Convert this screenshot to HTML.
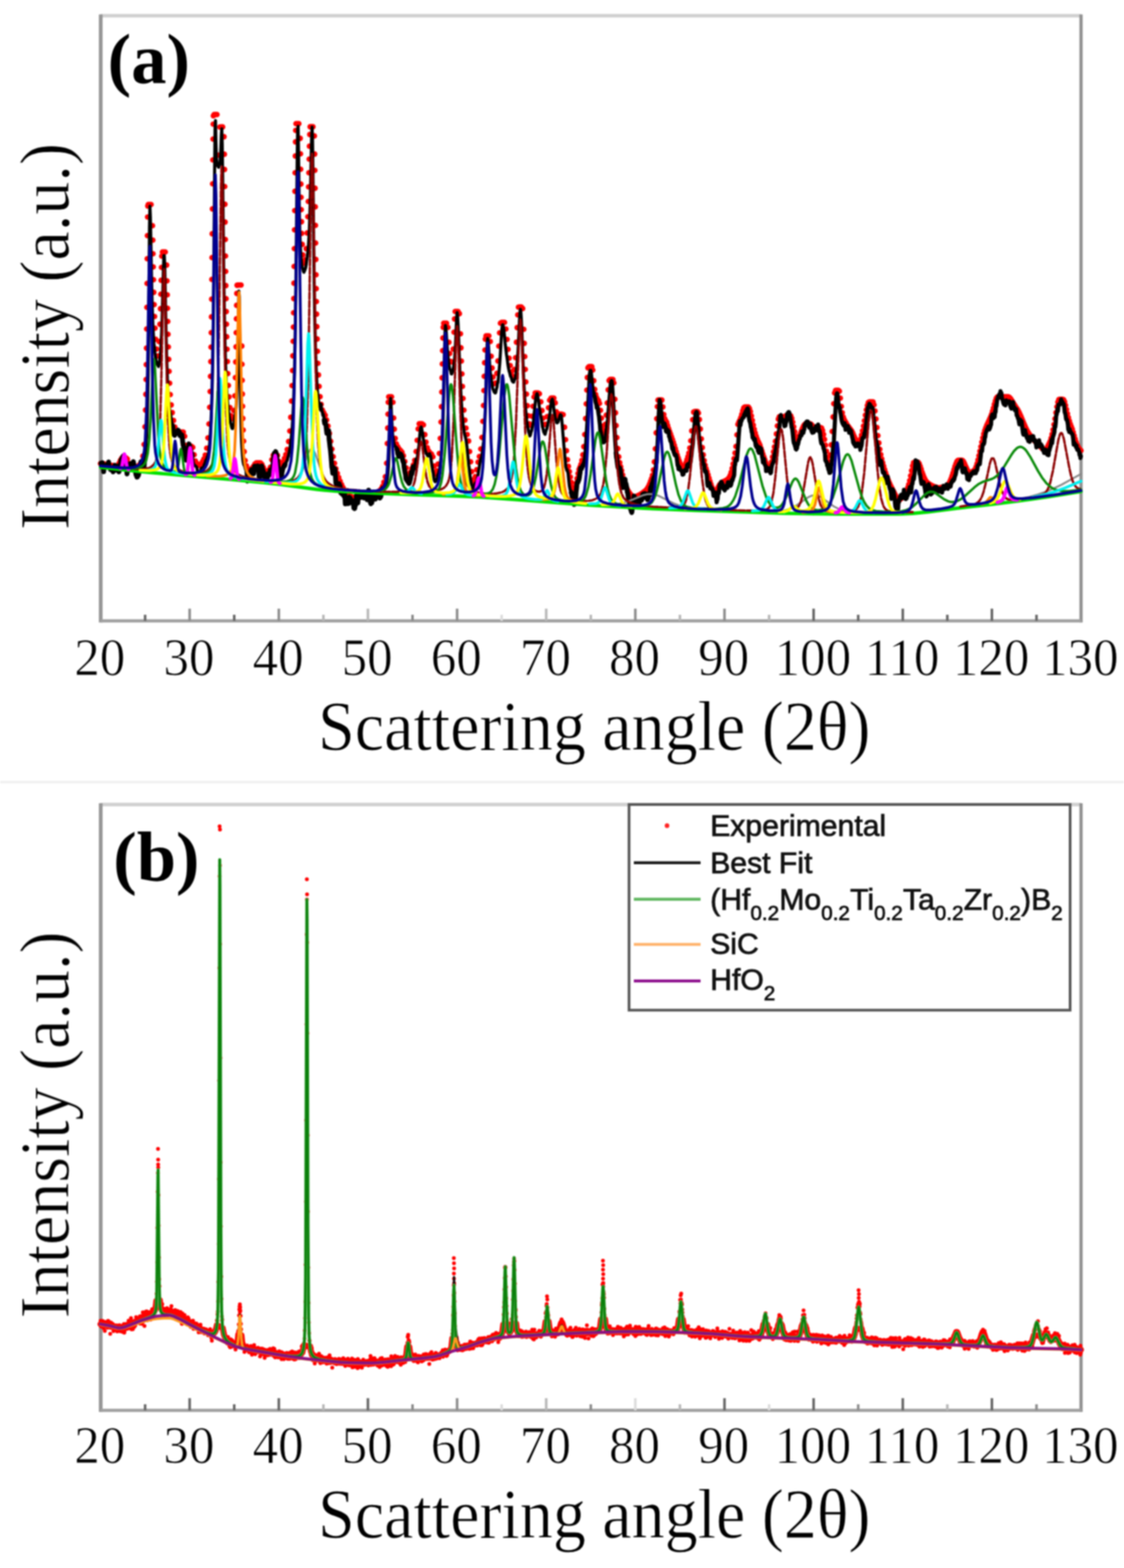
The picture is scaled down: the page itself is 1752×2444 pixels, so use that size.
<!DOCTYPE html><html><head><meta charset="utf-8"><title>XRD patterns</title>
<style>html,body{margin:0;padding:0;background:#fff;}body{width:1752px;height:2444px;overflow:hidden;}svg{display:block;}.s{font-family:"Liberation Serif","DejaVu Serif",serif;fill:#000;}.a{font-family:"Liberation Sans","DejaVu Sans",sans-serif;fill:#111;}path,polyline{fill:none;stroke-linejoin:round;stroke-linecap:round;}</style></head><body>
<svg width="1752" height="2444" viewBox="0 0 1752 2444">
<defs><filter id="bl" x="-5%" y="-5%" width="110%" height="110%" color-interpolation-filters="sRGB"><feGaussianBlur stdDeviation="1.1"/></filter><marker id="rd" markerWidth="12" markerHeight="12" refX="6" refY="6" markerUnits="userSpaceOnUse"><circle cx="6" cy="6" r="4.3" fill="#f00"/></marker><marker id="rs" markerWidth="8" markerHeight="8" refX="4" refY="4" markerUnits="userSpaceOnUse"><circle cx="4" cy="4" r="3.0" fill="#f00"/></marker></defs>
<rect width="1752" height="2444" fill="#fff"/>
<g filter="url(#bl)">
<line x1="0" y1="1219" x2="1752" y2="1219" stroke="#f1f1f1" stroke-width="4"/>
<line x1="156.7" y1="24.5" x2="1685.04" y2="24.5" stroke="#d0d0d0" stroke-width="5.6"/>
<line x1="157.0" y1="22.5" x2="157.0" y2="970.2" stroke="#969696" stroke-width="5.8"/>
<line x1="1685.04" y1="22.5" x2="1685.04" y2="970.2" stroke="#909090" stroke-width="5"/>
<line x1="156.7" y1="967.7" x2="1685.04" y2="967.7" stroke="#a0a0a0" stroke-width="5"/>
<line x1="226.2" y1="967.7" x2="226.2" y2="958.2" stroke="#666" stroke-width="4" stroke-linecap="butt"/>
<line x1="295.6" y1="967.7" x2="295.6" y2="948.7" stroke="#8c8c8c" stroke-width="4" stroke-linecap="butt"/>
<line x1="365.1" y1="967.7" x2="365.1" y2="958.2" stroke="#666" stroke-width="4" stroke-linecap="butt"/>
<line x1="434.6" y1="967.7" x2="434.6" y2="948.7" stroke="#8c8c8c" stroke-width="4" stroke-linecap="butt"/>
<line x1="504.1" y1="967.7" x2="504.1" y2="958.2" stroke="#b8b8b8" stroke-width="4" stroke-linecap="butt"/>
<line x1="573.5" y1="967.7" x2="573.5" y2="948.7" stroke="#b8b8b8" stroke-width="4" stroke-linecap="butt"/>
<line x1="643.0" y1="967.7" x2="643.0" y2="958.2" stroke="#8c8c8c" stroke-width="4" stroke-linecap="butt"/>
<line x1="712.5" y1="967.7" x2="712.5" y2="948.7" stroke="#8c8c8c" stroke-width="4" stroke-linecap="butt"/>
<line x1="781.9" y1="967.7" x2="781.9" y2="958.2" stroke="#dcdcdc" stroke-width="4" stroke-linecap="butt"/>
<line x1="851.4" y1="967.7" x2="851.4" y2="948.7" stroke="#b8b8b8" stroke-width="4" stroke-linecap="butt"/>
<line x1="920.9" y1="967.7" x2="920.9" y2="958.2" stroke="#b8b8b8" stroke-width="4" stroke-linecap="butt"/>
<line x1="990.3" y1="967.7" x2="990.3" y2="948.7" stroke="#8c8c8c" stroke-width="4" stroke-linecap="butt"/>
<line x1="1059.8" y1="967.7" x2="1059.8" y2="958.2" stroke="#b8b8b8" stroke-width="4" stroke-linecap="butt"/>
<line x1="1129.3" y1="967.7" x2="1129.3" y2="948.7" stroke="#8c8c8c" stroke-width="4" stroke-linecap="butt"/>
<line x1="1198.8" y1="967.7" x2="1198.8" y2="958.2" stroke="#b8b8b8" stroke-width="4" stroke-linecap="butt"/>
<line x1="1268.2" y1="967.7" x2="1268.2" y2="948.7" stroke="#666" stroke-width="4" stroke-linecap="butt"/>
<line x1="1337.7" y1="967.7" x2="1337.7" y2="958.2" stroke="#666" stroke-width="4" stroke-linecap="butt"/>
<line x1="1407.2" y1="967.7" x2="1407.2" y2="948.7" stroke="#666" stroke-width="4" stroke-linecap="butt"/>
<line x1="1476.6" y1="967.7" x2="1476.6" y2="958.2" stroke="#666" stroke-width="4" stroke-linecap="butt"/>
<line x1="1546.1" y1="967.7" x2="1546.1" y2="948.7" stroke="#666" stroke-width="4" stroke-linecap="butt"/>
<line x1="1615.6" y1="967.7" x2="1615.6" y2="958.2" stroke="#666" stroke-width="4" stroke-linecap="butt"/>
<text class="s" transform="translate(155.5,1051.7) scale(0.964,1)" font-size="82.5" text-anchor="middle" stroke="#fff" stroke-width="1.0" paint-order="fill stroke">20</text>
<text class="s" transform="translate(294.4,1051.7) scale(0.964,1)" font-size="82.5" text-anchor="middle" stroke="#fff" stroke-width="1.0" paint-order="fill stroke">30</text>
<text class="s" transform="translate(433.4,1051.7) scale(0.964,1)" font-size="82.5" text-anchor="middle" stroke="#fff" stroke-width="1.0" paint-order="fill stroke">40</text>
<text class="s" transform="translate(572.3,1051.7) scale(0.964,1)" font-size="82.5" text-anchor="middle" stroke="#fff" stroke-width="1.0" paint-order="fill stroke">50</text>
<text class="s" transform="translate(711.3,1051.7) scale(0.964,1)" font-size="82.5" text-anchor="middle" stroke="#fff" stroke-width="1.0" paint-order="fill stroke">60</text>
<text class="s" transform="translate(850.2,1051.7) scale(0.964,1)" font-size="82.5" text-anchor="middle" stroke="#fff" stroke-width="1.0" paint-order="fill stroke">70</text>
<text class="s" transform="translate(989.1,1051.7) scale(0.964,1)" font-size="82.5" text-anchor="middle" stroke="#fff" stroke-width="1.0" paint-order="fill stroke">80</text>
<text class="s" transform="translate(1128.1,1051.7) scale(0.964,1)" font-size="82.5" text-anchor="middle" stroke="#fff" stroke-width="1.0" paint-order="fill stroke">90</text>
<text class="s" transform="translate(1267.0,1051.7) scale(0.964,1)" font-size="82.5" text-anchor="middle" stroke="#fff" stroke-width="1.0" paint-order="fill stroke">100</text>
<text class="s" transform="translate(1406.0,1051.7) scale(0.964,1)" font-size="82.5" text-anchor="middle" stroke="#fff" stroke-width="1.0" paint-order="fill stroke">110</text>
<text class="s" transform="translate(1544.9,1051.7) scale(0.964,1)" font-size="82.5" text-anchor="middle" stroke="#fff" stroke-width="1.0" paint-order="fill stroke">120</text>
<text class="s" transform="translate(1683.8,1051.7) scale(0.964,1)" font-size="82.5" text-anchor="middle" stroke="#fff" stroke-width="1.0" paint-order="fill stroke">130</text>
<text class="s" transform="translate(926.3,1168.7) scale(0.94,1)" font-size="109.5" text-anchor="middle" stroke="#fff" stroke-width="1.0" paint-order="fill stroke">Scattering angle (2θ)</text>
<text class="s" transform="translate(107,524.6) rotate(-90) scale(0.94,1)" font-size="109.5" text-anchor="middle" stroke="#fff" stroke-width="1.0" paint-order="fill stroke">Intensity (a.u.)</text>
<text class="s" transform="translate(167.8,128.8)" font-size="110" text-anchor="start" font-weight="bold">(a)</text>
<line x1="156.7" y1="1254" x2="1685.04" y2="1254" stroke="#d0d0d0" stroke-width="5.6"/>
<line x1="157.0" y1="1252" x2="157.0" y2="2200.8" stroke="#969696" stroke-width="5.8"/>
<line x1="1685.04" y1="1252" x2="1685.04" y2="2200.8" stroke="#909090" stroke-width="5"/>
<line x1="156.7" y1="2198.3" x2="1685.04" y2="2198.3" stroke="#a0a0a0" stroke-width="5"/>
<line x1="226.2" y1="2198.3" x2="226.2" y2="2188.8" stroke="#666" stroke-width="4" stroke-linecap="butt"/>
<line x1="295.6" y1="2198.3" x2="295.6" y2="2179.3" stroke="#666" stroke-width="4" stroke-linecap="butt"/>
<line x1="365.1" y1="2198.3" x2="365.1" y2="2188.8" stroke="#666" stroke-width="4" stroke-linecap="butt"/>
<line x1="434.6" y1="2198.3" x2="434.6" y2="2179.3" stroke="#666" stroke-width="4" stroke-linecap="butt"/>
<line x1="504.1" y1="2198.3" x2="504.1" y2="2188.8" stroke="#b8b8b8" stroke-width="4" stroke-linecap="butt"/>
<line x1="573.5" y1="2198.3" x2="573.5" y2="2179.3" stroke="#666" stroke-width="4" stroke-linecap="butt"/>
<line x1="643.0" y1="2198.3" x2="643.0" y2="2188.8" stroke="#8c8c8c" stroke-width="4" stroke-linecap="butt"/>
<line x1="712.5" y1="2198.3" x2="712.5" y2="2179.3" stroke="#8c8c8c" stroke-width="4" stroke-linecap="butt"/>
<line x1="781.9" y1="2198.3" x2="781.9" y2="2188.8" stroke="#dcdcdc" stroke-width="4" stroke-linecap="butt"/>
<line x1="851.4" y1="2198.3" x2="851.4" y2="2179.3" stroke="#b8b8b8" stroke-width="4" stroke-linecap="butt"/>
<line x1="920.9" y1="2198.3" x2="920.9" y2="2188.8" stroke="#8c8c8c" stroke-width="4" stroke-linecap="butt"/>
<line x1="990.3" y1="2198.3" x2="990.3" y2="2179.3" stroke="#dcdcdc" stroke-width="4" stroke-linecap="butt"/>
<line x1="1059.8" y1="2198.3" x2="1059.8" y2="2188.8" stroke="#b8b8b8" stroke-width="4" stroke-linecap="butt"/>
<line x1="1129.3" y1="2198.3" x2="1129.3" y2="2179.3" stroke="#666" stroke-width="4" stroke-linecap="butt"/>
<line x1="1198.8" y1="2198.3" x2="1198.8" y2="2188.8" stroke="#dcdcdc" stroke-width="4" stroke-linecap="butt"/>
<line x1="1268.2" y1="2198.3" x2="1268.2" y2="2179.3" stroke="#666" stroke-width="4" stroke-linecap="butt"/>
<line x1="1337.7" y1="2198.3" x2="1337.7" y2="2188.8" stroke="#8c8c8c" stroke-width="4" stroke-linecap="butt"/>
<line x1="1407.2" y1="2198.3" x2="1407.2" y2="2179.3" stroke="#666" stroke-width="4" stroke-linecap="butt"/>
<line x1="1476.6" y1="2198.3" x2="1476.6" y2="2188.8" stroke="#b8b8b8" stroke-width="4" stroke-linecap="butt"/>
<line x1="1546.1" y1="2198.3" x2="1546.1" y2="2179.3" stroke="#666" stroke-width="4" stroke-linecap="butt"/>
<line x1="1615.6" y1="2198.3" x2="1615.6" y2="2188.8" stroke="#8c8c8c" stroke-width="4" stroke-linecap="butt"/>
<text class="s" transform="translate(155.5,2280.0) scale(0.964,1)" font-size="82.5" text-anchor="middle" stroke="#fff" stroke-width="1.0" paint-order="fill stroke">20</text>
<text class="s" transform="translate(294.4,2280.0) scale(0.964,1)" font-size="82.5" text-anchor="middle" stroke="#fff" stroke-width="1.0" paint-order="fill stroke">30</text>
<text class="s" transform="translate(433.4,2280.0) scale(0.964,1)" font-size="82.5" text-anchor="middle" stroke="#fff" stroke-width="1.0" paint-order="fill stroke">40</text>
<text class="s" transform="translate(572.3,2280.0) scale(0.964,1)" font-size="82.5" text-anchor="middle" stroke="#fff" stroke-width="1.0" paint-order="fill stroke">50</text>
<text class="s" transform="translate(711.3,2280.0) scale(0.964,1)" font-size="82.5" text-anchor="middle" stroke="#fff" stroke-width="1.0" paint-order="fill stroke">60</text>
<text class="s" transform="translate(850.2,2280.0) scale(0.964,1)" font-size="82.5" text-anchor="middle" stroke="#fff" stroke-width="1.0" paint-order="fill stroke">70</text>
<text class="s" transform="translate(989.1,2280.0) scale(0.964,1)" font-size="82.5" text-anchor="middle" stroke="#fff" stroke-width="1.0" paint-order="fill stroke">80</text>
<text class="s" transform="translate(1128.1,2280.0) scale(0.964,1)" font-size="82.5" text-anchor="middle" stroke="#fff" stroke-width="1.0" paint-order="fill stroke">90</text>
<text class="s" transform="translate(1267.0,2280.0) scale(0.964,1)" font-size="82.5" text-anchor="middle" stroke="#fff" stroke-width="1.0" paint-order="fill stroke">100</text>
<text class="s" transform="translate(1406.0,2280.0) scale(0.964,1)" font-size="82.5" text-anchor="middle" stroke="#fff" stroke-width="1.0" paint-order="fill stroke">110</text>
<text class="s" transform="translate(1544.9,2280.0) scale(0.964,1)" font-size="82.5" text-anchor="middle" stroke="#fff" stroke-width="1.0" paint-order="fill stroke">120</text>
<text class="s" transform="translate(1683.8,2280.0) scale(0.964,1)" font-size="82.5" text-anchor="middle" stroke="#fff" stroke-width="1.0" paint-order="fill stroke">130</text>
<text class="s" transform="translate(926.3,2397.0) scale(0.94,1)" font-size="109.5" text-anchor="middle" stroke="#fff" stroke-width="1.0" paint-order="fill stroke">Scattering angle (2θ)</text>
<text class="s" transform="translate(107,1753.5) rotate(-90) scale(0.94,1)" font-size="109.5" text-anchor="middle" stroke="#fff" stroke-width="1.0" paint-order="fill stroke">Intensity (a.u.)</text>
<text class="s" transform="translate(176.5,1372.5)" font-size="110" text-anchor="start" font-weight="bold">(b)</text>
<g id="pa">
<polyline points="156.7,722.5 158.9,722.5 161.1,722.9 163.3,723.5 165.5,724.1 167.7,724.6 169.9,725.1 172.1,725.4 174.3,725.6 176.5,725.9 178.7,726.1 180.9,726.2 183.1,726 185.3,722.5 187.5,717.9 189.7,714.2 191.9,713.5 194.1,713.5 196.3,713.5 198.5,715.5 200.7,722.1 202.9,726.5 205.1,726.8 207.3,727 209.5,727.2 211.7,727.3 213.9,727.1 216.1,725.8 218.3,723.5 220.5,720.3 222.7,710.9 224.6,692.8 226,665.2 226.8,639.1 227.3,614.6 227.7,591.5 228,568.3 228.3,542.6 228.6,512.8 228.9,479 229.2,441.7 229.5,403.3 229.8,367.3 230.1,338.3 230.4,321.1 231.1,318.8 233.3,318.8 235.5,318.8 237.7,351.7 238.2,374.3 238.5,395.5 238.9,416 239.3,436 239.7,455.6 240.3,474.7 240.9,493.3 241.6,511.5 242.7,528.8 244.1,544 245.9,554.9 248.1,532.4 249.3,505.4 250.1,481.1 250.7,458.5 251.2,436.9 251.7,416.7 252.2,399.3 253.2,392.7 255.4,392.7 257.6,392.7 259.8,413.1 260.3,437.7 260.7,459.5 261.1,480.5 261.5,501 261.9,521 262.4,540.7 263,560 263.6,578.8 264.4,597.3 265.4,615 266.9,631.1 268.5,643.1 270.5,655.4 272.5,665.6 274.7,672.3 276.9,673.5 279.1,673.5 281.3,673.5 283.5,673.5 285.7,673.5 287.9,680 289.8,694.2 291.6,698.2 293.8,695.5 296,695.5 298.2,695.5 300.4,697.3 302.6,708.8 304.6,718.5 306.8,722.3 309,725.2 311.2,725.5 313.4,723 315.6,719.6 317.8,715.2 320,709.2 322.2,698.5 324.1,682.5 325.7,660.8 326.8,634.7 327.6,610.2 328.1,586.6 328.6,563.6 328.9,541 329.3,518.5 329.6,493.9 329.9,466.3 330.2,435.5 330.5,401.5 330.8,364.4 331.1,325.6 331.4,286.5 331.7,249.2 332,216.8 332.3,193.5 332.6,180.5 333.8,178.5 336,178.5 338.2,178.5 340.4,241.8 342.6,198 344.8,197.9 347,197.9 349.2,213.1 349.7,240.4 350,264.1 350.3,290.7 350.6,318.4 350.9,346.1 351.2,373.2 351.5,399 351.8,423 352.1,445.1 352.4,465.5 352.7,485.6 353,505.3 353.4,524.9 353.9,544.3 354.5,563.5 355.1,582.2 356,600.7 357,618.6 358.4,635.2 360.1,647.8 362.1,652.7 364.2,639.7 365.9,617 366.9,588.6 367.4,564.1 367.9,540.6 368.2,518.5 368.5,496.9 368.8,475.9 369.1,457.4 369.5,444.6 371.3,444.3 373.5,444.3 375.7,444.3 376.9,539.4 377.2,567.7 377.5,592.7 377.8,614.1 378.1,633.3 378.5,652.1 379,670.2 379.7,687.5 380.6,703.9 382.1,717.7 384.1,726.1 386.3,731.9 388.5,732.7 390.7,731.3 392.9,729.7 395.1,726.7 397.3,723.4 399.5,721.6 401.7,721.5 403.9,721.5 406.1,721.5 408.3,723.8 410.5,728.6 412.7,733.3 414.9,734.6 417.1,733.9 419.3,732.9 421.5,728.3 423.7,716.5 425.9,709.6 428.1,709.5 430.3,709.5 432.5,709.9 434.7,719 436.7,729 438.9,725.4 441.1,720.5 443.3,714.6 445.5,708.6 447.7,700.6 449.9,688.1 451.7,671.7 453.2,650.4 454.4,625.1 455.3,601 455.9,577.5 456.4,554.6 456.9,532 457.3,509.7 457.6,487.5 457.9,465.4 458.2,441.4 458.5,415.3 458.8,387.5 459.1,358.2 459.4,328.2 459.7,298.1 460,269.3 460.3,243.1 460.6,221.1 460.9,203.3 461.4,192.8 463.6,192.7 465.8,192.7 468,215.6 468.4,239.7 468.7,263.7 469,286.9 469.3,307.5 469.6,326.7 470,345.6 470.4,363.7 471.1,380.9 472.1,397.2 473.6,410.5 475.5,405.1 477.3,387.6 478.8,363.1 479.8,337.7 480.5,314 481,291.2 481.5,269.3 481.9,248 482.3,227.9 482.8,209.6 483.4,197.6 485.6,197.6 487.8,197.6 490,211.9 490.5,240.1 490.8,265.5 491.1,293.4 491.4,322.4 491.7,351.2 492,378.7 492.3,404.4 492.6,428.2 492.9,449.9 493.2,470 493.5,489.6 493.9,509.1 494.4,528.4 494.9,547.5 495.5,566.3 496.4,584.4 497.4,602.2 498.9,618.2 500.5,630.2 502.5,639.1 504.7,643.3 506.9,647.3 509.1,654.6 511.3,664 513.5,675.6 515.5,687.8 517.4,700 519.4,711.7 521.4,722 523.6,730.6 525.8,737.9 528,744.4 530.2,750 532.4,755.2 534.6,759.9 536.8,763.8 539,766.8 541.2,769.3 543.4,771.6 545.6,773.4 547.8,774.4 550,775 552.2,775.6 554.4,776 556.6,776.3 558.8,775.8 561,775.2 563.2,774.5 565.4,773.9 567.6,773.4 569.8,773 572,772.6 574.2,772.2 576.4,771.8 578.6,771.4 580.8,770.9 583,770.2 585.2,769.3 587.4,768.1 589.6,766.6 591.8,764.7 594,762.3 596.2,758 598.4,751.6 600.6,743.1 602.6,722 603.7,691.3 604.3,667.1 604.8,645.5 605.2,626.9 605.9,618.5 608.1,618.5 610.3,618.5 612.5,627 613.6,651.5 614.6,668.9 616,683.3 617.8,691.8 620,696.4 622.2,699.7 624.4,702.2 626.6,704.9 628.8,710.4 631,719.2 633.2,729.2 635.4,738.3 637.6,740.8 639.8,736 642,730.2 644.2,724.9 646.4,717.6 648.6,703.8 650.3,686.3 651.8,668.5 653.4,660.5 655.6,660.5 657.8,660.5 660,662.2 662.2,677.4 664,689.1 666,697.8 668.2,703 670.4,706.1 672.6,707.9 674.8,712 677,726.2 678.8,739.3 680.7,733.8 682.9,723.4 684.8,706.7 686.3,683.3 687.4,657.7 688.1,633.9 688.6,611 689.1,588.9 689.5,567.3 689.9,546.5 690.3,526.9 690.8,510.1 691.6,503.7 693.8,503.7 696,503.7 698.2,510.2 699.7,533.5 701,551 702.6,563.4 704.6,564.2 706.4,544.1 707.7,517.8 708.5,497.1 709.5,485.5 711.7,485.5 713.9,485.5 716.1,488.9 717.7,520.2 718.5,542.1 719.2,562.8 720,582.8 720.8,602.2 721.8,621 723.1,639.3 724.6,654.9 726.3,667.3 728.2,677.2 730.4,687.4 732,703.7 733.6,719.8 735.2,735 736.8,748 738.7,751.3 740.9,742.8 743.1,732.1 745.2,720.3 747.2,711.5 749.4,699.7 751.2,681.8 752.6,656.7 753.6,632 754.3,608.8 754.8,586.5 755.4,565.4 755.9,545.5 756.5,528.6 757.6,523.5 759.8,523.5 762,523.5 764.2,532.3 765.6,555.2 767,573.6 768.5,587.8 770.3,598 772.5,597.1 774.5,581.9 776.1,562.6 777.5,539.5 778.7,518.8 780,503.7 782,502.5 784.2,502.5 786.4,502.5 788.6,512.7 790.4,529 791.9,544.5 793.6,558.2 795.4,569.7 797.4,579.3 799.6,586.5 801.8,575.7 803.6,557.5 805,533.4 806.1,510.6 807,490.8 808.1,478.7 810.3,478.5 812.5,478.5 814.7,480.9 816.4,513.2 817.2,535.1 818,555.8 818.8,575.8 819.6,595.2 820.6,614.2 821.9,632.4 823.4,648 825.1,660.5 827,662.8 829.1,648.8 830.8,633.2 832.4,618.8 834.2,612.5 836.4,612.5 838.6,612.5 840.8,613.7 843,626.3 844.8,639.9 846.6,651.8 848.6,661.6 850.8,661.6 853,649.4 854.9,635.5 856.7,623.7 858.9,620.5 861.1,620.5 863.3,620.5 865.5,627.9 867.2,641.9 869,650 871.2,645.5 873.4,645.5 875.6,645.5 877.8,646.2 880,665.9 881.5,685.2 883,702.5 884.5,716.5 886,726.9 887.5,735.1 889,743.5 890.5,751.8 892,759.3 893.5,765.5 895,765.5 896.5,760 898,753.3 899.5,745.9 901,738 902.5,731.7 904,728.3 905.5,723.8 907,717.6 908.5,708.9 910,696.1 911.5,677.3 912.8,652.4 913.8,629.5 914.7,608 915.5,588.4 916.5,573.4 918,571.5 919.5,571.5 921,571.5 922.5,571.5 924,576.8 925.5,593.4 927,606.8 928.5,614.9 930,619.7 931.5,622.7 933,624.6 934.5,628.7 936,639.5 937.5,651.8 939,664.2 940.5,675.1 942,671.2 943.5,661.2 945,647 946.5,628 948,607.6 949.4,593.1 950.9,591.5 952.4,591.5 953.9,591.5 955.4,591.5 956.9,596.7 958.4,622.2 959.4,643.4 960.4,663.2 961.6,682 963,699.1 964.5,712 966,721.1 967.5,727.6 969,733.5 970.5,740.2 972,746.2 973.5,751.5 975,756 976.5,759.9 978,763.1 979.5,765.7 981,768 982.5,770.1 984,772 985.5,773.6 987,774.8 988.5,774.8 990,774.4 991.5,773.9 993,773.3 994.5,772.6 996,771.8 997.5,771 999,770.1 1000.5,769.1 1002,768 1003.5,766.9 1005,765.8 1006.5,764.5 1008,762.8 1009.5,760.5 1011,757.8 1012.5,754.4 1014,750.4 1015.5,746 1017,740.7 1018.5,732.6 1020,719.9 1021.5,699.5 1022.8,674.6 1023.7,652.6 1024.6,633.7 1025.7,623.6 1027.2,623.6 1028.7,623.6 1030.2,623.6 1031.7,623.6 1033.2,634.3 1034.7,646.1 1036.2,652.6 1037.7,655.9 1039.2,658.3 1040.7,663.4 1042.2,668.1 1043.7,672.5 1045.2,676.6 1046.7,680.8 1048.2,685 1049.7,689.6 1051.2,694.4 1052.7,699.3 1054.2,704.3 1055.7,709.2 1057.2,713.9 1058.7,718.3 1060.2,722.4 1061.7,726 1063.2,729 1064.7,731.2 1066.2,728.8 1067.7,725.3 1069.2,721.2 1070.7,716.6 1072.2,711.8 1073.7,706.3 1075.2,698.3 1076.7,687 1078.2,671.6 1079.7,654.1 1081.2,642.4 1082.7,641.5 1084.2,641.5 1085.7,641.5 1087.2,641.5 1088.7,643.8 1090.2,653.9 1091.7,668.6 1093.2,684 1094.7,697.6 1096.2,708.9 1097.7,717.9 1099.2,725 1100.7,730.6 1102.2,735.1 1103.7,740.1 1105.2,745.2 1106.7,750.2 1108.2,754.9 1109.7,759.2 1111.2,763 1112.7,766.1 1114.2,768.4 1115.7,766.2 1117.2,763.6 1118.7,760.8 1120.2,758 1121.7,755.6 1123.2,753.8 1124.7,752.5 1126.2,751.6 1127.7,750.8 1129.2,750.1 1130.7,749.4 1132.2,748.5 1133.7,747.5 1135.2,746.1 1136.7,744.1 1138.2,740.8 1139.7,736 1141.2,730.1 1142.7,723 1144.2,714.9 1145.7,706 1147.2,695.9 1148.7,677.7 1150.2,661.5 1151.7,657.7 1153.2,654.8 1154.7,650.9 1156.2,645.9 1157.7,640.4 1159.2,635.9 1160.7,634.5 1162.2,634.5 1163.7,634.5 1165.2,634.5 1166.7,634.6 1168.2,636.7 1169.7,641.6 1171.2,648.2 1172.7,655.4 1174.2,662.6 1175.7,669.1 1177.2,674.9 1178.7,679.9 1180.2,684.1 1181.7,687.7 1183.2,690.7 1184.7,694.4 1186.2,698.8 1187.7,703.2 1189.2,707.7 1190.7,712.2 1192.2,716.6 1193.7,720.7 1195.2,724.5 1196.7,727.9 1198.2,730.8 1199.7,731.9 1201.2,726.7 1202.7,720 1204.2,712.3 1205.7,704.3 1207.2,696.6 1208.7,687.7 1210.2,676.4 1211.7,663.8 1213.2,653.2 1214.7,649.5 1216.2,649.5 1217.7,649.5 1219.2,649.5 1220.7,649.5 1222.2,651.6 1223.7,650.6 1225.2,647.7 1226.7,647.5 1228.2,647.5 1229.7,647.5 1231.2,647.5 1232.7,648.3 1234.2,652.1 1235.7,658 1237.2,665.3 1238.7,672.9 1240.2,680.1 1241.7,686.7 1243.2,688.3 1244.7,684.2 1246.2,679.9 1247.7,675.6 1249.2,671.5 1250.7,667.8 1252.2,664.6 1253.7,662.2 1255.2,660.8 1256.7,660.5 1258.2,660.5 1259.7,660.5 1261.2,660.5 1262.7,660.5 1264.2,661.3 1265.7,662.9 1267.2,664.8 1268.7,666.8 1270.2,667.3 1271.7,666.8 1273.2,666.5 1274.7,666.5 1276.2,666.5 1277.7,666.5 1279.2,666.5 1280.7,667.4 1282.2,671 1283.7,677.1 1285.2,684.9 1286.7,693.9 1288.2,703.3 1289.7,712.7 1291.2,721.7 1292.7,720.2 1294.2,709 1295.7,693.4 1297.2,672.5 1298.5,649.9 1299.6,629.3 1300.9,612.5 1302.4,608.6 1303.9,608.6 1305.4,608.6 1306.9,608.6 1308.4,609.8 1309.9,620.5 1311.4,633.5 1312.9,643.2 1314.4,649.7 1315.9,653.9 1317.4,656.7 1318.9,659.4 1320.4,662 1321.9,664.2 1323.4,666.1 1324.9,668 1326.4,670 1327.9,672.4 1329.4,675.3 1330.9,678.7 1332.4,682.3 1333.9,685.9 1335.4,689.4 1336.9,692.6 1338.4,693.3 1339.9,689.1 1341.4,684.1 1342.9,678.3 1344.4,671.5 1345.9,664 1347.4,655.7 1348.9,647.1 1350.4,638.8 1351.9,632 1353.4,627.6 1354.9,626.5 1356.4,626.5 1357.9,626.5 1359.4,626.5 1360.9,626.6 1362.4,631 1363.9,640.5 1365.4,653 1366.9,666.3 1368.4,679 1369.9,690.4 1371.4,700.3 1372.9,708.5 1374.4,715.4 1375.9,721.2 1377.4,726.5 1378.9,731.7 1380.4,736.5 1381.9,741.1 1383.4,745.3 1384.9,749.3 1386.4,752.9 1387.9,756.3 1389.4,759.4 1390.9,762.3 1392.4,765.2 1393.9,768.1 1395.4,771 1396.9,773.7 1398.4,776.1 1399.9,778.1 1401.4,779.4 1402.9,778.4 1404.4,777.1 1405.9,775.5 1407.4,773.8 1408.9,771.9 1410.4,769.8 1411.9,767.6 1413.4,764.4 1414.9,760.4 1416.4,755.3 1417.9,749 1419.4,741.6 1420.9,733.6 1422.4,726.1 1423.9,721.4 1425.4,720.5 1426.9,720.5 1428.4,720.5 1429.9,720.5 1431.4,720.7 1432.9,722.9 1434.4,726.7 1435.9,731.4 1437.4,736.2 1438.9,740.4 1440.4,744.1 1441.9,747.2 1443.4,749.7 1444.9,751.8 1446.4,753.1 1447.9,754.1 1449.4,755.1 1450.9,756 1452.4,756.8 1453.9,757.6 1455.4,758.3 1456.9,758.9 1458.4,759.4 1459.9,759.8 1461.4,760.1 1462.9,760.4 1464.4,760.2 1465.9,760 1467.4,759.8 1468.9,759.6 1470.4,759.3 1471.9,758.9 1473.4,758.5 1474.9,758.1 1476.4,757.7 1477.9,756 1479.4,753.2 1480.9,749.9 1482.4,746.2 1483.9,741.9 1485.4,737.3 1486.9,732.3 1488.4,727.4 1489.9,723 1491.4,719.5 1492.9,717.7 1494.4,717.5 1495.9,717.5 1497.4,717.5 1498.9,717.5 1500.4,717.8 1501.9,719.6 1503.4,722.6 1504.9,726 1506.4,729.4 1507.9,732.5 1509.4,735 1510.9,737.2 1512.4,736.9 1513.9,736.2 1515.4,735.3 1516.9,734.4 1518.4,733.3 1519.9,731.2 1521.4,727.6 1522.9,722.7 1524.4,716.9 1525.9,710.3 1527.4,703.4 1528.9,696.2 1530.4,689.2 1531.9,682.5 1533.4,676.4 1534.9,671.2 1536.4,667.1 1537.9,663.4 1539.4,660.1 1540.9,656.8 1542.4,653.6 1543.9,650.2 1545.4,646.3 1546.9,641.4 1548.4,636.1 1549.9,630.4 1551.4,625.1 1552.9,620.9 1554.4,618.7 1555.9,618.5 1557.4,618.5 1558.9,618.5 1560.4,618.5 1561.9,618.8 1563.4,619.4 1564.9,618.5 1566.4,618.5 1567.9,618.5 1569.4,618.5 1570.9,618.5 1572.4,618.8 1573.9,619.9 1575.4,621.6 1576.9,623.8 1578.4,626.2 1579.9,628.7 1581.4,631.2 1582.9,633.6 1584.4,635.8 1585.9,637.8 1587.4,640.5 1588.9,643.5 1590.4,646.8 1591.9,650.3 1593.4,653.9 1594.9,657.5 1596.4,661.1 1597.9,664.6 1599.4,667.9 1600.9,670.9 1602.4,673.6 1603.9,675.9 1605.4,678 1606.9,680.1 1608.4,682.1 1609.9,683.9 1611.4,685.7 1612.9,687.4 1614.4,689 1615.9,690.5 1617.4,691.9 1618.9,693.4 1620.4,694.9 1621.9,696.4 1623.4,697.9 1624.9,699.4 1626.4,700.7 1627.9,701.8 1629.4,701.8 1630.9,699.8 1632.4,697.3 1633.9,694.3 1635.4,691.1 1636.9,687.7 1638.4,682.8 1639.9,676.9 1641.4,669.9 1642.9,661.8 1644.4,652.7 1645.9,643.1 1647.4,634 1648.9,626.7 1650.4,622.9 1651.9,622.5 1653.4,622.5 1654.9,622.5 1656.4,622.5 1657.9,623.1 1659.4,626.3 1660.9,631.7 1662.4,638.2 1663.9,644.8 1665.4,650.9 1666.9,656.4 1668.4,661.1 1669.9,665 1671.4,668.8 1672.9,673.8 1674.4,679.1 1675.9,684.3 1677.4,689.1 1678.9,693.3 1680.4,696.5 1681.9,698.8 1683.4,700.7 1684.9,702.3" stroke="none" marker-start="url(#rd)" marker-mid="url(#rd)" marker-end="url(#rd)"/>
<path d="M157.4 722L158.1 722.6L158.8 721.9L159.5 721.1L160.2 726.6L160.9 729.7L161.6 735.3L162.3 725.8L163 729.6L163.7 727L164.4 726.5L165.1 727.4L165.8 728.3L166.5 725.9L167.2 723.4L167.9 723.5L168.6 722.7L169.3 720L170 727.3L170.7 727.8L171.4 729.3L172.1 731.8L172.8 729.8L173.5 730L174.2 729.2L174.9 732.4L175.6 733.4L176.3 735.4L177 734.3L177.7 733.3L178.4 729.8L179.1 725.2L179.8 726.6L180.5 726.5L181.2 728.5L181.9 732.9L182.6 730.8L183.3 726.5L184 732.1L184.7 732L185.4 735.5L186.1 732.6L186.8 728L187.5 729.3L188.2 720.5L188.9 716.4L189.6 722.2L190.3 717.4L191 713L191.7 711.1L192.4 711.8L193.1 710.1L193.8 719.6L194.5 722.4L195.2 727.8L195.9 729.1L196.6 729.9L197.3 731.6L198 738.7L198.7 731.8L199.4 733.9L200.1 730.1L200.8 728.2L201.5 723.2L202.2 723.3L202.9 725L203.6 722.7L204.3 724.3L205 727.3L205.7 725.2L206.4 725.8L207.1 721.5L207.8 719.5L208.5 723.4L209.2 726.1L209.9 726.5L210.6 733.7L211.3 736L212 740.2L212.7 741.4L213.4 743.7L214.1 743.6L214.8 740.6L215.5 741.5L216.2 739.1L216.9 734.7L217.6 733.2L218.3 731L219 727.1L219.7 720L220.4 722.9L221.1 721.7L221.8 718.4L222.5 720L223.2 726.6L223.9 719.2L224.6 727.9L225.3 717.8L226 714.2" stroke="#000" stroke-width="7.5"/>
<path d="M268.7 663L269.4 665.9L270.1 672.9L270.8 676L271.5 677.9L272.2 678.6L272.9 675.1L273.6 676.8L274.3 675.8L275 675.3L275.7 674.3L276.4 672.4L277.1 674.3L277.8 670.4L278.5 673.2L279.2 673.3L279.9 673.6L280.6 678.9L281.3 678.1L282 678.9L282.7 680.7L283.4 677.6L284.1 682.6L284.8 688.7L285.5 694.1L286.2 696.1L286.9 704.3L287.6 705.9L288.3 711.7L289 713.9L289.7 714.5L290.4 717.3L291.1 711.1L291.8 707.5L292.5 703L293.2 698.3L293.9 697.1L294.6 691.9L295.3 694.6L296 697L296.7 700.7L297.4 702L298.1 707.6L298.8 706.4L299.5 710.7" stroke="#000" stroke-width="7.5"/>
<path d="M384.2 746L384.9 749L385.6 749.9L386.3 746.9L387 745.4L387.7 744.1L388.4 743.4L389.1 746.6L389.8 737.7L390.5 738.9L391.2 733.8L391.9 732.2L392.6 737.9L393.3 734.2L394 736.7L394.7 736.9L395.4 738.3L396.1 730.3L396.8 726.7L397.5 729L398.2 726.7L398.9 728.2L399.6 731.4L400.3 727.3L401 727L401.7 726.3L402.4 730.1L403.1 733.9L403.8 741.9L404.5 748.6L405.2 741.2L405.9 739.9L406.6 726.8L407.3 729.8L408 726.3L408.7 729.2L409.4 731.7L410.1 734.1L410.8 735.3L411.5 739.3L412.2 743.7L412.9 744.3L413.6 740.6L414.3 740.3L415 740.7L415.7 739.5L416.4 745.8L417.1 743.7L417.8 742.1L418.5 740.1L419.2 737.6L419.9 740.4L420.6 736.7L421.3 732.5L422 736.7L422.7 734L423.4 739L424.1 733.3L424.8 729.1L425.5 724.4L426.2 716.3L426.9 712.5L427.6 706.4L428.3 708.3L429 706.7L429.7 703.8L430.4 706.2L431.1 708.8L431.8 716.3L432.5 718.6L433.2 726.4L433.9 730.7L434.6 737.6L435.3 740.6L436 742.7L436.7 741.6L437.4 741.6L438.1 741L438.8 742.9L439.5 737.2L440.2 733.9L440.9 730.5L441.6 728.8L442.3 727.5L443 725.9L443.7 726.2L444.4 724" stroke="#000" stroke-width="7.5"/>
<path d="M505.3 655.2L506 659.8L506.7 655.4L507.4 661.6L508.1 662.6L508.8 670L509.5 675.6L510.2 674.4L510.9 674.6L511.6 676.2L512.3 671.3L513 685.2L513.7 690.5L514.4 697L515.1 701.8L515.8 709.5L516.5 718.3L517.2 728L517.9 731.2L518.6 737.7L519.3 728.5L520 732.6L520.7 732.6L521.4 730.5L522.1 730.8L522.8 740.4L523.5 753L524.2 754.6L524.9 758.2L525.6 759.8L526.3 760.8L527 763.1L527.7 761.6L528.4 753.7L529.1 762.2L529.8 756.3L530.5 760.3L531.2 768.2L531.9 767.3L532.6 768.9L533.3 770.3L534 770.6L534.7 769.5L535.4 769.5L536.1 773.3L536.8 773.1L537.5 770.9L538.2 785.4L538.9 778L539.6 784.2L540.3 784L541 784.7L541.7 780.6L542.4 780.7L543.1 784.9L543.8 777.8L544.5 774.8L545.2 778.6L545.9 776.3L546.6 779.8L547.3 782.6L548 782.4L548.7 780.1L549.4 784.3L550.1 783L550.8 782.4L551.5 791.7L552.2 788.9L552.9 792.7L553.6 788L554.3 787.4L555 782.8L555.7 772.2L556.4 774.4L557.1 775.4L557.8 783.8L558.5 773.1L559.2 776.3L559.9 774.4L560.6 771.5L561.3 774.7L562 773.5L562.7 775.3L563.4 775.2L564.1 772.9L564.8 772L565.5 769.8L566.2 768.9L566.9 771.8L567.6 776.1L568.3 771.1L569 771.3L569.7 773.2L570.4 774.8L571.1 777.4L571.8 773.9L572.5 779L573.2 775.4L573.9 774.2L574.6 763.9L575.3 768.2L576 773L576.7 778.1L577.4 783.5L578.1 785.2L578.8 782.4L579.5 783.8L580.2 779.4L580.9 776.8L581.6 777.1L582.3 771.3L583 770.7L583.7 771.7L584.4 772.7L585.1 778L585.8 775.1L586.5 775.1L587.2 772L587.9 767.3L588.6 771.8L589.3 769.5L590 770.5L590.7 772.8L591.4 774.7L592.1 776.4L592.8 773L593.5 774.6L594.2 771.2L594.9 765.5L595.6 762.4L596.3 761.3L597 762.4L597.7 762.5L598.4 761.9L599.1 760.9L599.8 760.1L600.5 757.8L601.2 755.3L601.9 753.5" stroke="#000" stroke-width="7.5"/>
<path d="M618.7 700.3L619.4 702.4L620.1 707.5L620.8 709L621.5 711.3L622.2 710.7L622.9 710.7L623.6 709.1L624.3 707.5L625 708.3L625.7 711.4L626.4 711.3L627.1 715.3L627.8 718.2L628.5 720.3L629.2 721.1L629.9 728.4L630.6 732.5L631.3 736.5L632 739.2L632.7 745.8L633.4 747.5L634.1 748.8L634.8 748.8L635.5 750.8L636.2 748.1L636.9 748.5L637.6 753.6L638.3 752.1L639 749.2L639.7 746.9L640.4 742.6L641.1 736.2L641.8 739.3L642.5 736.7L643.2 733.5L643.9 727.4L644.6 730L645.3 730.4L646 727.2L646.7 727.9L647.4 728.6L648.1 724L648.8 722L649.5 716.9" stroke="#000" stroke-width="7.5"/>
<path d="M890.3 767.7L891 769.4L891.7 773.3L892.4 770.7L893.1 774.9L893.8 781.3L894.5 781.6L895.2 786.4L895.9 782.9L896.6 778.5L897.3 775.7L898 766.6L898.7 761.5L899.4 754.2L900.1 751.4L900.8 752L901.5 749.6L902.2 748.4L902.9 745.2L903.6 740.5L904.3 736.1L905 729.8" stroke="#000" stroke-width="7.5"/>
<path d="M960.3 706.1L961 713.1L961.7 716.6L962.4 723L963.1 727.7L963.8 729.7L964.5 730.7L965.2 732.9L965.9 729.2L966.6 732.2L967.3 736.6L968 741.6L968.7 746.5L969.4 752L970.1 754.4L970.8 760.1L971.5 748.4L972.2 749.7L972.9 752.8L973.6 748.1L974.3 746.9L975 754.3L975.7 753.8L976.4 757.1L977.1 761.2L977.8 767.4L978.5 768.6L979.2 774.5L979.9 780.5L980.6 782.9L981.3 783.5L982 788.5L982.7 792.8L983.4 794.8L984.1 797.3L984.8 798.8L985.5 793.4L986.2 789.8L986.9 784.2L987.6 778.1L988.3 773.1L989 775.6L989.7 776.1L990.4 778.2L991.1 781.3L991.8 784.7L992.5 786.2L993.2 784L993.9 783.7L994.6 779.7L995.3 783.1L996 782.3L996.7 784.2L997.4 779.3L998.1 777.5L998.8 778.2L999.5 776.2L1000.2 779.6L1000.9 774.5L1001.6 771.2L1002.3 770.3L1003 771.8L1003.7 771.7L1004.4 773.7L1005.1 769.2L1005.8 775.6L1006.5 772.5L1007.2 770.2L1007.9 770.3L1008.6 775.9L1009.3 778.9L1010 773.9L1010.7 776.6L1011.4 772L1012.1 771.6L1012.8 771.7L1013.5 767.7L1014.2 759.9L1014.9 764L1015.6 758.9L1016.3 754.4L1017 752.8L1017.7 751.7L1018.4 747.3L1019.1 745.3L1019.8 743.2" stroke="#000" stroke-width="7.5"/>
<path d="M156.7 726.4L157.4 722L158.1 722.6L158.8 721.9L159.5 721.1L160.2 726.6L160.9 729.7L161.6 735.3L162.3 725.8L163 729.6L163.7 727L164.4 726.5L165.1 727.4L165.8 728.3L166.5 725.9L167.2 723.4L167.9 723.5L168.6 722.7L169.3 720L170 727.3L170.7 727.8L171.4 729.3L172.1 731.8L172.8 729.8L173.5 730L174.2 729.2L174.9 732.4L175.6 733.4L176.3 735.4L177 734.3L177.7 733.3L178.4 729.8L179.1 725.2L179.8 726.6L180.5 726.5L181.2 728.5L181.9 732.9L182.6 730.8L183.3 726.5L184 732.1L184.7 732L185.4 735.5L186.1 732.6L186.8 728L187.5 729.3L188.2 720.5L188.9 716.4L189.6 722.2L190.3 717.4L191 713L191.7 711.1L192.4 711.8L193.1 710.1L193.8 719.6L194.5 722.4L195.2 727.8L195.9 729.1L196.6 729.9L197.3 731.6L198 738.7L198.7 731.8L199.4 733.9L200.1 730.1L200.8 728.2L201.5 723.2L202.2 723.3L202.9 725L203.6 722.7L204.3 724.3L205 727.3L205.7 725.2L206.4 725.8L207.1 721.5L207.8 719.5L208.5 723.4L209.2 726.1L209.9 726.5L210.6 733.7L211.3 736L212 740.2L212.7 741.4L213.4 743.7L214.1 743.6L214.8 740.6L215.5 741.5L216.2 739.1L216.9 734.7L217.6 733.2L218.3 731L219 727.1L219.7 720L220.4 722.9L221.1 721.7L221.8 718.4L222.5 720L223.2 726.6L223.9 719.2L224.6 727.9L225.3 717.8L226 714.2L226.7 706.5L227.4 699L228.1 688.1L228.8 674.4L229.5 653.6L230.2 624.1L230.9 582.9L231.6 519.4L232.3 436.9L233 354.4L233.7 321.5L234.4 338.1L235.1 372.8L235.8 411.4L236.5 445.7L237.2 475.4L237.9 497.3L238.6 514.3L239.3 524.8L240 535.5L240.7 542L241.4 549.3L242.1 554.7L242.8 559.3L243.5 562.7L244.2 565.4L244.9 565.5L245.6 568.7L246.3 569.8L247 571.3L247.7 568.3L248.4 566L249.1 560.8L249.8 554.8L250.5 545.9L251.2 534.7L251.9 519.7L252.6 500.3L253.3 475.2L254 448.4L254.7 420L255.4 398.3L256.1 398.3L256.8 414.7L257.5 449.5L258.2 487L258.9 522.2L259.6 550.8L260.3 573.3L261 591.8L261.7 606.1L262.4 619L263.1 627.8L263.8 633.8L264.5 639.8L265.2 642.5L265.9 645.8L266.6 649.9L267.3 655.2L268 659.6L268.7 663L269.4 665.9L270.1 672.9L270.8 676L271.5 677.9L272.2 678.6L272.9 675.1L273.6 676.8L274.3 675.8L275 675.3L275.7 674.3L276.4 672.4L277.1 674.3L277.8 670.4L278.5 673.2L279.2 673.3L279.9 673.6L280.6 678.9L281.3 678.1L282 678.9L282.7 680.7L283.4 677.6L284.1 682.6L284.8 688.7L285.5 694.1L286.2 696.1L286.9 704.3L287.6 705.9L288.3 711.7L289 713.9L289.7 714.5L290.4 717.3L291.1 711.1L291.8 707.5L292.5 703L293.2 698.3L293.9 697.1L294.6 691.9L295.3 694.6L296 697L296.7 700.7L297.4 702L298.1 707.6L298.8 706.4L299.5 710.7L300.2 713.3L300.9 718.6L301.6 722.3L302.3 725.5L303 725.9L303.7 725.2L304.4 726.4L305.1 726.6L305.8 727.1L306.5 728L307.2 731L307.9 734.4L308.6 736.6L309.3 740.8L310 743.1L310.7 742.8L311.4 739.4L312.1 735.4L312.8 732.8L313.5 730.3L314.2 729.5L314.9 729.3L315.6 730.4L316.3 730.1L317 729L317.7 726.7L318.4 724.2L319.1 722.8L319.8 721.4L320.5 718.5L321.2 716.8L321.9 716.7L322.6 714L323.3 711.7L324 711.4L324.7 707.4L325.4 703.6L326.1 697.3L326.8 691.9L327.5 680.3L328.2 669.8L328.9 656.8L329.6 640.7L330.3 618.8L331 592.7L331.7 557.4L332.4 507.1L333.1 443.5L333.8 361.2L334.5 270.6L335.2 200.4L335.9 187.9L336.6 222.4L337.3 244.9L338 254.7L338.7 257L339.4 259L340.1 259.6L340.8 260.8L341.5 257.9L342.2 256.3L342.9 252L343.6 243.8L344.3 230.7L345 209.6L345.7 200.6L346.4 224.5L347.1 278L347.8 341.3L348.5 404.1L349.2 456.4L349.9 497.7L350.6 531.4L351.3 557.4L352 578.5L352.7 596.2L353.4 608.3L354.1 617.9L354.8 627.1L355.5 635.4L356.2 641L356.9 647L357.6 650.6L358.3 654.3L359 656.9L359.7 660.3L360.4 662.5L361.1 666L361.8 667.9L362.5 668L363.2 664.7L363.9 663.8L364.6 660.5L365.3 655.6L366 649.2L366.7 646.1L367.4 641.6L368.1 633.3L368.8 621.1L369.5 604.4L370.2 579.7L370.9 540.7L371.6 494.6L372.3 453.7L373 461.9L373.7 521.7L374.4 587L375.1 635.8L375.8 665.4L376.5 688.1L377.2 699.8L377.9 709.7L378.6 717.3L379.3 721.7L380 724.4L380.7 724L381.4 726.9L382.1 729.6L382.8 731.9L383.5 732.4L384.2 746L384.9 749L385.6 749.9L386.3 746.9L387 745.4L387.7 744.1L388.4 743.4L389.1 746.6L389.8 737.7L390.5 738.9L391.2 733.8L391.9 732.2L392.6 737.9L393.3 734.2L394 736.7L394.7 736.9L395.4 738.3L396.1 730.3L396.8 726.7L397.5 729L398.2 726.7L398.9 728.2L399.6 731.4L400.3 727.3L401 727L401.7 726.3L402.4 730.1L403.1 733.9L403.8 741.9L404.5 748.6L405.2 741.2L405.9 739.9L406.6 726.8L407.3 729.8L408 726.3L408.7 729.2L409.4 731.7L410.1 734.1L410.8 735.3L411.5 739.3L412.2 743.7L412.9 744.3L413.6 740.6L414.3 740.3L415 740.7L415.7 739.5L416.4 745.8L417.1 743.7L417.8 742.1L418.5 740.1L419.2 737.6L419.9 740.4L420.6 736.7L421.3 732.5L422 736.7L422.7 734L423.4 739L424.1 733.3L424.8 729.1L425.5 724.4L426.2 716.3L426.9 712.5L427.6 706.4L428.3 708.3L429 706.7L429.7 703.8L430.4 706.2L431.1 708.8L431.8 716.3L432.5 718.6L433.2 726.4L433.9 730.7L434.6 737.6L435.3 740.6L436 742.7L436.7 741.6L437.4 741.6L438.1 741L438.8 742.9L439.5 737.2L440.2 733.9L440.9 730.5L441.6 728.8L442.3 727.5L443 725.9L443.7 726.2L444.4 724L445.1 723.9L445.8 722.3L446.5 719.4L447.2 718.4L447.9 717.2L448.6 713.6L449.3 711.6L450 708.7L450.7 705.6L451.4 701.6L452.1 697.3L452.8 692.2L453.5 686.9L454.2 680.1L454.9 673L455.6 665.1L456.3 653.6L457 639.2L457.7 623.6L458.4 600.4L459.1 574.5L459.8 538.7L460.5 497.1L461.2 441.6L461.9 378.2L462.6 308.4L463.3 241.3L464 200.2L464.7 196.9L465.4 241.9L466.1 298.4L466.8 340.5L467.5 367.3L468.2 383.9L468.9 397.4L469.6 405.7L470.3 412.3L471 416.7L471.7 418.3L472.4 420.6L473.1 423.5L473.8 424.2L474.5 422.5L475.2 420.9L475.9 418.9L476.6 416.5L477.3 412.4L478 406.2L478.7 402.1L479.4 396.3L480.1 390.5L480.8 382.2L481.5 371.4L482.2 357.9L482.9 337.9L483.6 314.1L484.3 281.2L485 246.3L485.7 214.7L486.4 198.1L487.1 214.2L487.8 265.7L488.5 334.3L489.2 398.3L489.9 451.5L490.6 493.8L491.3 524.5L492 551.5L492.7 571.3L493.4 586.7L494.1 599.9L494.8 610.3L495.5 617L496.2 622.9L496.9 627.5L497.6 631.2L498.3 634.3L499 635.3L499.7 639L500.4 630L501.1 637.2L501.8 640.7L502.5 642.2L503.2 647.5L503.9 645.5L504.6 649.5L505.3 655.2L506 659.8L506.7 655.4L507.4 661.6L508.1 662.6L508.8 670L509.5 675.6L510.2 674.4L510.9 674.6L511.6 676.2L512.3 671.3L513 685.2L513.7 690.5L514.4 697L515.1 701.8L515.8 709.5L516.5 718.3L517.2 728L517.9 731.2L518.6 737.7L519.3 728.5L520 732.6L520.7 732.6L521.4 730.5L522.1 730.8L522.8 740.4L523.5 753L524.2 754.6L524.9 758.2L525.6 759.8L526.3 760.8L527 763.1L527.7 761.6L528.4 753.7L529.1 762.2L529.8 756.3L530.5 760.3L531.2 768.2L531.9 767.3L532.6 768.9L533.3 770.3L534 770.6L534.7 769.5L535.4 769.5L536.1 773.3L536.8 773.1L537.5 770.9L538.2 785.4L538.9 778L539.6 784.2L540.3 784L541 784.7L541.7 780.6L542.4 780.7L543.1 784.9L543.8 777.8L544.5 774.8L545.2 778.6L545.9 776.3L546.6 779.8L547.3 782.6L548 782.4L548.7 780.1L549.4 784.3L550.1 783L550.8 782.4L551.5 791.7L552.2 788.9L552.9 792.7L553.6 788L554.3 787.4L555 782.8L555.7 772.2L556.4 774.4L557.1 775.4L557.8 783.8L558.5 773.1L559.2 776.3L559.9 774.4L560.6 771.5L561.3 774.7L562 773.5L562.7 775.3L563.4 775.2L564.1 772.9L564.8 772L565.5 769.8L566.2 768.9L566.9 771.8L567.6 776.1L568.3 771.1L569 771.3L569.7 773.2L570.4 774.8L571.1 777.4L571.8 773.9L572.5 779L573.2 775.4L573.9 774.2L574.6 763.9L575.3 768.2L576 773L576.7 778.1L577.4 783.5L578.1 785.2L578.8 782.4L579.5 783.8L580.2 779.4L580.9 776.8L581.6 777.1L582.3 771.3L583 770.7L583.7 771.7L584.4 772.7L585.1 778L585.8 775.1L586.5 775.1L587.2 772L587.9 767.3L588.6 771.8L589.3 769.5L590 770.5L590.7 772.8L591.4 774.7L592.1 776.4L592.8 773L593.5 774.6L594.2 771.2L594.9 765.5L595.6 762.4L596.3 761.3L597 762.4L597.7 762.5L598.4 761.9L599.1 760.9L599.8 760.1L600.5 757.8L601.2 755.3L601.9 753.5L602.6 751.5L603.3 747.8L604 744.1L604.7 737.8L605.4 728.4L606.1 714.1L606.8 690.6L607.5 660L608.2 628.3L608.9 621L609.6 631.5L610.3 648.3L611 660.3L611.7 673.3L612.4 681.2L613.1 684.7L613.8 690.2L614.5 692.8L615.2 695.1L615.9 695.4L616.6 696.8L617.3 697.1L618 697.1L618.7 700.3L619.4 702.4L620.1 707.5L620.8 709L621.5 711.3L622.2 710.7L622.9 710.7L623.6 709.1L624.3 707.5L625 708.3L625.7 711.4L626.4 711.3L627.1 715.3L627.8 718.2L628.5 720.3L629.2 721.1L629.9 728.4L630.6 732.5L631.3 736.5L632 739.2L632.7 745.8L633.4 747.5L634.1 748.8L634.8 748.8L635.5 750.8L636.2 748.1L636.9 748.5L637.6 753.6L638.3 752.1L639 749.2L639.7 746.9L640.4 742.6L641.1 736.2L641.8 739.3L642.5 736.7L643.2 733.5L643.9 727.4L644.6 730L645.3 730.4L646 727.2L646.7 727.9L647.4 728.6L648.1 724L648.8 722L649.5 716.9L650.2 714.9L650.9 710.5L651.6 704.9L652.3 699.4L653 695.1L653.7 685.1L654.4 677.1L655.1 670.4L655.8 667L656.5 665.6L657.2 667.4L657.9 671.5L658.6 674.8L659.3 680.7L660 685.6L660.7 687.3L661.4 692.6L662.1 697.8L662.8 702.1L663.5 704L664.2 706.9L664.9 706.8L665.6 708.4L666.3 710L667 711.1L667.7 708.5L668.4 709.2L669.1 707.8L669.8 707.1L670.5 711.4L671.2 710.8L671.9 716.4L672.6 721.2L673.3 726L674 729.9L674.7 734.6L675.4 737.8L676.1 743.4L676.8 747.9L677.5 750L678.2 750.9L678.9 750.3L679.6 749.6L680.3 747.7L681 747.7L681.7 743.9L682.4 740.1L683.1 738.9L683.8 736.6L684.5 734L685.2 731.5L685.9 726.6L686.6 721.3L687.3 714.9L688 708.7L688.7 698.5L689.4 685.9L690.1 670.8L690.8 646.3L691.5 617.3L692.2 586L692.9 549.1L693.6 519.3L694.3 507.4L695 511L695.7 520L696.4 531.2L697.1 541.1L697.8 550.1L698.5 556.6L699.2 563.5L699.9 568.1L700.6 572.8L701.3 575.4L702 577L702.7 579.3L703.4 582.7L704.1 582.9L704.8 581L705.5 579.3L706.2 576.1L706.9 571.9L707.6 568.3L708.3 563.1L709 554.8L709.7 542.6L710.4 528.1L711.1 509.8L711.8 494.5L712.5 487.2L713.2 491.4L713.9 503.1L714.6 520.2L715.3 538.7L716 556.3L716.7 577.4L717.4 592L718.1 607.4L718.8 621.7L719.5 631.1L720.2 644L720.9 651L721.6 659.1L722.3 664.6L723 670.5L723.7 674.7L724.4 678L725.1 679.9L725.8 683.1L726.5 686.4L727.2 691.4L727.9 696.5L728.6 703.4L729.3 710.5L730 717.7L730.7 725.1L731.4 730.2L732.1 737.4L732.8 742.4L733.5 747.4L734.2 751.5L734.9 754.4L735.6 756.6L736.3 758L737 760.9L737.7 760.9L738.4 759.5L739.1 759.3L739.8 756.9L740.5 753.7L741.2 752.6L741.9 752.1L742.6 751.3L743.3 748.8L744 746.1L744.7 743.8L745.4 739.1L746.1 733.9L746.8 729.8L747.5 725L748.2 721.5L748.9 717.3L749.6 715.1L750.3 713.6L751 710.2L751.7 705.5L752.4 702.6L753.1 693.7L753.8 688.5L754.5 678.6L755.2 667.6L755.9 653.6L756.6 635.1L757.3 612.1L758 583.9L758.7 555.2L759.4 534.3L760.1 527.6L760.8 530.3L761.5 540.5L762.2 552.4L762.9 561.7L763.6 573.3L764.3 581.2L765 585.1L765.7 591.4L766.4 595.3L767.1 598.8L767.8 604.4L768.5 606.7L769.2 608.2L769.9 610L770.6 611.3L771.3 612L772 612.5L772.7 611.5L773.4 607.7L774.1 605.5L774.8 602.8L775.5 596.9L776.2 596.3L776.9 589.3L777.6 582L778.3 574L779 566.2L779.7 555.3L780.4 543.5L781.1 531.3L781.8 519.3L782.5 510.7L783.2 506.3L783.9 506.2L784.6 509.7L785.3 513.6L786 520.1L786.7 526.8L787.4 535L788.1 540.9L788.8 546.9L789.5 552.6L790.2 556.5L790.9 561.9L791.6 567.7L792.3 572L793 575.8L793.7 579L794.4 580.7L795.1 583.9L795.8 586.7L796.5 587.7L797.2 589.4L797.9 592.3L798.6 594.2L799.3 594.6L800 595.7L800.7 595.6L801.4 593.1L802.1 591.4L802.8 590.9L803.5 587.8L804.2 583L804.9 577.1L805.6 571.7L806.3 563.3L807 553.6L807.7 543.5L808.4 528.2L809.1 512L809.8 497.9L810.5 485.8L811.2 482.2L811.9 486.5L812.6 496.8L813.3 512.4L814 532L814.7 552.5L815.4 569.5L816.1 588L816.8 601.5L817.5 613.1L818.2 624.5L818.9 633.9L819.6 640.9L820.3 646.9L821 655.5L821.7 660L822.4 665.5L823.1 667.9L823.8 672.2L824.5 674.4L825.2 676.7L825.9 679.5L826.6 678.3L827.3 675.5L828 672.5L828.7 671.4L829.4 667.1L830.1 665.2L830.8 660.7L831.5 656L832.2 649.2L832.9 642.1L833.6 635.1L834.3 628.3L835 621.2L835.7 618.3L836.4 614.8L837.1 613.4L837.8 614.9L838.5 620L839.2 623.9L839.9 628.2L840.6 634.4L841.3 639.9L842 643L842.7 647.4L843.4 650.7L844.1 654.8L844.8 660.1L845.5 665.4L846.2 667.2L846.9 670.4L847.6 673.4L848.3 674.5L849 676.3L849.7 676.9L850.4 674L851.1 671.4L851.8 669.7L852.5 667.8L853.2 664.4L853.9 662.4L854.6 657.6L855.3 655.4L856 651.6L856.7 647.4L857.4 642.2L858.1 635.5L858.8 629.4L859.5 624.9L860.2 623L860.9 622.1L861.6 625.1L862.3 629.2L863 634.7L863.7 641.1L864.4 644.4L865.1 650L865.8 652.6L866.5 654.8L867.2 657.9L867.9 659.1L868.6 659.2L869.3 658.1L870 657.6L870.7 654.2L871.4 653.3L872.1 650.4L872.8 648L873.5 646.3L874.2 648.3L874.9 647.6L875.6 654L876.3 661.8L877 670.3L877.7 679.2L878.4 687.9L879.1 696L879.8 703.4L880.5 712.1L881.2 719.8L881.9 727.7L882.6 729.7L883.3 732.8L884 732.1L884.7 735.2L885.4 737.6L886.1 744.4L886.8 751.7L887.5 757.6L888.2 761L888.9 764.3L889.6 765L890.3 767.7L891 769.4L891.7 773.3L892.4 770.7L893.1 774.9L893.8 781.3L894.5 781.6L895.2 786.4L895.9 782.9L896.6 778.5L897.3 775.7L898 766.6L898.7 761.5L899.4 754.2L900.1 751.4" stroke="#000" stroke-width="4.8"/>
<path d="M900.1 751.4L900.8 752L901.5 749.6L902.2 748.4L902.9 745.2L903.6 740.5L904.3 736.1L905 729.8L905.7 729.2L906.4 728.5L907.1 730.6L907.8 725.5L908.5 727.4L909.2 725.5L909.9 721.5L910.6 720.7L911.3 716.3L912 712.6L912.7 705.3L913.4 696.6L914.1 684.4L914.8 671.7L915.5 660.7L916.2 647L916.9 634.2L917.6 617.4L918.3 605.5L919 586.3L919.7 581.5L920.4 578L921.1 582.1L921.8 589.5L922.5 596L923.2 601.9L923.9 610.1L924.6 613.1L925.3 612.4L926 617.4L926.7 617.6L927.4 620.5L928.1 626L928.8 628.3L929.5 630.4L930.2 635.7L930.9 633.2L931.6 635.1L932.3 640.3L933 645.5L933.7 649.4L934.4 656.4L935.1 662.4L935.8 671.3L936.5 673.2L937.2 677.1L937.9 680.5L938.6 686L939.3 685.9L940 689.6L940.7 689L941.4 689.3L942.1 687.4L942.8 687.8L943.5 684.8L944.2 682L944.9 675.4L945.6 671.4L946.3 665.8L947 659.4L947.7 653.8L948.4 643.6L949.1 635.3L949.8 625.4L950.5 616.7L951.2 608.2L951.9 599L952.6 596.7L953.3 593.9L954 598.8L954.7 609.7L955.4 622.9L956.1 633.3L956.8 650.9L957.5 663.4L958.2 673.9L958.9 686.6L959.6 696.4L960.3 706.1L961 713.1L961.7 716.6L962.4 723L963.1 727.7L963.8 729.7L964.5 730.7L965.2 732.9L965.9 729.2L966.6 732.2L967.3 736.6L968 741.6L968.7 746.5L969.4 752L970.1 754.4L970.8 760.1L971.5 748.4L972.2 749.7L972.9 752.8L973.6 748.1L974.3 746.9L975 754.3L975.7 753.8L976.4 757.1L977.1 761.2L977.8 767.4L978.5 768.6L979.2 774.5L979.9 780.5L980.6 782.9L981.3 783.5L982 788.5L982.7 792.8L983.4 794.8L984.1 797.3L984.8 798.8L985.5 793.4L986.2 789.8L986.9 784.2L987.6 778.1L988.3 773.1L989 775.6L989.7 776.1L990.4 778.2L991.1 781.3L991.8 784.7L992.5 786.2L993.2 784L993.9 783.7L994.6 779.7L995.3 783.1L996 782.3L996.7 784.2L997.4 779.3L998.1 777.5L998.8 778.2L999.5 776.2L1000.2 779.6L1000.9 774.5L1001.6 771.2L1002.3 770.3L1003 771.8L1003.7 771.7L1004.4 773.7L1005.1 769.2L1005.8 775.6L1006.5 772.5L1007.2 770.2L1007.9 770.3L1008.6 775.9L1009.3 778.9L1010 773.9L1010.7 776.6L1011.4 772L1012.1 771.6L1012.8 771.7L1013.5 767.7L1014.2 759.9L1014.9 764L1015.6 758.9L1016.3 754.4L1017 752.8L1017.7 751.7L1018.4 747.3L1019.1 745.3L1019.8 743.2L1020.5 742.7L1021.2 733.7L1021.9 734.4L1022.6 724.6L1023.3 720.9L1024 708.1L1024.7 697.1L1025.4 683.2L1026.1 668.5L1026.8 646L1027.5 634.8L1028.2 623.4L1028.9 625.8L1029.6 629.9L1030.3 638.8L1031 645.3L1031.7 654.6L1032.4 656.5L1033.1 660L1033.8 665.6L1034.5 662.2L1035.2 662.5L1035.9 660L1036.6 663.6L1037.3 665L1038 672.2L1038.7 673L1039.4 671.6L1040.1 669.6L1040.8 672.2L1041.5 672.1L1042.2 671.9L1042.9 680.6L1043.6 681.1L1044.3 684.3L1045 687.6L1045.7 688.2L1046.4 690.1L1047.1 694.2L1047.8 699.1L1048.5 700.6L1049.2 697.8L1049.9 704.3L1050.6 705.6L1051.3 708.2L1052 709.7L1052.7 710.2L1053.4 708.6L1054.1 710.7L1054.8 713.5L1055.5 719.2L1056.2 725.2L1056.9 725.1L1057.6 731.2L1058.3 727.6L1059 728L1059.7 731.4L1060.4 732.6L1061.1 733.3L1061.8 733.4L1062.5 735L1063.2 735L1063.9 739.9L1064.6 739.7L1065.3 739.3L1066 735.7L1066.7 733.5L1067.4 732.9L1068.1 733.7L1068.8 731.7L1069.5 732.1L1070.2 733.8L1070.9 725.1L1071.6 724.1L1072.3 723.5L1073 726.1L1073.7 727.3L1074.4 724L1075.1 725L1075.8 722L1076.5 718.8L1077.2 713.3L1077.9 708L1078.6 700.7L1079.3 696L1080 691.1L1080.7 679.1L1081.4 676.4L1082.1 667.5L1082.8 659.7L1083.5 651.6L1084.2 645.5L1084.9 643.3L1085.6 642.2L1086.3 643.2L1087 652.9L1087.7 659.6L1088.4 663.8L1089.1 676.8L1089.8 684.8L1090.5 686.7L1091.2 698.3L1091.9 699.6L1092.6 705.8L1093.3 706.7L1094 710.4L1094.7 712.8L1095.4 719.2L1096.1 723.6L1096.8 723.4L1097.5 724.6L1098.2 732.6L1098.9 735.1L1099.6 735L1100.3 734.5L1101 737.7L1101.7 742L1102.4 752.9L1103.1 757.3L1103.8 753.8L1104.5 755.1L1105.2 752.3L1105.9 753.2L1106.6 756.2L1107.3 761.4L1108 758.9L1108.7 761.4L1109.4 762.4L1110.1 761.5L1110.8 764.2L1111.5 766.6L1112.2 772.7L1112.9 768.7L1113.6 767.2L1114.3 767.3L1115 768.5L1115.7 772.5L1116.4 777.4L1117.1 782.9L1117.8 779L1118.5 778.5L1119.2 770.8L1119.9 766.5L1120.6 768.7L1121.3 759.1L1122 754.8L1122.7 755L1123.4 755.1L1124.1 750.9L1124.8 751.4L1125.5 754.8L1126.2 754.6L1126.9 759.2L1127.6 762.1L1128.3 762.5L1129 762.4L1129.7 764.4L1130.4 762L1131.1 760.7L1131.8 759.4L1132.5 756.5L1133.2 757.9L1133.9 760.4L1134.6 751.8L1135.3 751.5L1136 752.3L1136.7 752.4L1137.4 753.2L1138.1 754.1L1138.8 757.2L1139.5 756L1140.2 752.8L1140.9 748.2L1141.6 749.3L1142.3 747.1L1143 744.2L1143.7 742.9L1144.4 740.4L1145.1 726.5L1145.8 724.4L1146.5 717.4L1147.2 715.2L1147.9 716.7L1148.6 717.7L1149.3 710.6L1150 701.7L1150.7 691.5L1151.4 680.4L1152.1 671.7L1152.8 662.4L1153.5 656.5L1154.2 662.7L1154.9 657.5L1155.6 656.5L1156.3 654.7L1157 652.2L1157.7 651.5L1158.4 650.7L1159.1 650.8L1159.8 646.8L1160.5 645.2L1161.2 647.8L1161.9 642.2L1162.6 641.3L1163.3 640.1L1164 639.1L1164.7 637.2L1165.4 636.6L1166.1 638.4L1166.8 646.6L1167.5 652.2L1168.2 656.4L1168.9 657.8L1169.6 660.7L1170.3 665.8L1171 668L1171.7 673.3L1172.4 675L1173.1 682L1173.8 681.2L1174.5 683.3L1175.2 685.7L1175.9 685.4L1176.6 684.2L1177.3 689.8L1178 694.8L1178.7 692.2L1179.4 697.2L1180.1 695.8L1180.8 695.8L1181.5 703L1182.2 703.4L1182.9 705.8L1183.6 704.8L1184.3 697.5L1185 700.7L1185.7 698.9L1186.4 699.5L1187.1 705.2L1187.8 711.7L1188.5 714.5L1189.2 720.6L1189.9 717.8L1190.6 715.2L1191.3 720.6L1192 724.3L1192.7 725.4L1193.4 726.1L1194.1 734.2L1194.8 730L1195.5 733.2L1196.2 730.1L1196.9 731.1L1197.6 729.6L1198.3 733.5L1199 734.8L1199.7 732.9L1200.4 733.2L1201.1 737.7L1201.8 736.5L1202.5 729.7L1203.2 726.3L1203.9 723.5L1204.6 722.4L1205.3 720.4L1206 719.6L1206.7 713.5L1207.4 708L1208.1 708.7L1208.8 702.6L1209.5 700.5L1210.2 694.5L1210.9 691.2L1211.6 683.6L1212.3 683.3L1213 678.8L1213.7 674.3L1214.4 669.6L1215.1 663.7L1215.8 655.1L1216.5 647.7L1217.2 647L1217.9 652.7L1218.6 652.8L1219.3 653.8L1220 655.7L1220.7 654.6L1221.4 656L1222.1 658.9L1222.8 664.3L1223.5 662.2L1224.2 663.7L1224.9 658.8L1225.6 657.7L1226.3 653L1227 645.2L1227.7 647.2L1228.4 642.9L1229.1 642.2L1229.8 642.2L1230.5 643.6L1231.2 647.9L1231.9 652.1L1232.6 656.9L1233.3 661.1L1234 666.2L1234.7 667.3L1235.4 673.7L1236.1 680.1L1236.8 687.1L1237.5 691L1238.2 690.3L1238.9 694.7L1239.6 696L1240.3 699.7L1241 700.6L1241.7 699.8L1242.4 698.5L1243.1 692.2L1243.8 693L1244.5 690.1L1245.2 686.2L1245.9 684.7L1246.6 683.9L1247.3 679.2L1248 679.5L1248.7 678.4L1249.4 678.7L1250.1 672.4L1250.8 673L1251.5 673.6L1252.2 674.8L1252.9 671.1L1253.6 669.8L1254.3 662.4L1255 660.8L1255.7 663.1L1256.4 658.5L1257.1 662.7L1257.8 656.9L1258.5 658.3L1259.2 657.1L1259.9 662.9L1260.6 664.3L1261.3 666.5L1262 663.3L1262.7 661.7L1263.4 660.7L1264.1 667L1264.8 671.3L1265.5 672.7L1266.2 674.5L1266.9 673.2L1267.6 671.5L1268.3 674L1269 671.9L1269.7 667.8L1270.4 671.6L1271.1 666.7L1271.8 664.3L1272.5 668.3L1273.2 668.6L1273.9 670.3L1274.6 670.9L1275.3 661.8L1276 669.3L1276.7 672.7L1277.4 671.3L1278.1 674.3L1278.8 682.4L1279.5 687.5L1280.2 691L1280.9 690.3L1281.6 692.5L1282.3 693.4L1283 695.3L1283.7 699.4L1284.4 699.8L1285.1 703.9L1285.8 706.2L1286.5 717.6L1287.2 718.5L1287.9 720.2L1288.6 720L1289.3 725.5L1290 723L1290.7 729.4L1291.4 732.3L1292.1 732.9L1292.8 737L1293.5 735.5L1294.2 736.8L1294.9 735L1295.6 725.8L1296.3 722.7L1297 715.2L1297.7 710L1298.4 699.4L1299.1 694.9L1299.8 687L1300.5 673.6L1301.2 660.9L1301.9 646.1L1302.6 633.6L1303.3 621.2L1304 615L1304.7 613L1305.4 613.8L1306.1 622.7L1306.8 627.8L1307.5 631.7L1308.2 635.4L1308.9 635L1309.6 642.3L1310.3 644.8L1311 649.4L1311.7 654.3L1312.4 657.2L1313.1 659.4L1313.8 661L1314.5 661.6L1315.2 663.3L1315.9 660.6L1316.6 659.5L1317.3 663.9L1318 669.8L1318.7 668.8L1319.4 666.2L1320.1 668.9L1320.8 667.6L1321.5 664.1L1322.2 666.6L1322.9 667.8L1323.6 674.3L1324.3 668.8L1325 671.5L1325.7 673.8L1326.4 671.4L1327.1 676.4L1327.8 678.5L1328.5 682L1329.2 684.6L1329.9 689.9L1330.6 688.4L1331.3 692.8L1332 692.5L1332.7 692.2L1333.4 695.8L1334.1 692L1334.8 695.2L1335.5 695.4L1336.2 691.4L1336.9 693.7L1337.6 691.3L1338.3 693.2L1339 695.4L1339.7 695.6L1340.4 696.6L1341.1 701.2L1341.8 697.4L1342.5 696.2L1343.2 692.7L1343.9 685.5L1344.6 682.5L1345.3 682.1L1346 681.8L1346.7 681.9L1347.4 675.3L1348.1 678.3L1348.8 670.9L1349.5 664.6L1350.2 660.3L1350.9 651.9L1351.6 647.8L1352.3 638.5L1353 635.1L1353.7 635.3L1354.4 632.3L1355.1 629.3L1355.8 630.4L1356.5 631.4L1357.2 632.9L1357.9 634.2L1358.6 634.5L1359.3 637.2L1360 635.9L1360.7 641.4L1361.4 648.8L1362.1 654.7L1362.8 661.4L1363.5 669.5L1364.2 676.8L1364.9 684.8L1365.6 686.4L1366.3 689L1367 692.7L1367.7 694.6L1368.4 697.4L1369.1 708.4L1369.8 714.8L1370.5 720.8L1371.2 724.7L1371.9 723.9L1372.6 721.9L1373.3 718.2L1374 721.9L1374.7 728.3L1375.4 732.2L1376.1 736.5L1376.8 737.1L1377.5 737.3L1378.2 736.3L1378.9 739.5L1379.6 745.1L1380.3 746.3L1381 753L1381.7 748.1L1382.4 744.5L1383.1 745.7L1383.8 743L1384.5 752.4L1385.2 751.5L1385.9 757.2L1386.6 759.9L1387.3 762.7L1388 764.1L1388.7 769.5L1389.4 777.5L1390.1 776L1390.8 775.9L1391.5 762.6L1392.2 764.6L1392.9 765.1L1393.6 771.3L1394.3 774.5L1395 784L1395.7 790.1L1396.4 790.4L1397.1 793.7L1397.8 791.8L1398.5 794.6L1399.2 790.4L1399.9 793.4L1400.6 780L1401.3 782.8L1402 777.6L1402.7 775.1L1403.4 774.2L1404.1 771.7L1404.8 771.1L1405.5 776.7L1406.2 771.1L1406.9 771.9L1407.6 773.9L1408.3 769.3L1409 763.4L1409.7 769.5L1410.4 769.1L1411.1 777.6L1411.8 777.9L1412.5 774.1L1413.2 776.9L1413.9 770.1L1414.6 773L1415.3 771.4L1416 768.5L1416.7 763.3L1417.4 764.4L1418.1 759.1L1418.8 762.2L1419.5 761.4L1420.2 767.6L1420.9 760.2L1421.6 753.9L1422.3 754L1423 747.9L1423.7 743.7L1424.4 747.1L1425.1 741.7L1425.8 735.9L1426.5 728.1L1427.2 717.4L1427.9 721.7L1428.6 722.6L1429.3 719.9L1430 719.1L1430.7 724.3L1431.4 723L1432.1 728.9L1432.8 734L1433.5 739L1434.2 739.8L1434.9 745.2L1435.6 750.4L1436.3 754.2L1437 753L1437.7 750.5L1438.4 751.5L1439.1 751.3L1439.8 751.5L1440.5 755.5L1441.2 759.8L1441.9 762.9L1442.6 769.1L1443.3 771.5L1444 773.7L1444.7 772.9L1445.4 766.8L1446.1 763L1446.8 755.7L1447.5 754.9L1448.2 759.3L1448.9 758.3L1449.6 762.3L1450.3 762.9L1451 770.7L1451.7 769.8L1452.4 767.5L1453.1 768.9L1453.8 764.9L1454.5 764.9L1455.2 760.8L1455.9 760.7L1456.6 759.6L1457.3 761.4L1458 759.8L1458.7 763.9L1459.4 758.7L1460.1 761L1460.8 760.7L1461.5 764.7L1462.2 764.2L1462.9 766.5L1463.6 765.3L1464.3 763.4L1465 761.5L1465.7 763.1L1466.4 763.5L1467.1 766.6L1467.8 767.7L1468.5 767.7L1469.2 763.3L1469.9 760L1470.6 757.3L1471.3 759L1472 759.3L1472.7 762.1L1473.4 758.5L1474.1 760.5L1474.8 760.4L1475.5 754.9L1476.2 759.7L1476.9 760.9L1477.6 761.8L1478.3 757.7L1479 759.5L1479.7 756L1480.4 756.9L1481.1 756.2L1481.8 758.4L1482.5 752.8L1483.2 753L1483.9 750.4L1484.6 748.8L1485.3 749.9L1486 749.6L1486.7 746.2L1487.4 747.4L1488.1 743.9L1488.8 741.8L1489.5 740.2L1490.2 737L1490.9 732.2L1491.6 728.7L1492.3 730.5L1493 728.1L1493.7 725L1494.4 726.7L1495.1 722.4L1495.8 725.1L1496.5 723.6L1497.2 719.4L1497.9 717.6L1498.6 722.6L1499.3 725.9L1500 734.5L1500.7 736.2L1501.4 735.8L1502.1 733.1L1502.8 733.4L1503.5 732.1L1504.2 730L1504.9 734.4L1505.6 736.7L1506.3 739.1L1507 737.5L1507.7 746.6L1508.4 741.1L1509.1 747.3L1509.8 747L1510.5 748.3L1511.2 743.3L1511.9 742.9L1512.6 742.3L1513.3 741.9L1514 738L1514.7 738.2L1515.4 737.4L1516.1 738L1516.8 735.5L1517.5 738.1L1518.2 735.8L1518.9 734.5L1519.6 735.7L1520.3 734.7L1521 737.6L1521.7 733.8L1522.4 734.2L1523.1 733L1523.8 727.5L1524.5 725.1L1525.2 724.6L1525.9 723.3L1526.6 722.3L1527.3 723.5L1528 716.3L1528.7 711L1529.4 703.2L1530.1 703.6L1530.8 703.1L1531.5 695L1532.2 692.4L1532.9 693L1533.6 692.1L1534.3 689.9L1535 681.5L1535.7 681.5L1536.4 675.5L1537.1 673.5L1537.8 671.4L1538.5 669.3L1539.2 668.3L1539.9 666.8L1540.6 664.9L1541.3 667.8L1542 669.5L1542.7 667.8L1543.4 666.3L1544.1 663.2L1544.8 661.9L1545.5 649.4L1546.2 648.3L1546.9 646L1547.6 649.2L1548.3 652L1549 648.5L1549.7 648.2L1550.4 650L1551.1 641.3L1551.8 642.4L1552.5 631.8L1553.2 633.2L1553.9 626.9L1554.6 622.1L1555.3 621.3L1556 617.6L1556.7 619.2L1557.4 615L1558.1 613.7L1558.8 616.8L1559.5 609.8L1560.2 614.4L1560.9 612.6L1561.6 620.2L1562.3 622.7L1563 623.4L1563.7 627.2L1564.4 629.4L1565.1 630.5L1565.8 629.8L1566.5 629.8L1567.2 631.8L1567.9 625.3L1568.6 624.2L1569.3 625.1L1570 625.1L1570.7 627.1L1571.4 627.8L1572.1 626.3L1572.8 627.6L1573.5 625.6L1574.2 630.7L1574.9 633.4L1575.6 635.1L1576.3 636.9L1577 636.7L1577.7 631.2L1578.4 629.1L1579.1 626.8L1579.8 635L1580.5 633.7L1581.2 635L1581.9 639.5L1582.6 637.1L1583.3 639.2L1584 637.7L1584.7 647.4L1585.4 647.6L1586.1 649.6L1586.8 652.6L1587.5 652.8L1588.2 657.5L1588.9 661.4L1589.6 655.7L1590.3 654.2L1591 655.9L1591.7 658.5L1592.4 656.5L1593.1 663.4L1593.8 669.3L1594.5 674.9L1595.2 677.5L1595.9 674.3L1596.6 672.8L1597.3 677.8L1598 670.5L1598.7 677.5L1599.4 676.2L1600.1 680.9L1600.8 682.9L1601.5 681.9L1602.2 685L1602.9 687.6L1603.6 685.3L1604.3 687.6L1605 688.6L1605.7 680.8L1606.4 683.7L1607.1 684.7L1607.8 682.9L1608.5 680.4L1609.2 680L1609.9 681L1610.6 679.9L1611.3 686.6L1612 685.6L1612.7 686L1613.4 685.9L1614.1 690.5L1614.8 692.1L1615.5 697.4L1616.2 691.7L1616.9 690.8L1617.6 690.3L1618.3 688.2L1619 689.2L1619.7 686.2L1620.4 695.9L1621.1 695.6L1621.8 691.6L1622.5 693.6L1623.2 693.3L1623.9 694.8L1624.6 696.1L1625.3 701.4L1626 701.8L1626.7 702.4L1627.4 706L1628.1 705.4L1628.8 704.4L1629.5 700.7L1630.2 701.1L1630.9 703.1L1631.6 704.2L1632.3 708.7L1633 707.7L1633.7 706.5L1634.4 709.6L1635.1 702.3L1635.8 702L1636.5 698.6L1637.2 696.6L1637.9 694.6L1638.6 689.4L1639.3 685L1640 690.8L1640.7 684.6L1641.4 680L1642.1 679L1642.8 676.3L1643.5 673.9L1644.2 664.3L1644.9 665.6L1645.6 659.5L1646.3 648.1L1647 646.4L1647.7 642.4L1648.4 636.9L1649.1 640.9L1649.8 630.7L1650.5 631.3L1651.2 630.5L1651.9 630.8L1652.6 628.4L1653.3 625.7L1654 622.5L1654.7 626.3L1655.4 625.3L1656.1 626.4L1656.8 629.9L1657.5 628.9L1658.2 630.4L1658.9 635.2L1659.6 642.6L1660.3 644.1L1661 647.4L1661.7 653.2L1662.4 654.4L1663.1 654.2L1663.8 657.4L1664.5 661.4L1665.2 669.8L1665.9 670L1666.6 673.2L1667.3 669L1668 672.2L1668.7 673.5L1669.4 673.8L1670.1 675.7L1670.8 675.8L1671.5 676.8L1672.2 679.9L1672.9 685.2L1673.6 692.9L1674.3 689.9L1675 690.6L1675.7 692.4L1676.4 693.5L1677.1 696.8L1677.8 694.1L1678.5 698.4L1679.2 701.3L1679.9 701.3L1680.6 700.4L1681.3 702.9L1682 703.8L1682.7 709L1683.4 707.1L1684.1 713.8L1684.8 711.1" stroke="#000" stroke-width="6.4"/>
<path d="M156.7 727L195.2 731.4L231.9 735.2L356.4 745.9L411.4 751.1L436.4 753.9L493.7 761.6L509.2 763.2L523.7 764.3L555 766.2L594 767.9L637.7 769.7L714 772.1L748.7 773.6L788.2 776.3L918.2 786.2L1004.7 791.1L1083.2 794.4L1222.2 798.8L1266.2 799.7L1305.7 800L1402 800L1423 799.1L1446.2 796.8L1491.2 791L1546.5 784.8L1587.5 779.7L1634 773.1L1685 764.8" stroke="#00e000" stroke-width="5.4" transform="translate(0,1.2)"/>
<path d="M434.9 752.9L445.9 753.7L452.4 753.3L457.4 751.7L461.4 748.6L465.2 743.5L468.7 736.7L480.7 705.4L483.4 701.1L484.7 700.2L485.9 700L488.4 701.7L491.2 706.5L503.4 741.3L506.9 749L510.7 754.8L515 758.9L520 761.5L526.5 763L537.2 764.3M940 786.7L956.2 786.4L969 784.5L980.5 781L1003.2 771.7L1009.2 770.3L1015 769.9L1020.7 770.8L1026.7 772.8L1049.7 784.4L1061.5 789L1074.7 792L1091.7 793.9M1201 797.4L1218 796.4L1224.5 795.3L1230.2 793.5L1235.5 791.2L1240.7 788.2L1260.2 774.8L1265.2 772.6L1270 771.9L1274.7 772.7L1279.7 775L1299.2 789L1309.5 794.4L1315 796.3L1321.2 797.7L1337.2 799.1M1574 780.5L1590.2 777.6L1604.5 774.4L1617.7 770.6L1630.2 766.4L1642.2 761.4L1654.5 755.6L1685 738.7" stroke="#888" stroke-width="3"/>
<path d="M183.2 729.2L214.4 731.3L223.9 731L230.7 729.8L235.7 727.7L239.7 724.2L242.7 719.2L244.9 712.2L246.4 703.5L247.7 691.2L249.7 653.5L251.4 593.1L254.4 448.2L255.7 419.4L256.2 422L256.9 440.9L260.2 595.8L261.9 655.7L263.9 693L265.2 705.2L266.9 715L268.7 720.6L270.7 724.7L273.2 728.1L276.2 730.7L279.9 732.9L284.7 734.6L297.4 736.8L304.7 737.1L311.2 736.8L316.4 735.9L320.7 734.4L324.2 732.3L327.2 729.3L329.7 725.4L331.7 720.6L334.2 710.5L336.2 694.5L337.7 671.1L338.9 637.7L340.9 544L344.4 292.1L345.2 263.4L345.7 259.5L346.9 303.8L349.9 525.8L351.9 628.3L354.4 689.1L356.2 707.4L358.4 719.5L360.2 725.1L362.4 730.1L364.9 734L368.2 737.3L371.9 739.9L376.7 742.2L389.7 745.6L403.4 747.7L420.4 749.5L436.7 750.6L447.7 750.5L454.7 749.6L460.2 747.6L464.4 744.6L467.9 740.2L470.2 735.8L471.9 730.8L474.7 717.1L476.7 696.7L478.4 662L480.7 576.1L484.9 288.8L485.7 253.4L486.4 239.5L487.2 250.4L487.9 283.5L492.4 585.2L493.9 646.4L495.7 689.5L497.9 717.4L499.4 727.4L501.4 735.9L503.9 742.7L506.9 748L510.4 752.1L515 755.5L522.5 758.9L532.7 761.4L547 763.4L566.2 765L594.5 766.4L617.2 766.6L630 765.7L634.5 764.8L638 763.5L641 761.5L643.2 758.7L645 754.9L646.7 749L649.7 732L654.2 695.3L655.2 690L656.2 688.1L657.2 690L658.2 695.2L662.2 728.1L664.5 742.8L666.5 751.5L669 757.8L671 760.4L673.7 762.3L677.2 763.4L681.2 763.7L685.5 763.2L689.2 762L692.5 760L695.2 757.3L698.5 751.6L700.7 743.7L702.7 730.2L704.2 712.7L707 655.1L711 528.9L711.7 514.2L712.5 508.4L713.2 512.9L714.2 532.9L717.7 645.6L720 699.4L722.5 732.4L724 742.9L725.7 750.4L728.7 757.3L733 762.3L738.7 765.7L746.5 768L760 769.6L773.2 769.3L782.5 767.2L786 765.5L789 763.3L791.5 760.7L793.5 757.6L796.5 749.8L799 736.9L801 718.2L804.2 661.7L809.5 517.4L810.5 501.7L811.2 498L812.2 504.7L813.2 523L818.7 673.4L822 724.6L824.2 742.6L826.7 753.2L828.5 757.6L830.5 760.9L833 763.6L835.7 765.4L838.2 766.3L840.7 766.4L843 765.8L845 764.5L846.5 762.6L848 759.6L850.2 751.5L852.2 739L854 722.6L859.2 655.1L860.2 648.1L861 646.7L862 650.3L863 659.3L867.2 717.2L869.7 742.7L872.5 759.2L874 764.4L876 768.9L879.7 773.4L885.5 776.8L893.7 779.3L904.2 780.7L914.7 780.8L923.2 779.7L929.5 777.2L934 773.2L936.5 769L938.7 762.4L940.7 752.9L942.5 740.5L945.5 707.9L950.7 629.1L952 617.4L953 614.1L953.5 614.7L954.2 618.5L955.5 631.2L962 726.2L963.7 743.2L965.7 756.9L968.5 768.3L971.7 775.3L974 778.1L976.5 780.3L983.2 783.9L991.2 786.3L1002.2 788.2L1017.5 789.7L1035.5 790.7L1049 790.9L1058 790.5L1062.7 789.3L1065.7 787L1067.7 783.9L1069.5 779.2L1072.7 763.6L1075.5 741.3L1081.5 679.1L1083.2 667.6L1084 665.1L1084.7 664.3L1085.5 665.2L1086.2 667.7L1087.7 677.2L1094.2 744.4L1097.5 769.1L1099.5 778.6L1101.5 784.6L1103.7 788.5L1106.7 791L1112.7 792.8L1124.7 794.2L1145 795.3L1168.5 795.9L1181.7 795.7L1190.5 795.1L1195.2 793.9L1198.2 791.8L1200.5 788.4L1202.2 783.8L1205.5 768.3L1208.5 743.9L1214.2 684.1L1216 672.5L1216.7 669.9L1217.5 668.9L1218.2 669.7L1219 672.1L1220.7 683.3L1226.7 745.2L1229.5 767.5L1232.5 782.3L1234.2 787.2L1236.2 790.5L1239.2 792.4L1241 792.3L1242.5 791.7L1245.5 788.4L1248 782.9L1250 776L1252.2 765.4L1259.7 720.7L1261.5 714.5L1263 712.7L1263.7 713.1L1264.7 715.1L1266.7 722.9L1273 761.6L1276 776.8L1279 786.9L1282.2 792.8L1284.5 794.9L1287.2 796.3L1296.5 797.7L1318.2 797.6L1326.5 796.8L1331.5 795.6L1335.2 793.2L1338.2 788.7L1340.7 781.3L1343 770.3L1347 737.7L1354.2 655.6L1356 643.6L1357 640.2L1357.7 639.6L1358.5 640.7L1359.5 644.6L1361.2 657.4L1367.7 732L1370.5 757.9L1373.5 776.9L1376.7 788.2L1378.5 791.5L1380.7 794.1L1383.5 795.8L1387.2 796.9L1404.2 798.5L1424.5 798.1M1497 789.5L1512 787.3L1519.5 785.6L1524.2 783.2L1527.7 779.3L1530.5 774L1533 766.8L1536 755L1543 722.2L1545 716.1L1546 714.4L1547 713.6L1548 714L1549 715.4L1551 720.9L1558.2 753L1561.7 765.4L1565 772.7L1568.7 777L1572 778.5L1576 779L1593 777.6L1617.5 773.6L1623.5 771.8L1627.5 769.6L1630.2 767.1L1632.7 763.4L1635 758.4L1637.2 751.6L1641.2 733.9L1649.7 685.6L1652 677.6L1653 675.6L1654 674.8L1655 675.2L1656 676.7L1658.2 683.8L1667 730.6L1669.5 741.5L1671.7 749L1674.2 754.8L1677.2 759L1680.7 761.4L1685 762.2" stroke="#8b0000" stroke-width="3.6" stroke-dasharray="10 3"/>
<path d="M178.7 728.7L201.7 730.1L209.2 730L214.9 729.2L219.4 727.8L222.9 725.6L225.7 722.5L227.7 718.4L230.4 706.4L232.7 685.2L234.7 653.1L238.4 573.3L239.2 563.4L239.9 559.6L240.7 562.7L241.7 576.1L246.7 678.1L248.4 699.1L250.2 712L252.7 721.6L254.4 725.2L256.4 727.8L259.2 730.3L262.7 732.3L266.7 733.8L271.2 734.8L274.7 734.5L275.7 733.5L276.7 731.2L278.2 723.9L280.9 702.9L281.9 699.7L283.2 704.1L286.7 730.1L287.9 734.4L289.7 736.8L293.2 737.9L301.2 738.7L309.4 738.9L315.9 738.3L320.2 737.4L323.7 735.7L326.2 733.6L328.2 730.8L329.9 726.3L331.2 721.2L333.7 702.5L335.7 676.2L339.4 610.6L340.2 602.6L340.9 599.5L341.7 602L342.4 609.6L346.9 687L349.9 717.9L351.9 728L354.2 733.9L357.4 738.1L362.2 741.3L370.4 744.2L383.2 746.5L406.7 749.2L429.9 751L439.9 751.1L446.9 750.4L452.2 748.6L455.7 745.8L457.9 742.3L459.9 736.8L462.9 720.2L465.7 692L469.9 632.3L470.9 623.1L471.9 619.6L472.9 622.7L473.9 631.7L478.7 698.8L481.9 729.3L483.7 738.6L485.9 745.9L488.7 750.8L492.7 754.6L498.4 757.6L506.4 760.1L516.5 761.9L530.2 763.4L553.5 764.9L575.5 765.6L589 765.2L597.2 763.8L600.2 762.4L602.5 760.5L604.5 757.7L606.2 754.1L609.5 743.3L614.7 718.9L616 715.3L617 714.3L618.2 715.7L619.5 719.6L624.2 742.3L626.7 751.7L629.5 758.4L633 762.8L635.7 764.6L639.2 765.8L650.2 767.5L667 767.9L674 767.4L678.5 766.5L682.5 764.2L685.2 760L687.7 752L689.7 741L693.5 705.1L700 616.5L701.5 603.8L702.2 600.3L703 599L703.7 600L704.5 603.3L706.2 618.3L712 698L714.5 726.6L717 745.9L719.7 758L721.2 761.8L723.2 764.9L725.7 766.9L729 768.2L735.7 769.4L745.2 770.1L754.2 770.1L760.2 769.3L764.7 767.1L768.2 762.4L771 754.9L773.5 743.6L775.7 728.5L778 708.5L786.2 616.6L788.2 603L789.2 599.7L790 598.9L790.7 599.6L791.7 602.8L793.7 616.2L802 709L804.2 729.5L806.5 745L809 756.9L812 765.3L815.5 770L817.5 771.3L820 772.2L823.7 771.9L826.7 770L829.2 766.2L831.5 760.2L835.2 743.5L842.5 697.7L844.2 690.7L845.2 688.7L846 688.2L846.7 688.7L847.7 690.8L849.7 699.3L856 740.6L859 757L861.7 767.1L865 774L867.5 776.7L870.7 778.6L875.2 779.8L882.5 780.8L893 781.6L901 781.6L905.7 780.7L909 778.8L911.5 775.7L913.5 771.6L917.2 758.6L920.7 738.6L928 686.7L930 677.5L931 675L932 674.1L932.7 674.6L933.7 676.7L935.7 685.2L944.5 747.6L947 761.1L949.7 771.6L952.7 778.6L956.5 783L961.2 785.3L969.7 786.8L988.7 788.2L1004.2 788.2L1008.2 787.6L1011.2 786.6L1013.7 785.1L1016 783L1019.7 776.8L1023 768L1026.7 753.5L1035.2 713.8L1037.7 706.5L1039 704.7L1040 704.2L1041 704.7L1042.2 706.5L1044.7 713.8L1053.5 755.3L1057.5 770.8L1061.5 780.9L1065.7 786.8L1069 789.2L1073.2 790.7L1079 791.7L1088.2 792.4L1104.7 793L1119 792.9L1126.7 792.2L1132.2 790.7L1136.2 788.3L1139.7 784.8L1143 779.8L1146 773.5L1151.7 756L1163.7 709.5L1167 701.6L1168.5 699.7L1170 699.1L1171.5 699.7L1173 701.6L1176.2 709.4L1188.5 757.3L1194.5 775.4L1197.7 782L1201.2 786.8L1205 789.9L1209 791.3L1212 791.2L1215 790.1L1217.7 787.9L1220.2 784.8L1225 775.9L1235 751.2L1237.5 747.4L1238.7 746.4L1240 746L1242.2 747.2L1244.7 750.9L1256.5 780L1260 786.4L1263.5 790.7L1268.5 794L1274.7 795.3L1281.7 794.5L1287.5 791.6L1290.2 789.1L1293 785.5L1298 775.6L1303.2 759.9L1314.5 718.6L1318 710.5L1319.5 708.7L1321 708.1L1322.5 708.6L1324 710.4L1327.2 717.7L1340 764L1343.5 774.4L1346.7 781.8L1350.5 788L1354.7 792.4L1359.5 795L1365.7 796.6L1378.2 797.6L1396.2 797.6L1405.5 796.8L1412.7 795L1418 792.7L1423 789.4L1428.5 784.5L1442.2 770.5L1446.5 767.6L1450.2 766.4L1453.7 766.6L1457.5 768.1L1471.7 778.3L1478.2 781.5L1481.7 782.4L1485.5 782.5L1489.2 781.9L1493 780.5L1497.5 778.1L1502.5 774.5L1519.2 759.3L1526 754.1L1532.7 750.7L1546.5 746.4L1550.2 744.4L1553.7 741.8L1558 737.5L1562.5 731.7L1576 709.7L1580.5 703.2L1585.2 698.4L1587.5 697.1L1589.7 696.5L1592.2 696.7L1594.7 697.9L1597.5 700.1L1600.2 703.3L1605.7 711.7L1618.2 734.5L1624.2 744.3L1631 753.1L1638 759.4L1642 761.8L1646 763.5L1655.2 765.4L1667 765.3L1685 763.2" stroke="#0a8a0a" stroke-width="3.8"/>
<path d="M322.7 742.1L342.9 742.3L349.2 741.4L353.7 739.9L357.2 737.4L359.9 733.7L362.2 728.3L363.7 721.8L365.7 702.9L367.4 665.4L371.4 480.4L372.2 458.3L372.7 455.2L373.7 478.6L377.7 664.8L379.4 703.5L381.4 723.1L382.9 730.1L385.2 736L387.9 740.1L391.4 743.3L395.9 745.7L402.2 747.8L422.7 751.4M690.7 770.5L699 769.9L704.2 768.8L707.5 766.9L709.7 763.6L711.2 759L712.7 751L716.7 715.2L718 709.9L718.7 711.6L719.5 716.5L723.5 752.4L725 760.1L726.5 764.5L728.7 767.8L732 769.9L737.2 771.4L745.7 772.6M834 778.9L846.2 779L854.2 778L859.2 775.7L862.2 771.8L864.5 765L866.2 755.6L871.2 708.4L872.2 701.7L873 700L873.7 701.4L874.7 707.8L880 757.7L881.7 767L883.7 773.3L886.7 777.8L891.5 780.8L899.2 783.1L911.2 784.9M1250.7 798.6L1257.5 798.1L1262.2 797.1L1265.2 795.7L1267.5 793.3L1270.5 786.1L1275.2 764.1L1276.2 760.9L1277 760L1277.7 760.7L1278.7 763.7L1283.5 785.9L1285 790.3L1286.7 793.7L1289 796L1292 797.5L1296.7 798.5L1303.5 799.2M1530.7 785.8L1534 784.8L1536.5 783.2L1542.5 776L1544 775L1545.7 775.7L1549.2 779.6L1551.5 781.4L1554 782.4L1557.5 782.7" stroke="#ff8000" stroke-width="4.2"/>
<path d="M218.2 733L228.7 733.2L235.4 732.3L239.7 730.1L242.2 726.4L243.9 720.3L245.4 710.8L249.7 661.7L250.9 654.8L251.4 655.7L252.2 660.9L255.4 701.2L257.2 716.5L259.4 726.8L260.7 729.7L262.4 732.1L266.9 735L274.4 737.1L287.4 738.8L304.9 740L314.7 740.2L321.7 739.5L326.7 737.8L330.2 735.1L332.4 731.4L333.9 726.7L336.4 709L338.4 678.4L341.7 602.9L342.9 589.8L343.4 591.5L344.2 601.3L347.4 677.1L349.4 709.1L351.9 727.9L353.4 733L355.7 737.2L357.7 739.4L360.4 741.4L367.7 744.3L378.9 746.5L397.7 748.8L431.4 751.9L446.9 752.7L456.9 751.7L460.4 750.4L463.4 748.6L467.2 744L469.7 737.4L471.7 726.3L473.2 710.9L475.7 662.1L479.7 536.2L480.9 519.9L481.7 525L482.4 540.3L485.7 646.5L487.7 695.3L489.7 723.4L490.9 733.4L492.4 741L494.4 746.9L497.2 751.5L500.7 755.1L505.2 757.9L510.9 760.1L518.2 761.8L541.7 764.6M627 768.4L631.2 768L634.2 766.9L636.5 765.1L640.5 760.5L642 759.8L643.5 760.5L647.5 765.3L650 767.5L653 768.8L657.2 769.5M696.2 770.6L703.2 770L707.2 768.3L710.2 764.6L714.5 756.1L716 754.8L717.5 756L722 765.3L725 769.1L729.2 771.1L737.2 772.2M764.5 773.7L775.2 773.8L782.2 773.1L786.7 771.6L789.5 768.9L791.5 764.6L793.2 758.1L798.2 725.6L799.2 721L800 719.8L800.7 720.9L801.7 725.3L805.2 750.1L807.5 762L809.7 768.8L812.7 773.1L817 775.5L824 777.3L835.2 778.6L843 778.5L845.2 777.6L847.2 775.7L851.7 765.9L853 764.6L854.2 765.9L857.7 774.6L860.2 778.4L863.5 780.4L869.7 781.7M919 785.4L929 784.9L931.7 783.9L933.7 782.3L936.7 777.1L941.2 762.6L942.2 760.4L943 759.9L943.7 760.4L944.7 762.5L949.5 778.2L952.2 783.3L954.2 785.2L957 786.5L966.7 788.3M1043.7 792L1055.5 791.2L1058.5 790.2L1061 788.4L1064.5 783L1070 767.6L1071 765.6L1072 764.9L1073 765.6L1074 767.5L1079.7 783.9L1083.2 789.4L1085.7 791.3L1088.7 792.5L1100.2 794.1M1172.7 796.5L1182.2 795.8L1185 794.9L1187.2 793.5L1190.5 789.4L1196 777L1197 775.5L1198 774.9L1199.7 776.5L1205 788.7L1208.7 794L1211 795.6L1213.5 796.6L1222.7 798M1317.2 799.2L1325.2 798.1L1329.7 795.9L1333.2 791.4L1338.2 781.4L1340 780L1341.7 781.3L1347 791.7L1350.2 795.8L1352.2 797.2L1354.7 798.1L1362.5 799.2M1600 777.1L1621.7 772.6L1641.2 767.2L1660 760.5L1685 750" stroke="#00f0f0" stroke-width="4.4"/>
<path d="M218.4 733L233.4 733.5L242.4 732.3L245.7 730.9L248.2 729L249.9 726.7L251.4 723.3L253.4 714.1L255.2 697.5L259.7 611.4L260.9 599.8L261.4 601.3L262.2 610L265.4 677.5L267.2 703.2L269.2 719.2L270.4 724.5L272.2 728.7L275.7 732.9L281.2 735.9L289.2 737.9L301.4 739.6L316.2 740.6L326.7 740.3L333.4 738.6L335.9 737.2L337.9 735.4L340.2 731.8L341.9 726.2L343.2 719L344.4 707.3L346.4 674.5L349.7 593.7L350.9 579.7L351.4 581.5L352.2 592L355.2 667.5L356.9 700.5L358.7 719.7L361.2 732.1L362.9 736.1L365.4 739.4L368.7 741.9L373.2 744L385.9 747L410.4 750.1M424.9 751.6L452.4 754.4L465.9 754.5L470.7 753.6L474.4 752.1L477.2 749.8L479.4 746.4L480.9 742.3L482.4 735.6L484.7 717.4L486.7 690L490.4 621.5L491.2 613L491.9 609.8L492.7 612.5L493.7 624.1L497.2 689.5L499.2 718.1L501.4 737.3L504.2 748.5L506.2 752.5L508.7 755.5L512.2 758L516.5 760L522 761.6L529 762.8L549.7 765M624.7 768.3L637.2 768.2L645.5 767.4L650.7 765.9L654 763.3L656.2 759L658.2 751.9L663.2 720.1L664.2 715.6L665 714.4L665.7 715.3L666.7 719.6L672 752.8L674 759.7L676.5 764.1L678.7 766L681.5 767.2L690.7 768.5L701 767.8L704.5 766.8L707.2 765.2L709.2 763L710.7 760.1L713.5 749.6L715.7 733.1L719.5 695.8L720.2 691.2L721 689.4L721.7 690.8L722.7 697.1L726.2 732.7L728.5 749.7L731 760.1L732.5 763.5L734.2 765.9L737.7 768.4L742.7 770.2L750 771.6L760.5 772.7L775.5 773.7L787.2 773.8L795.2 773L801 771.4L804.2 769.2L806.7 765.9L808.7 761L810.5 753.9L813.5 733.4L818.2 686.6L819.2 680.9L820 679.5L821 681.7L822 688L826.5 733.4L829 751.9L831.7 763.7L833.5 767.9L835.5 770.9L837.7 773L840.5 774.5L848 776.5L855 776.3L857.5 775.3L859.2 773.8L861.5 769.7L863.2 763.8L868.2 734.2L869.2 730.1L870 729L870.7 730L871.7 734.1L877 766L879 772.7L881.2 776.8L884.7 779.7L890.5 781.8L899.5 783.5L913 785M938.7 786.6L949 786.4L951.7 785.8L953.7 784.8L956.7 781.3L961.2 771.5L963 769.7L964.5 771.1L969 781.4L972 785.6L976.2 787.9L984.2 789.2M1067.7 793L1079.5 792.2L1082.5 791.3L1085 789.6L1088.5 784.6L1094 770.3L1095 768.5L1096 767.9L1097 768.5L1098 770.2L1103.7 785.4L1107.2 790.5L1109.7 792.3L1112.7 793.4L1124.2 794.9M1214.5 797.7L1222.2 797.4L1226.7 796.3L1230.2 794.3L1235.2 789.7L1237 789L1239 789.7L1244.7 794.5L1248.5 796L1251.7 796.2L1255.2 795.8L1258.2 794.8L1260.5 793.4L1263.7 789.6L1266.5 783.4L1269 774.7L1273.7 754.1L1275 750.7L1276 749.7L1277 750.6L1278.2 753.8L1283.2 775.6L1286 784.9L1289.2 791.5L1293 795L1296.2 796.5L1300.5 797.5L1314.2 798.8L1341.5 799L1349.5 798.6L1353.7 797.7L1356.2 796.4L1358.2 794.5L1361.7 787.9L1364.7 777.8L1371 750.4L1372.5 746.3L1374 744.8L1375.5 746.1L1377 750.1L1384 780.4L1386 787.1L1388.2 792.2L1390.7 795.6L1393.7 797.6L1397.7 798.6L1404.2 799.1M1543.7 784.3L1549.7 782.2L1552 780.4L1554 778L1557.5 771.1L1564 753.6L1565.5 751L1567 750L1568.5 750.6L1570 752.7L1576.5 768.5L1580 774.6L1582 776.6L1584.2 777.9L1590.2 778.5" stroke="#ffff00" stroke-width="4.6"/>
<path d="M187.7 730.1L189.2 729L190.2 726.5L192.9 710.9L193.9 708L194.9 710.6L197.9 727.9L198.9 730.3L200.4 731.6M289.2 739.6L290.4 739L291.2 738L292.4 733.3L295.4 702.4L296.4 698L297.4 703.5L300.4 734.6L301.7 739.1L303.4 740.8M359.2 745.7L360.9 744.4L362.2 740.5L364.9 719L365.9 715L366.9 718.4L369.9 741.9L371.2 745.6L372.7 746.9M421.9 751.7L423.7 750.3L424.9 746L427.9 715.4L428.9 710L429.9 714.7L432.9 746.4L434.2 751.4L434.9 752.6L436.2 753.4M738 772.6L739.7 771.4L741.2 768.1L744.7 748.5L746 745L747.2 748.1L750.7 768.3L752.2 772L754 773.4M1302.2 799.2L1305 798.6L1307 797.4L1311.7 790.9L1313 790L1314.2 790.7L1319 797.3L1321 798.5L1323.7 799.2M1554.5 783L1560 781.2L1563 778.6L1565 774.6L1568.7 762L1570 760L1571.2 761.5L1574.7 772.4L1577 776.7L1580 778.7L1585.7 779.1" stroke="#ff00ff" stroke-width="5.6"/>
<path d="M156.7 726.4L191.4 729.3L201.7 729.3L208.9 728.4L214.2 726.4L218.2 723.1L221.2 718.1L223.4 711.1L224.9 702.4L226.2 689.3L228.2 645L229.7 581L232.4 414.1L233.2 387.4L233.7 383.7L234.7 411.8L237.4 579L239.2 652.2L241.2 693.2L242.4 705.4L244.2 714.7L247.4 723.2L249.7 726.5L252.2 729L255.7 731.2L259.9 732.9L264.4 733.7L266.7 733.2L268.2 730.1L269.2 724.6L271.9 693.1L272.9 687.3L273.9 692.4L276.9 726.8L278.2 732.8L279.7 735.3L284.2 736.7L293.7 737.4L302.7 737.2L309.4 736.1L313.7 734.5L317.2 732L320.2 728.4L322.4 723.9L325.2 713.9L327.2 698.6L328.4 679.8L329.7 646.6L331.7 544.3L334.7 304L335.7 272.4L336.7 304.2L339.7 545L341.4 638.5L343.7 693.7L345.2 709.4L346.9 719.4L348.4 724.8L350.4 729.7L352.7 733.5L355.4 736.6L358.7 739.1L362.7 741.1L373.4 744.3L385.7 746.2L401.9 748L416.4 748.9L427.4 748.8L434.2 748L439.4 746.4L443.7 743.8L446.9 740.1L449.2 736.1L450.9 731.4L453.7 718.4L455.7 697.4L457.2 666.2L459.7 557.9L463.2 303.5L463.9 272.9L464.4 267.6L465.7 309.6L469.9 606L471.4 664L473.2 701.4L475.7 725.4L477.4 733.7L479.7 740.6L482.4 746L485.9 750.4L490.4 754L495.9 756.8L505.7 759.7L518.5 761.9L538.2 763.8L561.5 765.2L576.7 765.5L586.7 764.9L593 763.5L597.2 760.7L599.2 757.8L600.7 753.6L603 738.7L604.7 713.3L607.7 647.7L608.7 639.1L609.7 647.8L612.5 708.7L614.2 736.3L616.2 752L617.2 755.9L618.7 759.4L622.2 763.2L627.5 765.6L635.7 767L648 767.7L660 767.3L668.7 766L674.7 763.8L679.2 760L682.2 754.9L684.5 747.2L686.2 734.6L687.5 718.5L689.7 664.9L693 541.8L694.2 518.9L695 524.4L695.7 543.4L699.7 688.3L701 715.3L702.5 735.3L704.5 748.8L705.7 753.3L707.5 757.4L709.7 760.6L712.2 763L715.5 764.8L719.2 766.1L725.5 767L732 766.9L737.5 765.8L741.7 763.8L745 761L747.5 757.1L749.2 752.6L750.7 745.9L752.7 728.1L754.5 696.9L758.7 554.5L760 534.2L760.5 536.5L761.2 551L765.5 690.5L767 717.8L769 735.5L769.7 738.4L770.7 740.3L771.7 740.3L772.5 739L774 732.9L775.5 721L778 684.3L782 597.2L782.7 587.8L783.5 585L784.2 589.4L785.2 604.8L790 709.1L791.5 729.7L793.2 745.2L795.5 756.1L798.5 762.9L800.7 765.7L803.5 768L806.7 769.8L810.2 771L814 771.6L817.5 771.6L820.5 771L823 769.8L825 768L826.5 765.7L828.7 758.4L830.2 748.1L831.7 730.4L835.7 649.9L837 638.1L837.5 639.7L838.2 648.6L841.2 712.6L843 740.6L845.2 759.8L846.5 765.2L848 769.1L851.5 773.6L857.2 776.9L865.7 779.1L878 780.6L890 781.1L898.2 780.2L904 777.8L907.7 773.9L909.7 769.4L911.2 763.2L913.7 739.7L915.7 700L918.7 615.1L920 599.3L920.7 604.2L921.5 618.8L925.5 726.3L927 749.1L928.5 762.3L930.7 772.1L934 778L936.5 780.4L939.5 782.3L947.7 785L957.2 786.5L970.7 787.7L985.7 788.4L997.2 788.2L1004 787.5L1009 786.1L1012.7 784L1015.5 781L1017.2 777.5L1018.7 772.4L1021.2 756.3L1023.2 733.6L1027 675.7L1028 666.4L1028.7 664.6L1029.5 667.7L1030.5 678.4L1035.2 749L1037 764.6L1038.7 774.2L1041.2 781.3L1043 784L1045 785.9L1051 789.1L1060.2 791.3L1071.2 792.5L1086.7 793.4L1123.2 794.2L1132.2 793.8L1138.7 793L1143.7 791.7L1147.2 789.8L1149.5 787.5L1151.5 783.8L1154.5 773.3L1157 757.5L1161.5 718.8L1162.5 713.4L1163.5 711.6L1164.5 713.8L1165.5 719.6L1170 758.7L1172.7 775.5L1174.2 781.3L1176 785.9L1178 789.1L1180.5 791.4L1183.7 793.1L1187.7 794.3L1199.5 796L1211.5 795.9L1215.5 795.1L1218 793.9L1220.2 791L1222.2 785.3L1226.7 757.8L1228 754.1L1229.2 757.4L1232.2 777.5L1234 786.2L1236 791.8L1238.5 794.8L1241.5 796.2L1245.7 797.1L1260.5 798L1276.2 797.4L1281.7 796.5L1286 795.2L1289.7 793L1292.5 789.7L1294.5 784.9L1296.2 777.3L1299 754.7L1303.2 698.8L1304 692.4L1304.7 689.7L1305.5 691.3L1306.5 699.4L1311.2 760.6L1314.2 781.4L1316.5 788.4L1319.2 792.5L1323.5 795.3L1329.7 797.2L1346.2 798.8L1378.2 799.3L1402.2 798.9L1408.7 798.2L1413.2 797.2L1417.2 794.8L1420 790.7L1422.5 783.2L1426.2 767.6L1427.7 764.7L1428.5 765.1L1429.5 767.5L1433.2 782.5L1435.7 789.4L1438.5 793.1L1442.5 794.7L1451 794.9L1465.2 793.3L1478 791L1484.5 788.7L1487.2 786.3L1489.5 782.4L1495 764.1L1496 761.9L1496.7 761.4L1498.2 763.6L1503.5 780L1505.5 783.3L1507.7 785.2L1511.7 786.3L1519 786.2L1529.7 784.8L1538.7 782.9L1543.5 781.1L1546.7 779L1549.2 776.3L1551.5 772.2L1555.2 760.4L1560.7 734.7L1562 731L1563 729.8L1564 730.5L1565.2 733.8L1570.5 757.2L1573.7 767.6L1575.5 771.1L1577.5 773.7L1579.7 775.4L1582.2 776.4L1586.5 777.1L1592.7 777.2L1611.2 775.7L1643 771.4L1685 764.7" stroke="#00008f" stroke-width="4.4"/>
</g>
<g id="pb">
<path d="M156.7 2064L184.7 2069.7L189.9 2069.5L196.1 2067.6L210.3 2061.4L231.9 2050.9L237.5 2047.6L240.1 2044.9L241.9 2041.1L242.9 2036.4L243.7 2027.6L249.1 2026.5L250.5 2037.9L251.7 2040.9L253.3 2042.6L256.5 2043.8L265.7 2044.8L271.3 2046.9L283.3 2053.5L305.3 2067.6L321.1 2076L328.7 2078.5L331.3 2078.7L333.3 2078L334.9 2076.4L336.1 2074.1L338.1 2065.6L347.1 2070L349.1 2080.4L351.9 2087L354.1 2089.7L356.7 2092L363.5 2095.5L367.3 2096.1L368.5 2095.7L369.3 2094.7L370.5 2089.9L371.5 2080L376.3 2081.3L377.7 2094.5L379.3 2098.8L382.5 2101.2L388.3 2103.1L412.1 2107.8L434.5 2111.6L450.5 2113.6L460.7 2114L466.1 2113L469.5 2110.4L471.9 2105.4L473.5 2097.3L483.3 2098.5L484.7 2106.1L486.5 2111.1L489.1 2114.7L493.1 2117.2L500.5 2119.3L513.5 2121.4L529.3 2123.2L543.1 2124L573.7 2124.5L587.7 2124.2L606.5 2122.4L627.7 2119.2L630.7 2118L632.3 2115.8L633.5 2110.2L634.7 2099.4L637.9 2099.1L639.7 2113.1L640.7 2115.9L642.5 2117.3L647.3 2117.8L657.1 2117.2L670.3 2115.7L680.5 2114L686.9 2112L694.1 2109L698.5 2106.7L701.3 2104.4L702.7 2102.3L703.7 2099.1L705.1 2086.1L710.1 2084.7L711.5 2097L712.3 2099.2L713.7 2100.8L715.5 2101.4L717.9 2101.4L726.1 2099.8L749.3 2091.9L775.7 2083.9L779.1 2082.4L781.5 2080.3L782.9 2077.3L784.5 2064.4L790.7 2063.8L792.1 2074.2L793.1 2076.3L794.3 2076.8L795.7 2075.9L796.7 2073.6L798.1 2063.2L804.5 2062.8L805.5 2072.3L806.9 2077L809.7 2079.7L814.7 2080.9L822.7 2081.1L835.1 2080.4L841.9 2079.6L845.7 2078.4L847.5 2076.8L848.5 2074.3L850.5 2060.2L855.1 2059.9L857.1 2073.8L858.3 2076.4L860.5 2077.7L866.3 2078.1L868.3 2077.6L869.7 2076.6L871.5 2073.3L874.5 2062.5L875.7 2060.7L876.7 2062.5L880.1 2074L881.3 2076L882.9 2077.2L890.9 2077.9L915.7 2077.1L927.3 2076.1L930.5 2075.3L932.7 2074.2L934.3 2072.4L935.3 2069.7L936.9 2056.8L943.1 2056.6L944.3 2067.5L945.7 2072L948.3 2074.2L953.5 2075.3L1036.5 2075.7L1049.9 2075.2L1053.5 2074L1055.5 2071.7L1056.9 2066.7L1058.3 2056.7L1064.3 2056.9L1065.9 2068.1L1067.7 2073.3L1069.1 2074.6L1071.1 2075.6L1078.1 2076.9L1114.5 2079.4L1152.5 2082.6L1169.9 2083.3L1179.7 2083L1183.9 2082.1L1186.3 2079.6L1188.1 2074.4L1189.9 2064.6L1195.9 2064.8L1197.7 2074.5L1199.5 2079.7L1201.7 2082L1205.3 2082.5L1207.9 2081.7L1209.7 2079.2L1211.3 2074L1212.9 2065.4L1218.7 2065.6L1220.9 2076.9L1222.1 2080.3L1223.5 2082.4L1225.5 2083.7L1228.5 2084.5L1238.7 2085L1243.5 2084.1L1245.9 2081.9L1247.7 2077.1L1249.7 2066.7L1255.7 2066.9L1257.5 2076.7L1259.3 2082.2L1261.5 2084.8L1265.5 2086.1L1275.1 2087.3L1304.9 2089.3L1317.3 2089.5L1324.7 2088.9L1328.5 2087.5L1330.7 2084.9L1332.3 2079.9L1333.9 2071.1L1343.1 2071.5L1344.7 2080.4L1345.9 2084.6L1347.5 2087.4L1349.7 2089.1L1353.9 2090.4L1360.3 2091.3L1387.3 2092.8L1464.7 2094.8L1479.5 2094.5L1482.5 2093.4L1484.7 2091L1490.5 2076.2L1491.9 2076.3L1492.3 2077L1496.9 2090L1498.5 2092.8L1500.1 2094.4L1502.5 2095.4L1506.7 2096.2L1519.7 2096.5L1523.1 2095.6L1525.5 2093.1L1527.5 2088.7L1530.5 2078.7L1533.9 2078.7L1538.3 2092.4L1539.9 2095.2L1541.9 2097L1544.7 2098L1549.7 2098.8L1569.7 2100L1592.7 2100.2L1599.5 2099.6L1603.5 2098.6L1605.9 2096.9L1607.9 2093.8L1611.5 2081.5L1621.1 2081.7L1622.9 2085.9L1624.3 2087L1625.9 2085.7L1627.9 2081.8L1633.9 2081.9L1636.7 2087.7L1638.7 2089.3L1640.3 2088.5L1643.9 2083.2L1645.3 2082.3L1646.3 2082.9L1647.3 2084.3L1652.9 2096.2L1654.7 2098.4L1656.7 2099.9L1659.5 2100.9L1663.7 2101.6L1684.9 2103.7" stroke="#f00" stroke-width="9.5"/>
<polyline points="156.7,2058.8 157.1,2065 157.5,2067.4 158,2061.7 158.4,2058.7 158.8,2063.6 159.2,2065.7 159.6,2068.2 160.1,2059.4 160.5,2059.2 160.9,2066.9 161.3,2066.1 161.7,2070.2 162.2,2068.2 162.6,2064.1 163,2063.6 163.4,2074.4 163.8,2063.7 164.3,2061.9 164.7,2060.6 165.1,2065.4 165.5,2065.6 165.9,2063.8 166.4,2065 166.8,2066.3 167.2,2068 167.6,2069.6 168,2066.3 168.5,2058.8 168.9,2068.4 169.3,2060.4 169.7,2065.2 170.1,2060.3 170.6,2066 171,2063.2 171.4,2067 171.8,2078.9 172.2,2066.2 172.7,2069.7 173.1,2061.6 173.5,2065.6 173.9,2069.4 174.3,2066.6 174.8,2068.5 175.2,2067.6 175.6,2063.5 176,2069.5 176.4,2064.4 176.9,2074.7 177.3,2065.8 177.7,2070.4 178.1,2068 178.5,2071.7 179,2065.9 179.4,2072.1 179.8,2067.9 180.2,2073.3 180.6,2070.9 181.1,2069.2 181.5,2065.8 181.9,2071.7 182.3,2070.7 182.7,2075.2 183.2,2067.6 183.6,2071.2 184,2071 184.4,2070.2 184.8,2070 185.3,2069.9 185.7,2067 186.1,2065.4 186.5,2067.8 186.9,2071.5 187.4,2075 187.8,2073 188.2,2073.2 188.6,2072.1 189,2071.8 189.5,2069.8 189.9,2071.9 190.3,2075.6 190.7,2067.6 191.1,2066.1 191.6,2076.1 192,2069.4 192.4,2072.1 192.8,2071.6 193.2,2063.8 193.7,2077.2 194.1,2074.6 194.5,2068.4 194.9,2070.4 195.3,2067.8 195.8,2063.8 196.2,2066.6 196.6,2068.3 197,2070.9 197.4,2069.2 197.9,2066.5 198.3,2071.3 198.7,2063.1 199.1,2068.8 199.5,2069.8 200,2064.3 200.4,2058.4 200.8,2061.6 201.2,2065.7 201.6,2066.6 202.1,2070.3 202.5,2060.5 202.9,2064.1 203.3,2066.4 203.7,2063.1 204.2,2054.6 204.6,2066.5 205,2072 205.4,2066.9 205.8,2059.4 206.3,2061.1 206.7,2063.4 207.1,2071.8 207.5,2064.5 207.9,2062.4 208.4,2067.7 208.8,2061.3 209.2,2068.5 209.6,2058.6 210,2059.2 210.5,2063.5 210.9,2066 211.3,2062.9 211.7,2061.3 212.1,2053 212.6,2057 213,2057.2 213.4,2057.3 213.8,2061.3 214.2,2057.6 214.7,2061.7 215.1,2058.8 215.5,2057 215.9,2058.5 216.3,2059.5 216.8,2060.9 217.2,2055.6 217.6,2056.3 218,2051.8 218.4,2062.9 218.9,2062.1 219.3,2055.7 219.7,2054.3 220.1,2051.2 220.5,2056.4 221,2056.3 221.4,2063.6 221.8,2056.1 222.2,2052 222.6,2045.4 223.1,2059.9 223.5,2055.1 223.9,2048.1 224.3,2054.7 224.7,2047.7 225.2,2066.8 225.6,2057.7 226,2055.4 226.4,2052.4 226.8,2044.7 227.3,2052.2 227.7,2046.5 228.1,2054.5 228.5,2043.9 228.9,2048.4 229.4,2056.3 229.8,2057.7 230.2,2046.8 230.6,2045.2 231,2054.2 231.5,2053.9 231.9,2046.7 232.3,2047.6 232.7,2047.3 233.1,2045.2 233.6,2047 234,2054.1 234.4,2051.7 234.8,2056.7 235.2,2048.3 235.7,2047.8 236.1,2044.3 236.5,2047.3 236.9,2042.5 237.3,2040.5 237.8,2049.5 238.2,2052 238.6,2049.3 239,2050.8 239.4,2046.2 239.9,2042 240.3,2044.5 240.7,2042 241.1,2038.4 241.5,2035.2 242,2034.8 242.4,2038.8 242.8,2037.1 243.2,2031.3 243.6,2032.4 244.1,2016.5 244.5,1997.8 244.9,1967.5 245.3,1913.7 245.7,1857.4 246.2,1828.3 246.6,1819.8 247,1862.7 247.4,1910.3 247.8,1960 248.3,1993.8 248.7,2004.7 249.1,2027.5 249.5,2028.6 249.9,2031.8 250.4,2035.2 250.8,2041.2 251.2,2042.7 251.6,2044.1 252,2034.6 252.5,2039.1 252.9,2032.8 253.3,2041.7 253.7,2044.7 254.1,2039.7 254.6,2043.7 255,2043.8 255.4,2046.9 255.8,2040.1 256.2,2040.1 256.7,2040.4 257.1,2050.1 257.5,2047.6 257.9,2043 258.3,2044.4 258.8,2044 259.2,2044.4 259.6,2042.9 260,2042.4 260.4,2038.9 260.9,2041.3 261.3,2050 261.7,2045.8 262.1,2044.1 262.5,2043 263,2044.1 263.4,2045.2 263.8,2041.5 264.2,2044.7 264.6,2045 265.1,2041.3 265.5,2041.2 265.9,2040.5 266.3,2040.4 266.7,2048 267.2,2035.7 267.6,2043.8 268,2042.7 268.4,2042.8 268.8,2045.7 269.3,2049.8 269.7,2046 270.1,2045.3 270.5,2043.7 270.9,2045.7 271.4,2049.9 271.8,2045.2 272.2,2042.5 272.6,2042.3 273,2043.1 273.5,2042.2 273.9,2051.9 274.3,2049.3 274.7,2047.3 275.1,2054 275.6,2046.2 276,2051.8 276.4,2052.2 276.8,2043.5 277.2,2043.7 277.7,2046.3 278.1,2053.5 278.5,2055.3 278.9,2045.9 279.3,2054.8 279.8,2049.6 280.2,2049.7 280.6,2049.4 281,2050.5 281.4,2045 281.9,2048.4 282.3,2047.7 282.7,2054.5 283.1,2060.9 283.5,2063.5 284,2052.2 284.4,2047.2 284.8,2052.4 285.2,2050.7 285.6,2062 286.1,2056.9 286.5,2052.3 286.9,2058.9 287.3,2057.7 287.7,2049.7 288.2,2054.2 288.6,2055.6 289,2056.8 289.4,2057.6 289.8,2056.1 290.3,2058.4 290.7,2055.7 291.1,2054.8 291.5,2064.3 291.9,2060.2 292.4,2060.7 292.8,2053.3 293.2,2059 293.6,2063 294,2055.3 294.5,2064.7 294.9,2059.3 295.3,2062.6 295.7,2060.8 296.1,2062.4 296.6,2066.4 297,2060.6 297.4,2068.3 297.8,2059.7 298.2,2059.4 298.7,2065.9 299.1,2059.4 299.5,2062.3 299.9,2067.4 300.3,2068.2 300.8,2058.6 301.2,2066.4 301.6,2071.2 302,2069.2 302.4,2064.7 302.9,2063.7 303.3,2065 303.7,2062.4 304.1,2065.6 304.5,2066.1 305,2066.5 305.4,2071.1 305.8,2066.7 306.2,2062.9 306.6,2071.4 307.1,2064.6 307.5,2066.9 307.9,2068.2 308.3,2067.7 308.7,2065.8 309.2,2068.5 309.6,2076.8 310,2067.8 310.4,2069.6 310.8,2074 311.3,2073 311.7,2073.3 312.1,2073.8 312.5,2064.7 312.9,2068.6 313.4,2072.1 313.8,2073.5 314.2,2076.4 314.6,2073.9 315,2071.7 315.5,2072.9 315.9,2072.3 316.3,2074 316.7,2075.6 317.1,2072.5 317.6,2071.1 318,2071.2 318.4,2077.8 318.8,2078.6 319.2,2077.9 319.7,2077.6 320.1,2077.8 320.5,2075.2 320.9,2077.6 321.3,2072.1 321.8,2075.1 322.2,2073.5 322.6,2078.5 323,2074.4 323.4,2076.1 323.9,2077.9 324.3,2081.2 324.7,2074.3 325.1,2074 325.5,2079.9 326,2073.7 326.4,2079 326.8,2075.7 327.2,2077.4 327.6,2071.8 328.1,2080.3 328.5,2076.4 328.9,2075.1 329.3,2085 329.7,2080.5 330.2,2089.8 330.6,2079.5 331,2077 331.4,2078.5 331.8,2083.4 332.3,2077.9 332.7,2079.3 333.1,2079.3 333.5,2074.3 333.9,2077.4 334.4,2075 334.8,2072 335.2,2078.4 335.6,2076.9 336,2074 336.5,2069.6 336.9,2064.5 337.3,2070.8 337.7,2066.5 338.1,2058.1 338.6,2059.2 339,2048.5 339.4,2044.2 339.8,2028.5 340.2,1998.1 340.7,1938.9 341.1,1837.8 341.5,1684.3 341.9,1508.7 342.3,1365.7 342.8,1348.9 343.2,1471.4 343.6,1649.1 344,1811.8 344.4,1911.4 344.9,1989.7 345.3,2024.6 345.7,2052.1 346.1,2058.3 346.5,2056.7 347,2068.3 347.4,2069.1 347.8,2077 348.2,2072.7 348.6,2077.8 349.1,2079.4 349.5,2080.9 349.9,2080.5 350.3,2077.4 350.7,2085.9 351.2,2088.5 351.6,2085.7 352,2083.3 352.4,2087.9 352.8,2089.7 353.3,2087.7 353.7,2088.7 354.1,2093.9 354.5,2086 354.9,2088.2 355.4,2084.1 355.8,2088.4 356.2,2088.6 356.6,2088.2 357,2089.4 357.5,2097.9 357.9,2091.6 358.3,2092.2 358.7,2100 359.1,2092.8 359.6,2087.5 360,2094.8 360.4,2090.6 360.8,2099.3 361.2,2090 361.7,2092.4 362.1,2089.2 362.5,2095 362.9,2091.5 363.3,2094.7 363.8,2093.9 364.2,2093.2 364.6,2098.5 365,2098.5 365.4,2095.7 365.9,2092.6 366.3,2092.1 366.7,2096.5 367.1,2103.5 367.5,2094 368,2092.8 368.4,2092.9 368.8,2091.3 369.2,2091.1 369.6,2092.8 370.1,2096.7 370.5,2089.5 370.9,2084.2 371.3,2075.2 371.7,2074 372.2,2064.3 372.6,2050.3 373,2040.9 373.4,2036.5 373.8,2036.5 374.3,2037.4 374.7,2043 375.1,2051.1 375.5,2063.6 375.9,2072 376.4,2087.2 376.8,2082.4 377.2,2089.3 377.6,2097.7 378,2094.6 378.5,2101.5 378.9,2097.5 379.3,2098.8 379.7,2097.6 380.1,2094.7 380.6,2096.3 381,2107.2 381.4,2102.2 381.8,2102.3 382.2,2103.7 382.7,2102.6 383.1,2104.3 383.5,2100.3 383.9,2100.6 384.3,2104.7 384.8,2100.4 385.2,2097.3 385.6,2101.1 386,2100.2 386.4,2104.1 386.9,2099.9 387.3,2098.9 387.7,2101.4 388.1,2107.7 388.5,2102.5 389,2103.3 389.4,2102.9 389.8,2104 390.2,2106.2 390.6,2107.8 391.1,2097.9 391.5,2107.9 391.9,2103.5 392.3,2102.5 392.7,2111.6 393.2,2103.2 393.6,2110.2 394,2107.1 394.4,2100.6 394.8,2105.7 395.3,2106.6 395.7,2103.8 396.1,2096.6 396.5,2103.3 396.9,2103.9 397.4,2100.9 397.8,2110.7 398.2,2103.9 398.6,2103.5 399,2103.9 399.5,2102.4 399.9,2102.5 400.3,2105.4 400.7,2106.2 401.1,2103.6 401.6,2105.1 402,2100.8 402.4,2107.2 402.8,2103.1 403.2,2106.4 403.7,2102.8 404.1,2104.1 404.5,2106.6 404.9,2102 405.3,2114.2 405.8,2106 406.2,2106 406.6,2103.9 407,2111.6 407.4,2111 407.9,2107.5 408.3,2102.1 408.7,2105 409.1,2108.8 409.5,2105.1 410,2103 410.4,2103.1 410.8,2104.5 411.2,2107.2 411.6,2105.1 412.1,2107.4 412.5,2116.6 412.9,2113.3 413.3,2104.1 413.7,2108.7 414.2,2108 414.6,2107.3 415,2111.3 415.4,2106.8 415.8,2106.9 416.3,2106.8 416.7,2107.8 417.1,2112.5 417.5,2110.9 417.9,2103.9 418.4,2107 418.8,2105.9 419.2,2111.3 419.6,2109.4 420,2111.7 420.5,2108.6 420.9,2102.6 421.3,2110.4 421.7,2109.8 422.1,2110.8 422.6,2104.9 423,2109.5 423.4,2107 423.8,2107.1 424.2,2110.6 424.7,2110.7 425.1,2106.7 425.5,2104 425.9,2101.6 426.3,2107.9 426.8,2113.6 427.2,2109.8 427.6,2102.6 428,2107.2 428.4,2111.5 428.9,2115.7 429.3,2114.1 429.7,2111.6 430.1,2111.1 430.5,2107 431,2109.1 431.4,2109.5 431.8,2108.1 432.2,2111 432.6,2109.5 433.1,2112 433.5,2115.7 433.9,2113.5 434.3,2112.5 434.7,2110.4 435.2,2106.2 435.6,2110.9 436,2113.1 436.4,2108.1 436.8,2115.6 437.3,2110.4 437.7,2112.8 438.1,2110.6 438.5,2107.6 438.9,2118.6 439.4,2108 439.8,2114.9 440.2,2110.1 440.6,2112.9 441,2109.4 441.5,2110.7 441.9,2115.2 442.3,2118.6 442.7,2109.5 443.1,2112.3 443.6,2115.5 444,2110.3 444.4,2114.8 444.8,2109.9 445.2,2114.6 445.7,2114.1 446.1,2116.7 446.5,2113.9 446.9,2108.8 447.3,2115 447.8,2109.2 448.2,2115.4 448.6,2117.9 449,2114.9 449.4,2111.2 449.9,2117 450.3,2113.7 450.7,2109 451.1,2112 451.5,2117.9 452,2112.2 452.4,2113.7 452.8,2112.2 453.2,2107.8 453.6,2111.7 454.1,2114.6 454.5,2114.1 454.9,2112.9 455.3,2106.4 455.7,2117.5 456.2,2115.9 456.6,2116.9 457,2117.8 457.4,2112.1 457.8,2111.6 458.3,2114.6 458.7,2119.1 459.1,2108 459.5,2112.8 459.9,2111.2 460.4,2115.4 460.8,2118.4 461.2,2112.5 461.6,2109.4 462,2113.6 462.5,2112.4 462.9,2108.2 463.3,2116.2 463.7,2111.5 464.1,2115.4 464.6,2108.7 465,2116.5 465.4,2108 465.8,2116.1 466.2,2106.5 466.7,2116.8 467.1,2110.8 467.5,2106.6 467.9,2110.7 468.3,2112.3 468.8,2107.5 469.2,2108.7 469.6,2110.7 470,2108.6 470.4,2098.4 470.9,2106.2 471.3,2108.1 471.7,2106.5 472.1,2107.4 472.5,2100.1 473,2108.6 473.4,2100.2 473.8,2095.2 474.2,2093.2 474.6,2086.5 475.1,2073.8 475.5,2054.4 475.9,2029 476.3,1971.3 476.7,1872.9 477.2,1746 477.6,1596.4 478,1456.6 478.4,1402.1 478.8,1468.9 479.3,1610.5 479.7,1769.4 480.1,1888.6 480.5,1975.7 480.9,2030.7 481.4,2061.5 481.8,2078 482.2,2089.8 482.6,2089.6 483,2099.5 483.5,2100.6 483.9,2098.3 484.3,2103.5 484.7,2112.6 485.1,2109.8 485.6,2106.9 486,2101.6 486.4,2108 486.8,2108.9 487.2,2112.2 487.7,2120.2 488.1,2115.5 488.5,2114.6 488.9,2110.9 489.3,2110.5 489.8,2114 490.2,2113.5 490.6,2125.3 491,2114.3 491.4,2113.8 491.9,2119.8 492.3,2116.5 492.7,2112.4 493.1,2120.9 493.5,2115.8 494,2112.6 494.4,2118.2 494.8,2118.9 495.2,2116.3 495.6,2119.9 496.1,2120.4 496.5,2114.9 496.9,2111.1 497.3,2110.1 497.7,2117.7 498.2,2122.3 498.6,2121.7 499,2123 499.4,2124.7 499.8,2118.7 500.3,2122.2 500.7,2113.8 501.1,2121.2 501.5,2120.3 501.9,2118.8 502.4,2117.7 502.8,2115.5 503.2,2119.8 503.6,2123.6 504,2118.2 504.5,2121.3 504.9,2117.4 505.3,2120.5 505.7,2116.4 506.1,2121.1 506.6,2119.2 507,2121 507.4,2118 507.8,2116.2 508.2,2119.1 508.7,2123.6 509.1,2125.5 509.5,2119.3 509.9,2123 510.3,2123 510.8,2121.8 511.2,2115.5 511.6,2121.7 512,2117.5 512.4,2124.7 512.9,2123.4 513.3,2122.9 513.7,2112.6 514.1,2123.1 514.5,2123.4 515,2116.9 515.4,2124.4 515.8,2121.5 516.2,2120.7 516.6,2119 517.1,2118 517.5,2120 517.9,2131.7 518.3,2122.2 518.7,2122.3 519.2,2119.5 519.6,2119.7 520,2119.9 520.4,2118.9 520.8,2124.7 521.3,2121 521.7,2124.8 522.1,2118.2 522.5,2125.1 522.9,2122 523.4,2124.3 523.8,2121.8 524.2,2119.3 524.6,2126.3 525,2120.9 525.5,2121.9 525.9,2119.5 526.3,2123.1 526.7,2121.2 527.1,2123.4 527.6,2123.7 528,2120.3 528.4,2118 528.8,2124.1 529.2,2125.7 529.7,2125 530.1,2119 530.5,2124.8 530.9,2124.1 531.3,2123.8 531.8,2124.3 532.2,2121.9 532.6,2123.7 533,2126.1 533.4,2121.4 533.9,2118.3 534.3,2122.8 534.7,2123.8 535.1,2117.1 535.5,2121 536,2125.2 536.4,2122.7 536.8,2123.6 537.2,2119.1 537.6,2126.3 538.1,2129.1 538.5,2122.7 538.9,2121 539.3,2119.6 539.7,2126.4 540.2,2123.8 540.6,2120.8 541,2127.5 541.4,2126 541.8,2125.5 542.3,2117.7 542.7,2123.2 543.1,2125.6 543.5,2119.5 543.9,2126.6 544.4,2128.3 544.8,2127 545.2,2121.2 545.6,2121.3 546,2126.7 546.5,2126.9 546.9,2127.7 547.3,2127.6 547.7,2123.3 548.1,2122.3 548.6,2117.5 549,2126.2 549.4,2131.2 549.8,2122.1 550.2,2122.1 550.7,2125.8 551.1,2124.9 551.5,2119.2 551.9,2121.4 552.3,2120.1 552.8,2130.4 553.2,2121.4 553.6,2126.6 554,2130.1 554.4,2130 554.9,2128.5 555.3,2129.2 555.7,2119.7 556.1,2122.6 556.5,2121.4 557,2122.8 557.4,2132.5 557.8,2118.3 558.2,2125.7 558.6,2119.8 559.1,2128.3 559.5,2128.1 559.9,2122.2 560.3,2130.7 560.7,2124.1 561.2,2128.2 561.6,2124.9 562,2122 562.4,2122.6 562.8,2123.5 563.3,2125.9 563.7,2124.3 564.1,2131.7 564.5,2123.3 564.9,2122.4 565.4,2121.5 565.8,2121.4 566.2,2119.2 566.6,2120.7 567,2126.9 567.5,2124.1 567.9,2123.4 568.3,2125.1 568.7,2127.5 569.1,2126 569.6,2126.5 570,2122.1 570.4,2123.1 570.8,2121.4 571.2,2123.7 571.7,2121.3 572.1,2122.7 572.5,2123.4 572.9,2123.3 573.3,2123.1 573.8,2122.4 574.2,2128.3 574.6,2122.9 575,2120.7 575.4,2124.6 575.9,2120.4 576.3,2120.5 576.7,2124.3 577.1,2118.5 577.5,2113.4 578,2124.9 578.4,2127.4 578.8,2118.5 579.2,2121 579.6,2125.9 580.1,2117.4 580.5,2121.1 580.9,2120 581.3,2123.3 581.7,2117.5 582.2,2126.9 582.6,2123.5 583,2124.9 583.4,2122.8 583.8,2116.9 584.3,2123.4 584.7,2119.5 585.1,2123.9 585.5,2121 585.9,2122.8 586.4,2123.1 586.8,2126.3 587.2,2126.3 587.6,2120.4 588,2123.7 588.5,2128.5 588.9,2125.3 589.3,2121.2 589.7,2123.2 590.1,2122.4 590.6,2126.7 591,2123.6 591.4,2124.7 591.8,2130.8 592.2,2118.9 592.7,2120 593.1,2117.6 593.5,2118.1 593.9,2126.1 594.3,2124.2 594.8,2128.6 595.2,2116.7 595.6,2120.2 596,2127.9 596.4,2126.5 596.9,2125.9 597.3,2125.8 597.7,2123 598.1,2122.9 598.5,2122.9 599,2125.6 599.4,2122.2 599.8,2123.8 600.2,2127.5 600.6,2118.9 601.1,2120.1 601.5,2124.4 601.9,2121.6 602.3,2121.9 602.7,2129.3 603.2,2123.7 603.6,2120.9 604,2125.8 604.4,2130.5 604.8,2118.5 605.3,2119.9 605.7,2122.4 606.1,2119.9 606.5,2129.1 606.9,2123.6 607.4,2120.5 607.8,2123.4 608.2,2119.1 608.6,2119.7 609,2121.9 609.5,2129.4 609.9,2114.1 610.3,2122.8 610.7,2125.8 611.1,2123.8 611.6,2127.6 612,2122.7 612.4,2121.6 612.8,2120.7 613.2,2118.2 613.7,2126.4 614.1,2117 614.5,2120.5 614.9,2119.1 615.3,2118.2 615.8,2113.4 616.2,2119.4 616.6,2121 617,2121 617.4,2123.3 617.9,2119.9 618.3,2118.2 618.7,2121.3 619.1,2122.4 619.5,2117.2 620,2115.1 620.4,2116.7 620.8,2123.5 621.2,2123.2 621.6,2116.9 622.1,2120.2 622.5,2122.5 622.9,2124.1 623.3,2117.4 623.7,2118.7 624.2,2124.1 624.6,2127.3 625,2124.4 625.4,2115.5 625.8,2120.6 626.3,2118.1 626.7,2118.8 627.1,2116.7 627.5,2117.2 627.9,2118.6 628.4,2124.5 628.8,2120.7 629.2,2119.7 629.6,2118.2 630,2115.4 630.5,2116.9 630.9,2121.5 631.3,2119.7 631.7,2122.9 632.1,2116.5 632.6,2114.4 633,2107.4 633.4,2111.7 633.8,2101.5 634.2,2108.1 634.7,2096.2 635.1,2093.1 635.5,2083.7 635.9,2083 636.3,2080.4 636.8,2088.8 637.2,2089.7 637.6,2089.9 638,2092.5 638.4,2103.3 638.9,2105.8 639.3,2106.7 639.7,2114.5 640.1,2113.5 640.5,2115.4 641,2113.8 641.4,2114.3 641.8,2114.9 642.2,2111.4 642.6,2118.9 643.1,2118.3 643.5,2111.3 643.9,2117.4 644.3,2121 644.7,2118 645.2,2121.5 645.6,2116.4 646,2117.3 646.4,2113 646.8,2114.3 647.3,2111.3 647.7,2114.3 648.1,2118.1 648.5,2119 648.9,2121.1 649.4,2117.7 649.8,2113.9 650.2,2118.6 650.6,2116.7 651,2123 651.5,2123.6 651.9,2120.3 652.3,2113.3 652.7,2115.3 653.1,2117.6 653.6,2114.6 654,2118.7 654.4,2119.2 654.8,2119.6 655.2,2117.6 655.7,2113.9 656.1,2114 656.5,2116.3 656.9,2121.1 657.3,2121.9 657.8,2119.9 658.2,2117.8 658.6,2118.8 659,2119.2 659.4,2120.7 659.9,2119.3 660.3,2111.3 660.7,2119.5 661.1,2117.6 661.5,2114.8 662,2118 662.4,2117.1 662.8,2116 663.2,2110.5 663.6,2116.4 664.1,2117.8 664.5,2115.8 664.9,2110.7 665.3,2117.4 665.7,2118.2 666.2,2116.4 666.6,2117.1 667,2114.5 667.4,2113.4 667.8,2117.3 668.3,2114.3 668.7,2116 669.1,2126.1 669.5,2117.7 669.9,2115.7 670.4,2109.9 670.8,2115.5 671.2,2117.6 671.6,2112.7 672,2114.2 672.5,2107.5 672.9,2116.7 673.3,2112.8 673.7,2117 674.1,2119.2 674.6,2114.1 675,2117.8 675.4,2115.3 675.8,2113.7 676.2,2113.4 676.7,2111.4 677.1,2118.4 677.5,2117 677.9,2110.7 678.3,2116.7 678.8,2111.5 679.2,2108.8 679.6,2117.6 680,2109.4 680.4,2117.4 680.9,2114 681.3,2116.2 681.7,2114.8 682.1,2116.8 682.5,2114.1 683,2114.7 683.4,2113.5 683.8,2116.1 684.2,2111.1 684.6,2115.6 685.1,2117.1 685.5,2111.8 685.9,2113.3 686.3,2110 686.7,2110.6 687.2,2112.2 687.6,2110.1 688,2108.1 688.4,2110.8 688.8,2111.4 689.3,2111.6 689.7,2112.8 690.1,2104.4 690.5,2114.7 690.9,2109.3 691.4,2107.2 691.8,2108.3 692.2,2110.8 692.6,2112.1 693,2107.8 693.5,2109.3 693.9,2103.4 694.3,2109 694.7,2107.9 695.1,2106.6 695.6,2110.7 696,2113.5 696.4,2110.8 696.8,2104.6 697.2,2112 697.7,2105.6 698.1,2106.3 698.5,2104.3 698.9,2107.4 699.3,2107.5 699.8,2105.8 700.2,2104.3 700.6,2104.2 701,2102.9 701.4,2107 701.9,2101.5 702.3,2102.1 702.7,2101.1 703.1,2098.3 703.5,2098.6 704,2092.3 704.4,2095 704.8,2089.9 705.2,2078.8 705.6,2073.1 706.1,2049.9 706.5,2036.7 706.9,2019 707.3,2003.5 707.7,2002.5 708.2,2015.2 708.6,2028.5 709,2047 709.4,2066.8 709.8,2075.7 710.3,2078.8 710.7,2088 711.1,2097 711.5,2096.1 711.9,2094.4 712.4,2092.3 712.8,2100.5 713.2,2104.8 713.6,2096.1 714,2093.3 714.5,2102.3 714.9,2099 715.3,2099.9 715.7,2099.9 716.1,2098 716.6,2102.4 717,2104 717.4,2102.2 717.8,2099.1 718.2,2104.3 718.7,2100.5 719.1,2102.7 719.5,2097.7 719.9,2102.8 720.3,2103 720.8,2104.8 721.2,2100.5 721.6,2101.8 722,2098.4 722.4,2103.1 722.9,2102.6 723.3,2103.5 723.7,2098.6 724.1,2095.8 724.5,2099.5 725,2098.9 725.4,2097 725.8,2101.3 726.2,2102.3 726.6,2100.4 727.1,2102.6 727.5,2100.2 727.9,2095.6 728.3,2096.7 728.7,2097.4 729.2,2100.6 729.6,2101.3 730,2098.6 730.4,2101.3 730.8,2095.2 731.3,2097.3 731.7,2102.4 732.1,2098.9 732.5,2100.7 732.9,2091 733.4,2091.5 733.8,2094 734.2,2100 734.6,2101.8 735,2094.4 735.5,2093 735.9,2092.8 736.3,2093 736.7,2097.6 737.1,2094.6 737.6,2101.6 738,2097.7 738.4,2093 738.8,2095.8 739.2,2094.4 739.7,2097.3 740.1,2097.5 740.5,2093.3 740.9,2097.2 741.3,2096 741.8,2093.7 742.2,2094.6 742.6,2095.9 743,2092.5 743.4,2091.2 743.9,2097.3 744.3,2093.1 744.7,2091 745.1,2094.3 745.5,2087.8 746,2092.7 746.4,2087.9 746.8,2090.8 747.2,2086.3 747.6,2089.6 748.1,2094.7 748.5,2091 748.9,2087.6 749.3,2097 749.7,2089.2 750.2,2095.9 750.6,2089.3 751,2086.1 751.4,2096.7 751.8,2089.2 752.3,2092.9 752.7,2094.2 753.1,2086 753.5,2090.3 753.9,2088.1 754.4,2091.8 754.8,2089.7 755.2,2085.5 755.6,2089.6 756,2091.8 756.5,2088.2 756.9,2090.9 757.3,2087.2 757.7,2088.6 758.1,2089.8 758.6,2089 759,2092.5 759.4,2091.3 759.8,2090.9 760.2,2090.3 760.7,2088.4 761.1,2084 761.5,2091 761.9,2093.1 762.3,2088.1 762.8,2086.4 763.2,2087 763.6,2090.9 764,2087.8 764.4,2083.5 764.9,2086 765.3,2084 765.7,2085.7 766.1,2083.3 766.5,2083.3 767,2090.8 767.4,2089.2 767.8,2080.5 768.2,2082.4 768.6,2084 769.1,2084.1 769.5,2080.8 769.9,2088 770.3,2079.8 770.7,2087.1 771.2,2087 771.6,2083.5 772,2082.4 772.4,2084.6 772.8,2084.8 773.3,2077.4 773.7,2080 774.1,2085.7 774.5,2083.5 774.9,2082.3 775.4,2080.3 775.8,2081.1 776.2,2080.8 776.6,2092.1 777,2078.9 777.5,2087.7 777.9,2084.2 778.3,2083.1 778.7,2082.8 779.1,2080.7 779.6,2086.8 780,2083 780.4,2080.9 780.8,2080.2 781.2,2080.8 781.7,2075.9 782.1,2077.8 782.5,2075.9 782.9,2078.7 783.3,2076.8 783.8,2066.1 784.2,2067.3 784.6,2065 785,2048.9 785.4,2037.5 785.9,2029.9 786.3,2009.7 786.7,1991.9 787.1,1976 787.5,1974.4 788,1975.4 788.4,1989.5 788.8,2006 789.2,2023.6 789.6,2035.4 790.1,2047.2 790.5,2058.4 790.9,2064.6 791.3,2069.9 791.7,2070.4 792.2,2073.2 792.6,2073.1 793,2073.8 793.4,2076.6 793.8,2080 794.3,2074.6 794.7,2078.1 795.1,2077.2 795.5,2076 795.9,2077.3 796.4,2072.4 796.8,2074.6 797.2,2071.5 797.6,2055.9 798,2063.1 798.5,2056.1 798.9,2049.6 799.3,2025.6 799.7,2012 800.1,1994 800.6,1972.2 801,1966.9 801.4,1961.7 801.8,1965.4 802.2,1979.5 802.7,2000.7 803.1,2028.1 803.5,2043.4 803.9,2041.2 804.3,2052.7 804.8,2067.3 805.2,2069.2 805.6,2070.3 806,2076.2 806.4,2075.9 806.9,2077.4 807.3,2078 807.7,2074.2 808.1,2082.4 808.5,2077 809,2082.4 809.4,2081.3 809.8,2079.4 810.2,2079.9 810.6,2079.5 811.1,2073.8 811.5,2078.8 811.9,2081.4 812.3,2074.9 812.7,2075.3 813.2,2083.7 813.6,2082.9 814,2075.3 814.4,2081.9 814.8,2080.3 815.3,2083.6 815.7,2079.5 816.1,2079.8 816.5,2078.1 816.9,2081.2 817.4,2080.2 817.8,2078.5 818.2,2079.5 818.6,2078.2 819,2082.6 819.5,2077.3 819.9,2075.6 820.3,2077.5 820.7,2084.1 821.1,2079 821.6,2082.7 822,2083 822.4,2078.9 822.8,2083 823.2,2082.2 823.7,2080.4 824.1,2078.3 824.5,2080.3 824.9,2076.3 825.3,2079.6 825.8,2078.6 826.2,2081.9 826.6,2081.6 827,2078.3 827.4,2083.2 827.9,2084.3 828.3,2080.6 828.7,2077.9 829.1,2082 829.5,2072.4 830,2078.4 830.4,2082.1 830.8,2086.7 831.2,2077.8 831.6,2085.1 832.1,2087.7 832.5,2086.2 832.9,2072.4 833.3,2083.6 833.7,2080.6 834.2,2083.3 834.6,2079.4 835,2077.9 835.4,2079.2 835.8,2084.8 836.3,2082.6 836.7,2078.8 837.1,2081 837.5,2082.5 837.9,2081.5 838.4,2079.5 838.8,2077.4 839.2,2077.1 839.6,2078 840,2077.6 840.5,2074.2 840.9,2074.7 841.3,2082.1 841.7,2075.5 842.1,2074.8 842.6,2078.8 843,2083.6 843.4,2082.9 843.8,2077.3 844.2,2075.1 844.7,2076.6 845.1,2075.2 845.5,2076.2 845.9,2079.3 846.3,2074 846.8,2074.6 847.2,2075.9 847.6,2076 848,2072.7 848.4,2071.4 848.9,2068.6 849.3,2067.4 849.7,2068.3 850.1,2061.5 850.5,2046.9 851,2053.1 851.4,2044.4 851.8,2035.5 852.2,2032.5 852.6,2020.6 853.1,2025.5 853.5,2038 853.9,2046.6 854.3,2053.1 854.7,2049.9 855.2,2058.3 855.6,2065.6 856,2063 856.4,2075.8 856.8,2069.9 857.3,2075 857.7,2071.1 858.1,2076.8 858.5,2076.1 858.9,2080.1 859.4,2073 859.8,2077 860.2,2083.1 860.6,2073.3 861,2078.5 861.5,2078.9 861.9,2075.9 862.3,2076.7 862.7,2082.3 863.1,2081.4 863.6,2079.5 864,2078.6 864.4,2073.9 864.8,2078 865.2,2083.6 865.7,2081.1 866.1,2073.1 866.5,2070.7 866.9,2075.3 867.3,2077.9 867.8,2075.5 868.2,2076.1 868.6,2078 869,2079.6 869.4,2077 869.9,2080 870.3,2070.6 870.7,2076.2 871.1,2075.1 871.5,2067.8 872,2075.6 872.4,2064.8 872.8,2063.7 873.2,2075.7 873.6,2069.4 874.1,2064.8 874.5,2066.6 874.9,2064.8 875.3,2056.6 875.7,2061.8 876.2,2065.3 876.6,2061.1 877,2063.2 877.4,2063 877.8,2068.6 878.3,2066 878.7,2067.4 879.1,2066.8 879.5,2069 879.9,2073.9 880.4,2075.6 880.8,2073.5 881.2,2071.9 881.6,2077 882,2077.4 882.5,2080.7 882.9,2075.1 883.3,2075.5 883.7,2078.7 884.1,2082.1 884.6,2077 885,2076.9 885.4,2074.1 885.8,2076 886.2,2080.4 886.7,2080.1 887.1,2081 887.5,2071.9 887.9,2080.1 888.3,2074.3 888.8,2079.3 889.2,2069.5 889.6,2077 890,2074.4 890.4,2081.6 890.9,2077.8 891.3,2081.7 891.7,2075.9 892.1,2083.9 892.5,2075.9 893,2083.6 893.4,2075.7 893.8,2074.1 894.2,2080.3 894.6,2076 895.1,2077.1 895.5,2072.8 895.9,2076.1 896.3,2077.6 896.7,2074.9 897.2,2078.6 897.6,2069.6 898,2080.2 898.4,2075.9 898.8,2082.1 899.3,2076 899.7,2075 900.1,2075.7 900.5,2078.1 900.9,2079.1 901.4,2075.6 901.8,2074.5 902.2,2078.5 902.6,2079.8 903,2071.3 903.5,2073.6 903.9,2074.8 904.3,2082.7 904.7,2081.1 905.1,2079.7 905.6,2078.6 906,2073.2 906.4,2080.7 906.8,2075.5 907.2,2074.3 907.7,2083.4 908.1,2072.1 908.5,2081.5 908.9,2077.5 909.3,2073.8 909.8,2077.4 910.2,2074 910.6,2077.4 911,2074.6 911.4,2072.8 911.9,2085.6 912.3,2075 912.7,2080 913.1,2076.5 913.5,2078.9 914,2072.4 914.4,2073.2 914.8,2065.7 915.2,2079.9 915.6,2078.1 916.1,2072.6 916.5,2079.3 916.9,2078.5 917.3,2086.3 917.7,2077.3 918.2,2079.5 918.6,2078.5 919,2079 919.4,2076.3 919.8,2075 920.3,2078.7 920.7,2080.4 921.1,2072.4 921.5,2072.4 921.9,2076.1 922.4,2082.2 922.8,2075.4 923.2,2070.4 923.6,2078.7 924,2078.5 924.5,2082.5 924.9,2076.6 925.3,2082.5 925.7,2073.4 926.1,2078.8 926.6,2076.2 927,2071.7 927.4,2074.6 927.8,2079.9 928.2,2079.1 928.7,2074.1 929.1,2078.9 929.5,2078.1 929.9,2078 930.3,2075.8 930.8,2075.7 931.2,2071.8 931.6,2074.1 932,2074.5 932.4,2071.4 932.9,2072.6 933.3,2073.8 933.7,2073.5 934.1,2075.7 934.5,2068 935,2069.1 935.4,2069.8 935.8,2065.4 936.2,2064.7 936.6,2057.8 937.1,2057.6 937.5,2045.7 937.9,2034 938.3,2030.6 938.7,2023.5 939.2,2002.3 939.6,2001.6 940,1999.8 940.4,2005.5 940.8,2013.7 941.3,2017.3 941.7,2022.7 942.1,2039.9 942.5,2049.7 942.9,2055 943.4,2059.4 943.8,2060.6 944.2,2074.5 944.6,2064.5 945,2065 945.5,2074.3 945.9,2072.8 946.3,2074.6 946.7,2074 947.1,2078.7 947.6,2078.1 948,2071.7 948.4,2077.1 948.8,2070 949.2,2068.4 949.7,2078.2 950.1,2072.9 950.5,2067.2 950.9,2074.4 951.3,2072.3 951.8,2076.3 952.2,2074.5 952.6,2072.2 953,2072.4 953.4,2077.4 953.9,2071.7 954.3,2075.3 954.7,2071.6 955.1,2076.4 955.5,2080.9 956,2076.9 956.4,2078.7 956.8,2076.5 957.2,2071.8 957.6,2074 958.1,2075.2 958.5,2076.5 958.9,2073 959.3,2077.1 959.7,2072.6 960.2,2075.2 960.6,2075 961,2071.2 961.4,2078.4 961.8,2075.2 962.3,2075.4 962.7,2074.9 963.1,2068 963.5,2070.4 963.9,2072 964.4,2078.3 964.8,2073.1 965.2,2077 965.6,2071.6 966,2072.2 966.5,2073.4 966.9,2078.5 967.3,2069.5 967.7,2074.4 968.1,2076.3 968.6,2075.4 969,2074.9 969.4,2077.6 969.8,2075.9 970.2,2071.6 970.7,2077.1 971.1,2072.3 971.5,2073.8 971.9,2079.8 972.3,2083.1 972.8,2079.8 973.2,2076.3 973.6,2072.3 974,2072.4 974.4,2080.5 974.9,2076 975.3,2070.3 975.7,2080.1 976.1,2076.8 976.5,2079.3 977,2076.2 977.4,2067.7 977.8,2072.4 978.2,2074.4 978.6,2074.3 979.1,2079.9 979.5,2072.6 979.9,2074.5 980.3,2074.7 980.7,2074.6 981.2,2071.4 981.6,2070.8 982,2066.3 982.4,2076 982.8,2074.2 983.3,2075.5 983.7,2071.4 984.1,2074.9 984.5,2071.6 984.9,2071.5 985.4,2076 985.8,2077 986.2,2076.8 986.6,2074.7 987,2073.6 987.5,2079.5 987.9,2079 988.3,2072.8 988.7,2071.3 989.1,2076.1 989.6,2076 990,2071.9 990.4,2082.5 990.8,2068 991.2,2072.1 991.7,2075.7 992.1,2078.2 992.5,2068.7 992.9,2073.5 993.3,2079.7 993.8,2079.6 994.2,2074.1 994.6,2075 995,2072 995.4,2076.2 995.9,2071.4 996.3,2068.2 996.7,2069.9 997.1,2075.1 997.5,2070.6 998,2078.6 998.4,2079.2 998.8,2078.3 999.2,2077.1 999.6,2078.7 1000.1,2075.8 1000.5,2077.9 1000.9,2076.5 1001.3,2077.6 1001.7,2071.6 1002.2,2072.8 1002.6,2071.7 1003,2077.8 1003.4,2076.7 1003.8,2072.4 1004.3,2071.7 1004.7,2073.1 1005.1,2077.9 1005.5,2074.6 1005.9,2074.2 1006.4,2072.7 1006.8,2074.6 1007.2,2080.3 1007.6,2072.7 1008,2073.9 1008.5,2080.7 1008.9,2077.4 1009.3,2071.3 1009.7,2078.7 1010.1,2070.9 1010.6,2076.9 1011,2066.7 1011.4,2071.8 1011.8,2078.1 1012.2,2073.1 1012.7,2072.7 1013.1,2075.3 1013.5,2075.1 1013.9,2073.5 1014.3,2072.9 1014.8,2081.1 1015.2,2080.1 1015.6,2076.2 1016,2071.3 1016.4,2073.4 1016.9,2074.2 1017.3,2076.8 1017.7,2080.5 1018.1,2073.4 1018.5,2075.6 1019,2073.7 1019.4,2075.6 1019.8,2072.9 1020.2,2076.4 1020.6,2079 1021.1,2073.9 1021.5,2074.1 1021.9,2075.6 1022.3,2070.8 1022.7,2081.2 1023.2,2070.8 1023.6,2074 1024,2072.3 1024.4,2080.2 1024.8,2073.6 1025.3,2073.5 1025.7,2081.5 1026.1,2074.8 1026.5,2072.6 1026.9,2075.2 1027.4,2075.9 1027.8,2072.8 1028.2,2074.6 1028.6,2074.6 1029,2077.7 1029.5,2077.8 1029.9,2078 1030.3,2074.9 1030.7,2077.9 1031.1,2074.6 1031.6,2079.1 1032,2076.6 1032.4,2073.9 1032.8,2079.4 1033.2,2070.2 1033.7,2072.1 1034.1,2072.6 1034.5,2074.8 1034.9,2071.2 1035.3,2071.3 1035.8,2069 1036.2,2075.7 1036.6,2072.7 1037,2082.6 1037.4,2077.8 1037.9,2071.5 1038.3,2079.7 1038.7,2075.6 1039.1,2078.8 1039.5,2071.6 1040,2079.1 1040.4,2078.9 1040.8,2073.9 1041.2,2072.4 1041.6,2074 1042.1,2076.1 1042.5,2083.2 1042.9,2081.2 1043.3,2080.2 1043.7,2074.5 1044.2,2074.1 1044.6,2076.4 1045,2074.2 1045.4,2073.6 1045.8,2074.4 1046.3,2077.9 1046.7,2074.8 1047.1,2075.8 1047.5,2074.1 1047.9,2074.3 1048.4,2073.8 1048.8,2079 1049.2,2075.6 1049.6,2079.7 1050,2074.1 1050.5,2078.1 1050.9,2069.9 1051.3,2073.1 1051.7,2074.1 1052.1,2072.1 1052.6,2073.6 1053,2070.8 1053.4,2073.1 1053.8,2071.1 1054.2,2073 1054.7,2071.6 1055.1,2068.7 1055.5,2069.9 1055.9,2070.3 1056.3,2064.6 1056.8,2067.2 1057.2,2068.6 1057.6,2060.5 1058,2059.1 1058.4,2054.7 1058.9,2044.5 1059.3,2045.6 1059.7,2043.4 1060.1,2025.9 1060.5,2031.6 1061,2019 1061.4,2025.4 1061.8,2016.3 1062.2,2030 1062.6,2032 1063.1,2033.3 1063.5,2041 1063.9,2046 1064.3,2051.7 1064.7,2060.4 1065.2,2062.3 1065.6,2057.5 1066,2067 1066.4,2071.3 1066.8,2071.4 1067.3,2077.6 1067.7,2066.7 1068.1,2074.1 1068.5,2073.8 1068.9,2076.4 1069.4,2069.9 1069.8,2070.2 1070.2,2074.2 1070.6,2075.2 1071,2069.1 1071.5,2076.4 1071.9,2075.3 1072.3,2077.9 1072.7,2066.9 1073.1,2077.3 1073.6,2072.8 1074,2074.2 1074.4,2078.5 1074.8,2081.6 1075.2,2076.5 1075.7,2075.7 1076.1,2080.5 1076.5,2073.3 1076.9,2075.8 1077.3,2074.6 1077.8,2073.1 1078.2,2077.1 1078.6,2083.2 1079,2077.3 1079.4,2078.2 1079.9,2076.5 1080.3,2080.4 1080.7,2077.3 1081.1,2073.8 1081.5,2077.1 1082,2081.6 1082.4,2076.5 1082.8,2080.8 1083.2,2076.6 1083.6,2083.6 1084.1,2077.9 1084.5,2079.2 1084.9,2076 1085.3,2079.8 1085.7,2076.3 1086.2,2072.2 1086.6,2078.1 1087,2073.2 1087.4,2082.1 1087.8,2079.8 1088.3,2077.3 1088.7,2079.6 1089.1,2068.7 1089.5,2082.4 1089.9,2075.2 1090.4,2079.6 1090.8,2085.9 1091.2,2072.1 1091.6,2076.1 1092,2078.6 1092.5,2078.9 1092.9,2071.9 1093.3,2074.5 1093.7,2082.5 1094.1,2075.6 1094.6,2079.5 1095,2073.1 1095.4,2074.7 1095.8,2071.7 1096.2,2078.6 1096.7,2081.6 1097.1,2078.1 1097.5,2076.9 1097.9,2078.6 1098.3,2079.4 1098.8,2076.9 1099.2,2079.8 1099.6,2084.4 1100,2085.3 1100.4,2076.1 1100.9,2073.8 1101.3,2084.4 1101.7,2081.3 1102.1,2082.1 1102.5,2080.1 1103,2077.4 1103.4,2081.4 1103.8,2081.9 1104.2,2082.1 1104.6,2074.6 1105.1,2081.7 1105.5,2077.1 1105.9,2077.1 1106.3,2079.5 1106.7,2077.2 1107.2,2086.1 1107.6,2080.3 1108,2079.3 1108.4,2077.8 1108.8,2079.3 1109.3,2077.8 1109.7,2080.5 1110.1,2081.4 1110.5,2081.4 1110.9,2074.5 1111.4,2077.6 1111.8,2079 1112.2,2074.7 1112.6,2080 1113,2078.3 1113.5,2079 1113.9,2080.1 1114.3,2076.8 1114.7,2084.1 1115.1,2082.4 1115.6,2077.1 1116,2080.6 1116.4,2081.5 1116.8,2076.5 1117.2,2077.9 1117.7,2081.5 1118.1,2070.6 1118.5,2074.8 1118.9,2080.3 1119.3,2081.3 1119.8,2076.2 1120.2,2082.2 1120.6,2086.7 1121,2080.1 1121.4,2079.3 1121.9,2079.7 1122.3,2076.2 1122.7,2081.4 1123.1,2080.2 1123.5,2082.1 1124,2084.4 1124.4,2079.8 1124.8,2080.4 1125.2,2080.9 1125.6,2085.6 1126.1,2075 1126.5,2079.9 1126.9,2077.9 1127.3,2080.4 1127.7,2082.8 1128.2,2080.3 1128.6,2082.6 1129,2080.8 1129.4,2077.8 1129.8,2078 1130.3,2075.7 1130.7,2081.1 1131.1,2079 1131.5,2083.2 1131.9,2083.6 1132.4,2077.5 1132.8,2076.9 1133.2,2082.6 1133.6,2077.7 1134,2081.3 1134.5,2082.7 1134.9,2079.4 1135.3,2086.6 1135.7,2078.2 1136.1,2082.2 1136.6,2079.5 1137,2071.3 1137.4,2080.4 1137.8,2080.4 1138.2,2082.9 1138.7,2080.6 1139.1,2078.7 1139.5,2079.4 1139.9,2080.1 1140.3,2083.7 1140.8,2080.3 1141.2,2085.4 1141.6,2084.1 1142,2078.9 1142.4,2084.8 1142.9,2073.9 1143.3,2081.5 1143.7,2078.2 1144.1,2081.2 1144.5,2085.4 1145,2081.6 1145.4,2081.1 1145.8,2085.9 1146.2,2079.1 1146.6,2079 1147.1,2085 1147.5,2083.8 1147.9,2077.1 1148.3,2082.3 1148.7,2084.4 1149.2,2081.4 1149.6,2080.6 1150,2082.4 1150.4,2082.7 1150.8,2079.7 1151.3,2084.8 1151.7,2076.8 1152.1,2081.8 1152.5,2089.2 1152.9,2078.6 1153.4,2082 1153.8,2074.6 1154.2,2079.5 1154.6,2078.4 1155,2082.5 1155.5,2080.6 1155.9,2088.4 1156.3,2079.3 1156.7,2082.2 1157.1,2083.1 1157.6,2084.5 1158,2085.4 1158.4,2077.2 1158.8,2089.7 1159.2,2081.4 1159.7,2080.1 1160.1,2077 1160.5,2081 1160.9,2076.6 1161.3,2083.1 1161.8,2080.6 1162.2,2083.6 1162.6,2080 1163,2082.8 1163.4,2090 1163.9,2086.5 1164.3,2083.2 1164.7,2079.4 1165.1,2087.5 1165.5,2077.1 1166,2078 1166.4,2087 1166.8,2080.7 1167.2,2087.2 1167.6,2084.6 1168.1,2090 1168.5,2088.7 1168.9,2084.7 1169.3,2080.7 1169.7,2084.7 1170.2,2087.4 1170.6,2083.2 1171,2073.2 1171.4,2081.5 1171.8,2081.6 1172.3,2082.6 1172.7,2081.6 1173.1,2086.6 1173.5,2078.6 1173.9,2084.3 1174.4,2076.2 1174.8,2075.6 1175.2,2079.4 1175.6,2080.3 1176,2079.8 1176.5,2080.4 1176.9,2084.8 1177.3,2084.6 1177.7,2082.9 1178.1,2083.3 1178.6,2080.3 1179,2079.3 1179.4,2077.9 1179.8,2081.1 1180.2,2078.7 1180.7,2081.3 1181.1,2084.8 1181.5,2084.1 1181.9,2086.6 1182.3,2079 1182.8,2074.7 1183.2,2078.2 1183.6,2088.3 1184,2083.8 1184.4,2079.8 1184.9,2085.3 1185.3,2079.2 1185.7,2085.6 1186.1,2078.1 1186.5,2077.3 1187,2080 1187.4,2072.8 1187.8,2074.6 1188.2,2079.8 1188.6,2072.9 1189.1,2065.6 1189.5,2065.9 1189.9,2064 1190.3,2058.7 1190.7,2059.7 1191.2,2059.7 1191.6,2053.3 1192,2054 1192.4,2050.7 1192.8,2049.6 1193.3,2047 1193.7,2053.8 1194.1,2057 1194.5,2053.4 1194.9,2054.7 1195.4,2062.2 1195.8,2063.7 1196.2,2069.8 1196.6,2070.2 1197,2070.5 1197.5,2068.4 1197.9,2076.8 1198.3,2076.5 1198.7,2073.3 1199.1,2073.6 1199.6,2073.3 1200,2082 1200.4,2079 1200.8,2069.9 1201.2,2078.3 1201.7,2079.3 1202.1,2081.3 1202.5,2081.9 1202.9,2080.8 1203.3,2084.4 1203.8,2085.4 1204.2,2081.3 1204.6,2087.3 1205,2081.6 1205.4,2079.2 1205.9,2082.5 1206.3,2077.2 1206.7,2080.8 1207.1,2078.1 1207.5,2080 1208,2081.8 1208.4,2072.6 1208.8,2081.5 1209.2,2080.5 1209.6,2078.1 1210.1,2080.2 1210.5,2077.7 1210.9,2073.9 1211.3,2070.1 1211.7,2073.8 1212.2,2071.7 1212.6,2061.8 1213,2061.6 1213.4,2057.4 1213.8,2061.3 1214.3,2054.1 1214.7,2049.7 1215.1,2057.1 1215.5,2052.7 1215.9,2051.8 1216.4,2052.6 1216.8,2052.7 1217.2,2055.5 1217.6,2060.9 1218,2062.1 1218.5,2061.9 1218.9,2066.5 1219.3,2074.9 1219.7,2069.3 1220.1,2068.9 1220.6,2075.5 1221,2072.9 1221.4,2086.7 1221.8,2081.2 1222.2,2082 1222.7,2082.1 1223.1,2088 1223.5,2078.5 1223.9,2082.1 1224.3,2077.1 1224.8,2087 1225.2,2082.8 1225.6,2089.1 1226,2082.5 1226.4,2080 1226.9,2081.3 1227.3,2086.4 1227.7,2081.1 1228.1,2084.7 1228.5,2081.5 1229,2081.6 1229.4,2082.2 1229.8,2089.5 1230.2,2080.6 1230.6,2085.3 1231.1,2086.9 1231.5,2081.8 1231.9,2079.3 1232.3,2089.3 1232.7,2090.1 1233.2,2083.6 1233.6,2080.4 1234,2087.3 1234.4,2084.3 1234.8,2081.7 1235.3,2083.2 1235.7,2076.6 1236.1,2081.8 1236.5,2080.4 1236.9,2080.1 1237.4,2086.4 1237.8,2085.3 1238.2,2090.1 1238.6,2075.5 1239,2082.2 1239.5,2081.6 1239.9,2088.7 1240.3,2087.7 1240.7,2084.6 1241.1,2084.5 1241.6,2081.6 1242,2082.3 1242.4,2082.5 1242.8,2075.4 1243.2,2090 1243.7,2085.9 1244.1,2090.2 1244.5,2087.1 1244.9,2084.3 1245.3,2084.9 1245.8,2076 1246.2,2077.5 1246.6,2082.8 1247,2077.6 1247.4,2072.1 1247.9,2075.8 1248.3,2069.7 1248.7,2071.8 1249.1,2074.5 1249.5,2062.9 1250,2062.3 1250.4,2062.7 1250.8,2057.8 1251.2,2055.9 1251.6,2050.1 1252.1,2050.1 1252.5,2042.4 1252.9,2049.7 1253.3,2055.5 1253.7,2049.2 1254.2,2054.6 1254.6,2060.3 1255,2065 1255.4,2067.8 1255.8,2063.8 1256.3,2068.1 1256.7,2077.9 1257.1,2072.7 1257.5,2077.2 1257.9,2075.1 1258.4,2077.1 1258.8,2070.6 1259.2,2079.6 1259.6,2074.9 1260,2079.4 1260.5,2080 1260.9,2088.2 1261.3,2086.6 1261.7,2085.7 1262.1,2082.8 1262.6,2080.1 1263,2086.5 1263.4,2082.3 1263.8,2084.8 1264.2,2088.4 1264.7,2084.7 1265.1,2085.4 1265.5,2082.2 1265.9,2089.1 1266.3,2087.5 1266.8,2088.1 1267.2,2091.3 1267.6,2080.5 1268,2086 1268.4,2088.2 1268.9,2087.2 1269.3,2087.1 1269.7,2087.7 1270.1,2081.1 1270.5,2086 1271,2090.2 1271.4,2086.2 1271.8,2085.7 1272.2,2089.3 1272.6,2080.6 1273.1,2087.8 1273.5,2091.6 1273.9,2085.7 1274.3,2083.9 1274.7,2088.4 1275.2,2085.2 1275.6,2084 1276,2087.3 1276.4,2081.2 1276.8,2089.1 1277.3,2082.8 1277.7,2085 1278.1,2089.3 1278.5,2086.8 1278.9,2087.8 1279.4,2091.6 1279.8,2092.1 1280.2,2094 1280.6,2085.2 1281,2090.2 1281.5,2081.6 1281.9,2089.8 1282.3,2091.6 1282.7,2084.8 1283.1,2088.8 1283.6,2090.1 1284,2086.8 1284.4,2085.2 1284.8,2092.4 1285.2,2083 1285.7,2088 1286.1,2090.7 1286.5,2088.3 1286.9,2092.8 1287.3,2092.5 1287.8,2089.2 1288.2,2093.6 1288.6,2090.2 1289,2083.6 1289.4,2086.6 1289.9,2088.6 1290.3,2088.4 1290.7,2082.1 1291.1,2095.5 1291.5,2082.6 1292,2084.1 1292.4,2089.4 1292.8,2088.6 1293.2,2093.1 1293.6,2088.8 1294.1,2089.3 1294.5,2090.5 1294.9,2085.6 1295.3,2083.8 1295.7,2086.6 1296.2,2091.6 1296.6,2087.3 1297,2092.4 1297.4,2086.4 1297.8,2090.8 1298.3,2088.4 1298.7,2091.2 1299.1,2088.4 1299.5,2089.1 1299.9,2086.9 1300.4,2092.6 1300.8,2088.4 1301.2,2090.2 1301.6,2090.7 1302,2085.6 1302.5,2085.8 1302.9,2088.5 1303.3,2092.9 1303.7,2085.1 1304.1,2085.3 1304.6,2085.4 1305,2087.4 1305.4,2085.2 1305.8,2086 1306.2,2090.5 1306.7,2085.1 1307.1,2088.8 1307.5,2084.9 1307.9,2088.2 1308.3,2090.6 1308.8,2082.2 1309.2,2089.1 1309.6,2089.6 1310,2088.7 1310.4,2089.8 1310.9,2090.3 1311.3,2084.6 1311.7,2088.5 1312.1,2091.1 1312.5,2093.3 1313,2084.4 1313.4,2087 1313.8,2084.4 1314.2,2088.9 1314.6,2085.4 1315.1,2085.7 1315.5,2091.5 1315.9,2096.5 1316.3,2082.1 1316.7,2094.4 1317.2,2085.9 1317.6,2091.2 1318,2090.1 1318.4,2093 1318.8,2088.2 1319.3,2086.1 1319.7,2088.7 1320.1,2091.5 1320.5,2085.8 1320.9,2090.1 1321.4,2088.7 1321.8,2089.3 1322.2,2088.7 1322.6,2090.6 1323,2091.3 1323.5,2087.6 1323.9,2087.3 1324.3,2081.2 1324.7,2085.4 1325.1,2083.1 1325.6,2090.4 1326,2084.4 1326.4,2085.6 1326.8,2089.5 1327.2,2090.9 1327.7,2091.5 1328.1,2084.4 1328.5,2087.8 1328.9,2090.2 1329.3,2083.4 1329.8,2085 1330.2,2081.2 1330.6,2082.4 1331,2086 1331.4,2082.8 1331.9,2079.9 1332.3,2077.6 1332.7,2082.5 1333.1,2077.5 1333.5,2068.1 1334,2076.2 1334.4,2063.9 1334.8,2060.7 1335.2,2055.2 1335.6,2050.2 1336.1,2049.5 1336.5,2037.9 1336.9,2038.4 1337.3,2033.4 1337.7,2037.4 1338.2,2031.2 1338.6,2030.9 1339,2032.2 1339.4,2034.7 1339.8,2036.4 1340.3,2031.9 1340.7,2046.1 1341.1,2048.3 1341.5,2056.5 1341.9,2059.8 1342.4,2061.3 1342.8,2064.1 1343.2,2067.2 1343.6,2074.7 1344,2076.1 1344.5,2075.8 1344.9,2079.4 1345.3,2083.4 1345.7,2081.3 1346.1,2084.2 1346.6,2083.4 1347,2077.5 1347.4,2087 1347.8,2087.4 1348.2,2090.3 1348.7,2092.2 1349.1,2085.8 1349.5,2090.4 1349.9,2089.5 1350.3,2089.1 1350.8,2091.7 1351.2,2092 1351.6,2085.1 1352,2094.3 1352.4,2088.9 1352.9,2087.4 1353.3,2087.4 1353.7,2089.1 1354.1,2086.2 1354.5,2093.6 1355,2091.5 1355.4,2087.1 1355.8,2092.9 1356.2,2091.1 1356.6,2090.6 1357.1,2093.6 1357.5,2090.1 1357.9,2089.6 1358.3,2092.2 1358.7,2084.5 1359.2,2086.7 1359.6,2092.4 1360,2094.3 1360.4,2085.2 1360.8,2090.9 1361.3,2088.7 1361.7,2090 1362.1,2092.9 1362.5,2095.9 1362.9,2096.9 1363.4,2094.2 1363.8,2093.2 1364.2,2091.6 1364.6,2084.9 1365,2092.5 1365.5,2087.2 1365.9,2087.5 1366.3,2091.6 1366.7,2086 1367.1,2097.2 1367.6,2093.3 1368,2092.6 1368.4,2093 1368.8,2092.2 1369.2,2091.6 1369.7,2093.8 1370.1,2089.3 1370.5,2092.4 1370.9,2092.1 1371.3,2094.1 1371.8,2087.9 1372.2,2092.4 1372.6,2091.2 1373,2093.7 1373.4,2093.4 1373.9,2092.3 1374.3,2093.2 1374.7,2093.2 1375.1,2096.3 1375.5,2092.8 1376,2093.5 1376.4,2088.7 1376.8,2091.1 1377.2,2094.4 1377.6,2095.3 1378.1,2088.6 1378.5,2091.8 1378.9,2091 1379.3,2092.1 1379.7,2090.3 1380.2,2090.6 1380.6,2091.8 1381,2092.4 1381.4,2095.4 1381.8,2089.2 1382.3,2088.9 1382.7,2094.7 1383.1,2093.7 1383.5,2091.5 1383.9,2088.3 1384.4,2095.6 1384.8,2088.6 1385.2,2095.9 1385.6,2093 1386,2091.7 1386.5,2091.6 1386.9,2094.9 1387.3,2092.3 1387.7,2086.5 1388.1,2090 1388.6,2085.2 1389,2093.6 1389.4,2095.4 1389.8,2095.7 1390.2,2087.9 1390.7,2099.4 1391.1,2098.4 1391.5,2092 1391.9,2085.8 1392.3,2089.5 1392.8,2095.9 1393.2,2099.3 1393.6,2090.7 1394,2086.4 1394.4,2089.3 1394.9,2098.8 1395.3,2092.5 1395.7,2087.9 1396.1,2085.6 1396.5,2094.7 1397,2095.2 1397.4,2091 1397.8,2091.9 1398.2,2092.9 1398.6,2091.5 1399.1,2090.8 1399.5,2090.7 1399.9,2090.7 1400.3,2096.7 1400.7,2094 1401.2,2096.1 1401.6,2098.8 1402,2085.2 1402.4,2092.5 1402.8,2095.9 1403.3,2092 1403.7,2090.8 1404.1,2094.1 1404.5,2091 1404.9,2090 1405.4,2091.8 1405.8,2093 1406.2,2092.9 1406.6,2095.8 1407,2092.9 1407.5,2091.3 1407.9,2103 1408.3,2092.1 1408.7,2092 1409.1,2092.4 1409.6,2090.6 1410,2087.7 1410.4,2093.6 1410.8,2097.8 1411.2,2087 1411.7,2090.5 1412.1,2094.4 1412.5,2090.7 1412.9,2094.8 1413.3,2092.9 1413.8,2089.4 1414.2,2092.3 1414.6,2091.3 1415,2094.9 1415.4,2084.7 1415.9,2094.4 1416.3,2097.5 1416.7,2093.6 1417.1,2093.9 1417.5,2091.4 1418,2094.3 1418.4,2092.7 1418.8,2088.9 1419.2,2089.2 1419.6,2085.5 1420.1,2094.6 1420.5,2093.8 1420.9,2096.8 1421.3,2094.1 1421.7,2095.5 1422.2,2088.8 1422.6,2087.1 1423,2091.4 1423.4,2092.2 1423.8,2094.5 1424.3,2092.8 1424.7,2092.7 1425.1,2093.4 1425.5,2094.2 1425.9,2094 1426.4,2094.4 1426.8,2091.7 1427.2,2093.1 1427.6,2088.5 1428,2089.7 1428.5,2092.5 1428.9,2094.8 1429.3,2090.9 1429.7,2088.8 1430.1,2096.6 1430.6,2090.7 1431,2087.8 1431.4,2090.2 1431.8,2089.5 1432.2,2085.5 1432.7,2092.2 1433.1,2099.1 1433.5,2091.1 1433.9,2090.8 1434.3,2097.3 1434.8,2093.8 1435.2,2093.2 1435.6,2098.1 1436,2089.7 1436.4,2093.4 1436.9,2095.3 1437.3,2094.3 1437.7,2089.7 1438.1,2090.5 1438.5,2099.5 1439,2093.3 1439.4,2092.8 1439.8,2097.2 1440.2,2087.7 1440.6,2093.5 1441.1,2087.9 1441.5,2098.3 1441.9,2090.4 1442.3,2094.1 1442.7,2090.7 1443.2,2094.2 1443.6,2094.8 1444,2093.8 1444.4,2092.7 1444.8,2094.6 1445.3,2093 1445.7,2092.1 1446.1,2095.9 1446.5,2096.6 1446.9,2089.4 1447.4,2090.5 1447.8,2091.3 1448.2,2094.8 1448.6,2089.2 1449,2099 1449.5,2094 1449.9,2094.4 1450.3,2096.8 1450.7,2091.5 1451.1,2095.2 1451.6,2095.3 1452,2098.2 1452.4,2090.5 1452.8,2098.5 1453.2,2096 1453.7,2094.8 1454.1,2097.5 1454.5,2093.2 1454.9,2093.4 1455.3,2096.8 1455.8,2092.9 1456.2,2097.6 1456.6,2098.6 1457,2094.8 1457.4,2094.7 1457.9,2092 1458.3,2091.1 1458.7,2098.9 1459.1,2090.7 1459.5,2094.4 1460,2095.1 1460.4,2091.2 1460.8,2091.9 1461.2,2091.9 1461.6,2101.2 1462.1,2095.4 1462.5,2098.8 1462.9,2100.9 1463.3,2097.6 1463.7,2098.6 1464.2,2092.8 1464.6,2092 1465,2099.1 1465.4,2099.1 1465.8,2090.9 1466.3,2098.1 1466.7,2095.3 1467.1,2097 1467.5,2097.5 1467.9,2100.6 1468.4,2092.3 1468.8,2094.4 1469.2,2098.5 1469.6,2093.5 1470,2096.2 1470.5,2094.1 1470.9,2088.8 1471.3,2092.6 1471.7,2097.3 1472.1,2092.6 1472.6,2089.3 1473,2092.7 1473.4,2094.7 1473.8,2096 1474.2,2095.5 1474.7,2096.1 1475.1,2090.9 1475.5,2092.4 1475.9,2091.8 1476.3,2092.9 1476.8,2095.7 1477.2,2098.7 1477.6,2093.5 1478,2097.7 1478.4,2097.8 1478.9,2090.4 1479.3,2091.4 1479.7,2094.5 1480.1,2089.4 1480.5,2100 1481,2087.5 1481.4,2089.5 1481.8,2095.9 1482.2,2090.7 1482.6,2095.2 1483.1,2089.3 1483.5,2095.6 1483.9,2089.8 1484.3,2093.5 1484.7,2093.8 1485.2,2084.8 1485.6,2086 1486,2082.2 1486.4,2083.3 1486.8,2088.8 1487.3,2084.5 1487.7,2086.1 1488.1,2086.7 1488.5,2084.1 1488.9,2081.8 1489.4,2076.8 1489.8,2075.9 1490.2,2077.3 1490.6,2078.6 1491,2079 1491.5,2076.5 1491.9,2074.9 1492.3,2076.3 1492.7,2083 1493.1,2079.6 1493.6,2086.5 1494,2078.9 1494.4,2085.5 1494.8,2084.7 1495.2,2087.8 1495.7,2084 1496.1,2088.8 1496.5,2088.5 1496.9,2088.8 1497.3,2086.6 1497.8,2086.6 1498.2,2090.9 1498.6,2094.3 1499,2093.9 1499.4,2094.2 1499.9,2094.9 1500.3,2089.6 1500.7,2097.8 1501.1,2094.8 1501.5,2092.3 1502,2093.1 1502.4,2098.3 1502.8,2095.8 1503.2,2089.8 1503.6,2102.2 1504.1,2090.5 1504.5,2101.1 1504.9,2098.3 1505.3,2092.3 1505.7,2099.8 1506.2,2099.9 1506.6,2099.2 1507,2097.9 1507.4,2096.9 1507.8,2096.6 1508.3,2094.2 1508.7,2096.9 1509.1,2100.2 1509.5,2095.7 1509.9,2102.5 1510.4,2091 1510.8,2096.2 1511.2,2091.3 1511.6,2090.4 1512,2097 1512.5,2095.2 1512.9,2094.4 1513.3,2092.8 1513.7,2095.5 1514.1,2091 1514.6,2095.7 1515,2094.6 1515.4,2092.2 1515.8,2097.7 1516.2,2090.2 1516.7,2097.7 1517.1,2097.2 1517.5,2098 1517.9,2096.7 1518.3,2098.9 1518.8,2095.4 1519.2,2092.7 1519.6,2097.4 1520,2093.6 1520.4,2094.9 1520.9,2096.4 1521.3,2092.9 1521.7,2099.1 1522.1,2090.6 1522.5,2099.6 1523,2095.2 1523.4,2100.7 1523.8,2098.4 1524.2,2096.6 1524.6,2094.9 1525.1,2093.8 1525.5,2088.3 1525.9,2090.3 1526.3,2088.2 1526.7,2088 1527.2,2088.8 1527.6,2085.5 1528,2087.2 1528.4,2084.6 1528.8,2082.5 1529.3,2083.8 1529.7,2082.6 1530.1,2075.2 1530.5,2077.3 1530.9,2086.8 1531.4,2076.3 1531.8,2077.2 1532.2,2072.5 1532.6,2078.8 1533,2081.1 1533.5,2078.8 1533.9,2077.5 1534.3,2079.3 1534.7,2074.4 1535.1,2084.1 1535.6,2082.7 1536,2086.5 1536.4,2087.9 1536.8,2088.7 1537.2,2096.2 1537.7,2093.5 1538.1,2089.4 1538.5,2094.4 1538.9,2095.3 1539.3,2094.1 1539.8,2099.2 1540.2,2093.9 1540.6,2089.8 1541,2092.5 1541.4,2097.6 1541.9,2093.3 1542.3,2097.3 1542.7,2092.1 1543.1,2098.4 1543.5,2096.5 1544,2094.5 1544.4,2095.7 1544.8,2096.8 1545.2,2100.8 1545.6,2098.6 1546.1,2097.2 1546.5,2098.5 1546.9,2101 1547.3,2099.6 1547.7,2103.9 1548.2,2095.9 1548.6,2101 1549,2098.7 1549.4,2096.3 1549.8,2100.4 1550.3,2101.2 1550.7,2101.7 1551.1,2100.1 1551.5,2095.7 1551.9,2099.2 1552.4,2099.9 1552.8,2104.2 1553.2,2099.1 1553.6,2099.3 1554,2103.9 1554.5,2099.1 1554.9,2097.4 1555.3,2099.8 1555.7,2101.5 1556.1,2099.5 1556.6,2093.5 1557,2097.7 1557.4,2102.3 1557.8,2096.7 1558.2,2101.9 1558.7,2099.7 1559.1,2096.5 1559.5,2101.8 1559.9,2092.2 1560.3,2092.4 1560.8,2094.2 1561.2,2101 1561.6,2098.4 1562,2101.4 1562.4,2099.1 1562.9,2099.8 1563.3,2097.7 1563.7,2098.1 1564.1,2102.7 1564.5,2102 1565,2095.1 1565.4,2101.4 1565.8,2106.1 1566.2,2102 1566.6,2096.5 1567.1,2102 1567.5,2100.3 1567.9,2098.5 1568.3,2102.8 1568.7,2103.6 1569.2,2097.9 1569.6,2100.1 1570,2098.4 1570.4,2099.7 1570.8,2104.9 1571.3,2098.3 1571.7,2101.6 1572.1,2100.6 1572.5,2100 1572.9,2096.1 1573.4,2101.8 1573.8,2096.2 1574.2,2102.2 1574.6,2099.5 1575,2100.3 1575.5,2098.3 1575.9,2097.1 1576.3,2096.5 1576.7,2099.9 1577.1,2099.6 1577.6,2100.8 1578,2099 1578.4,2102.4 1578.8,2100.4 1579.2,2100.3 1579.7,2099.1 1580.1,2099.9 1580.5,2102.1 1580.9,2097.7 1581.3,2096 1581.8,2101.2 1582.2,2101.3 1582.6,2100.1 1583,2100.8 1583.4,2095.7 1583.9,2096.8 1584.3,2100 1584.7,2099.9 1585.1,2095.9 1585.5,2101.5 1586,2093.8 1586.4,2104 1586.8,2096.5 1587.2,2098.1 1587.6,2096.6 1588.1,2095.6 1588.5,2098.9 1588.9,2093.8 1589.3,2098.8 1589.7,2100.5 1590.2,2098.9 1590.6,2099.8 1591,2095.2 1591.4,2093.9 1591.8,2095.5 1592.3,2103.3 1592.7,2100.8 1593.1,2094 1593.5,2105.3 1593.9,2101.8 1594.4,2103.3 1594.8,2103 1595.2,2103.9 1595.6,2094.2 1596,2099.9 1596.5,2097.1 1596.9,2105.8 1597.3,2101.7 1597.7,2099.4 1598.1,2098.6 1598.6,2092.5 1599,2099.6 1599.4,2096.5 1599.8,2103.6 1600.2,2101.5 1600.7,2098.8 1601.1,2097.7 1601.5,2102.4 1601.9,2097 1602.3,2102.2 1602.8,2099.2 1603.2,2097.4 1603.6,2099.4 1604,2103.6 1604.4,2092.5 1604.9,2099.9 1605.3,2099.5 1605.7,2095.9 1606.1,2101.1 1606.5,2098 1607,2096.9 1607.4,2091.2 1607.8,2095.5 1608.2,2088.5 1608.6,2093.2 1609.1,2097.4 1609.5,2086.1 1609.9,2092.5 1610.3,2082.3 1610.7,2084.2 1611.2,2084.3 1611.6,2075.2 1612,2078.8 1612.4,2073 1612.8,2071.3 1613.3,2073.8 1613.7,2068.7 1614.1,2068.3 1614.5,2065.3 1614.9,2065.1 1615.4,2067.9 1615.8,2062.7 1616.2,2061.3 1616.6,2062.7 1617,2065.8 1617.5,2066.2 1617.9,2059.3 1618.3,2067.8 1618.7,2071.4 1619.1,2080.5 1619.6,2072.1 1620,2075.1 1620.4,2074.1 1620.8,2079.4 1621.2,2075.4 1621.7,2079.9 1622.1,2083.5 1622.5,2079.9 1622.9,2084.7 1623.3,2083.9 1623.8,2090.6 1624.2,2091.8 1624.6,2093.5 1625,2086.8 1625.4,2088.1 1625.9,2093.1 1626.3,2082.6 1626.7,2089.5 1627.1,2080.1 1627.5,2085.7 1628,2076.2 1628.4,2079.1 1628.8,2078.8 1629.2,2077.9 1629.6,2071.7 1630.1,2077.9 1630.5,2076.2 1630.9,2081.9 1631.3,2079 1631.7,2070.3 1632.2,2078.3 1632.6,2082 1633,2079.1 1633.4,2078 1633.8,2076.8 1634.3,2081 1634.7,2080.2 1635.1,2083.3 1635.5,2084.1 1635.9,2090.2 1636.4,2083.5 1636.8,2088.5 1637.2,2084.4 1637.6,2089.3 1638,2092 1638.5,2087 1638.9,2085 1639.3,2088.9 1639.7,2088.6 1640.1,2086.1 1640.6,2089.2 1641,2087.5 1641.4,2088.9 1641.8,2081.5 1642.2,2087.8 1642.7,2088.8 1643.1,2081.3 1643.5,2089.8 1643.9,2083.5 1644.3,2078.1 1644.8,2078.6 1645.2,2079.5 1645.6,2079.9 1646,2081.4 1646.4,2083.6 1646.9,2082.5 1647.3,2082.9 1647.7,2081.6 1648.1,2078.9 1648.5,2084.3 1649,2083.6 1649.4,2091.5 1649.8,2081.7 1650.2,2094.3 1650.6,2082.2 1651.1,2091.8 1651.5,2093.4 1651.9,2090.5 1652.3,2091.7 1652.7,2098.4 1653.2,2092.7 1653.6,2096.5 1654,2097.4 1654.4,2099.9 1654.8,2094 1655.3,2102.8 1655.7,2098.3 1656.1,2102.5 1656.5,2094.8 1656.9,2103.2 1657.4,2099.5 1657.8,2102.5 1658.2,2098 1658.6,2103.1 1659,2100.5 1659.5,2094.3 1659.9,2108.8 1660.3,2098.5 1660.7,2102.3 1661.1,2100.2 1661.6,2099.4 1662,2099.7 1662.4,2104 1662.8,2104.2 1663.2,2104.2 1663.7,2095.9 1664.1,2103.9 1664.5,2096.4 1664.9,2109 1665.3,2102.7 1665.8,2105.2 1666.2,2101.5 1666.6,2102 1667,2099.3 1667.4,2108.2 1667.9,2100.6 1668.3,2105.3 1668.7,2099.1 1669.1,2101.4 1669.5,2100.6 1670,2101.6 1670.4,2100.3 1670.8,2104.1 1671.2,2104.2 1671.6,2096.8 1672.1,2100.7 1672.5,2097.8 1672.9,2105.7 1673.3,2098.1 1673.7,2103.8 1674.2,2102.8 1674.6,2102.2 1675,2096 1675.4,2108 1675.8,2102 1676.3,2104.8 1676.7,2106 1677.1,2099.3 1677.5,2099.4 1677.9,2108.3 1678.4,2109.1 1678.8,2100 1679.2,2102.5 1679.6,2105.9 1680,2102.4 1680.5,2107.2 1680.9,2104.9 1681.3,2102.7 1681.7,2105.2 1682.1,2101.5 1682.6,2107.2 1683,2100.9 1683.4,2107.5 1683.8,2111.4 1684.2,2097.4 1684.7,2108.8" stroke="none" marker-start="url(#rs)" marker-mid="url(#rs)" marker-end="url(#rs)"/>
<circle cx="342.3" cy="1288" r="3.0" fill="#f00"/>
<circle cx="342.9" cy="1293" r="3.0" fill="#f00"/>
<circle cx="478.3" cy="1370.5" r="3.0" fill="#f00"/>
<circle cx="478.6" cy="1394" r="3.0" fill="#f00"/>
<circle cx="246.3" cy="1790.7" r="3.0" fill="#f00"/>
<circle cx="246.5" cy="1807.4" r="3.0" fill="#f00"/>
<circle cx="246.5" cy="1815" r="3.0" fill="#f00"/>
<circle cx="707.4" cy="1961" r="3.0" fill="#f00"/>
<circle cx="707.6" cy="1969" r="3.0" fill="#f00"/>
<circle cx="707.8" cy="1977" r="3.0" fill="#f00"/>
<circle cx="707.5" cy="1985" r="3.0" fill="#f00"/>
<circle cx="707.6" cy="1993" r="3.0" fill="#f00"/>
<circle cx="707.9" cy="2000" r="3.0" fill="#f00"/>
<circle cx="939.8" cy="1965" r="3.0" fill="#f00"/>
<circle cx="940.2" cy="1972" r="3.0" fill="#f00"/>
<circle cx="939.9" cy="1979" r="3.0" fill="#f00"/>
<circle cx="940.3" cy="1986" r="3.0" fill="#f00"/>
<circle cx="940" cy="1993" r="3.0" fill="#f00"/>
<circle cx="940.4" cy="2000" r="3.0" fill="#f00"/>
<circle cx="1338.3" cy="2011" r="3.0" fill="#f00"/>
<circle cx="1338.8" cy="2017" r="3.0" fill="#f00"/>
<circle cx="1338.5" cy="2023" r="3.0" fill="#f00"/>
<circle cx="1339" cy="2029" r="3.0" fill="#f00"/>
<circle cx="373.9" cy="2033" r="3.0" fill="#f00"/>
<circle cx="373.9" cy="2039" r="3.0" fill="#f00"/>
<circle cx="373.9" cy="2045" r="3.0" fill="#f00"/>
<path d="M156.7 2064L170.7 2066.6L182.9 2069.6L187.1 2069.9L190.9 2069.5L196.5 2067.8L235.1 2052.5L239.3 2049.8L241.7 2046.1L242.9 2041.5L243.5 2036.1L244.3 2015.2L246.5 1823.4L248.3 2004.3L249.1 2032.3L249.7 2039.3L250.7 2043.8L252.1 2046.6L254.1 2048.1L257.3 2049L265.5 2049.8L270.9 2051.5L283.5 2057.4L296.5 2064.7L308.9 2071L325.3 2078.2L330.1 2079.3L333.3 2078.7L335.5 2076.4L337.1 2072.1L338.5 2063L339.5 2046.7L340.5 1980.7L342.5 1340L344.3 1909.5L345.3 2034.5L346.3 2061.9L347.3 2072.4L348.5 2079.2L350.1 2084.2L352.1 2087.8L355.1 2091L359.1 2093.8L363.3 2095.7L366.7 2096.6L368.7 2096.3L369.9 2094.6L371.3 2085.7L373.3 2053.6L373.9 2049.5L377.1 2092.8L378.5 2098.4L379.5 2099.7L381.3 2100.9L385.1 2102.4L391.5 2104L423.5 2109.9L444.5 2113L459.1 2114.2L465.1 2113.6L468.9 2111.6L471.3 2108L473.1 2101.4L474.5 2089.1L475.3 2071.4L476.3 1990.5L478.3 1402.1L480.1 1911.8L481.1 2052.9L481.9 2083.1L483.5 2101.5L484.7 2107.3L486.1 2111.1L488.1 2114.1L490.9 2116.3L497.3 2118.7L509.1 2120.8L527.3 2123.1L542.9 2124L586.5 2124.3L601.7 2123L625.1 2119.9L630.7 2118.5L631.9 2117.6L632.7 2116.2L633.9 2110.9L636.3 2092.9L639.3 2113.7L640.5 2116.6L642.3 2117.7L646.9 2117.9L656.1 2117.3L677.9 2114.5L687.1 2111.8L696.9 2107.3L700.5 2104.7L702.5 2101.8L703.7 2098L704.5 2091.6L705.5 2070.9L707.7 1990.4L710.5 2071.3L712.9 2090.2L714.3 2095.8L715.9 2099.2L717.3 2100.3L719.3 2100.6L726.9 2099.4L749.3 2091.8L778.3 2083.1L780.9 2081.3L782.5 2079L783.5 2075.6L784.3 2069.1L785.5 2043.3L787.1 1981.6L787.7 1974.4L790.7 2065L792.1 2075.2L793.3 2077.1L794.9 2077.2L796.3 2075.6L797.1 2073L798.3 2060.8L801.3 1960.2L803.7 2047L804.9 2069.2L805.7 2074.4L807.1 2077.8L809.3 2079.7L812.7 2080.8L821.7 2081.2L837.3 2080.3L844.1 2079.3L847.3 2077.7L848.7 2074.9L849.7 2069.6L852.1 2040L852.9 2035.9L856.1 2070.6L857.3 2075.6L859.1 2077.6L861.3 2078.3L864.7 2078.4L867.7 2078.1L869.5 2077.4L871.5 2074.9L874.5 2067.1L875.5 2065.8L876.7 2067L880.3 2075.6L881.7 2077L883.7 2077.8L893.9 2077.9L920.9 2076.8L928.5 2076L932.7 2074.6L934.1 2073.4L935.1 2071.6L936.5 2064.1L939.3 2011.7L940.1 2005.1L942.7 2053.9L943.9 2066.9L944.7 2070.6L945.9 2073L947.9 2074.4L951.3 2075.2L958.5 2075.6L1041.1 2075.8L1049.1 2075.5L1053.5 2074.6L1054.9 2073.7L1055.9 2072.2L1057.3 2067.1L1060.5 2033L1061.3 2029L1062.1 2033.1L1064.3 2059.6L1065.7 2069.4L1066.5 2072.1L1067.7 2074.1L1069.3 2075.3L1071.9 2076.1L1080.9 2077.3L1113.7 2079.3L1153.1 2082.6L1173.1 2083.3L1182.5 2082.7L1184.3 2082L1185.7 2080.9L1187.7 2076.5L1189.3 2068.6L1191.9 2050.4L1192.9 2047.7L1194.1 2051.6L1197.9 2075.9L1199.7 2080.5L1202.3 2082.5L1204.7 2082.9L1207.1 2082.6L1208.7 2081.7L1209.9 2080.1L1211.7 2074.6L1214.5 2059.1L1215.7 2055.6L1216.3 2056.1L1216.9 2058.3L1220.5 2077.4L1221.7 2080.8L1223.1 2082.8L1226.1 2084.3L1232.5 2085.1L1240.3 2085.1L1244.5 2084L1246.5 2081.7L1247.9 2077.8L1251.5 2056.3L1252.7 2052.8L1253.9 2056.5L1257.7 2079L1259.3 2083L1261.5 2085.1L1264.5 2086.1L1269.5 2086.8L1295.3 2088.8L1311.9 2089.6L1323.3 2089.4L1327.1 2088.7L1329.5 2087.6L1331.1 2085.5L1332.3 2082.3L1334.3 2071L1337.5 2040.6L1338.5 2036.9L1339.5 2040.7L1342.7 2071.3L1344.7 2082.8L1345.9 2086.1L1347.5 2088.3L1349.7 2089.6L1353.3 2090.6L1365.5 2091.8L1392.7 2093L1465.9 2094.8L1479.1 2094.7L1482.5 2093.8L1484.7 2091.8L1486.7 2087.7L1489.9 2078.4L1491.1 2076.9L1492.5 2078.5L1495.7 2088.1L1497.5 2092.1L1499.7 2094.5L1502.9 2095.8L1516.5 2096.9L1521.1 2096.8L1523.7 2096.2L1525.3 2095.1L1526.7 2093.2L1530.9 2083.3L1532.3 2081.8L1533.7 2083.5L1538.5 2094.8L1540.5 2096.9L1542.9 2098L1552.1 2099.2L1570.9 2100.1L1587.7 2100.4L1598.5 2099.9L1602.3 2099.2L1604.7 2098.3L1606.5 2096.7L1608.1 2094L1610.7 2085L1614.5 2064.4L1615.3 2061.7L1616.1 2060.9L1616.9 2062L1617.7 2064.9L1621.5 2083.6L1622.7 2087.1L1623.9 2088.7L1624.7 2088.8L1625.7 2088.1L1629.5 2080.9L1631.1 2079.7L1632.7 2081.5L1636.5 2089.7L1638.3 2091.4L1639.3 2091.4L1640.5 2090.5L1644.5 2084.9L1645.3 2084.6L1646.1 2084.9L1647.5 2086.8L1652.3 2096.5L1654.3 2098.9L1656.5 2100.3L1663.3 2101.7L1684.9 2103.7" stroke="#111" stroke-width="3.4"/>
<path d="M156.7 2064L170.7 2066.6L182.9 2069.6L187.1 2069.9L190.9 2069.5L196.5 2067.8L220.5 2058L235.1 2052.5L239.3 2049.8L241.7 2046.1L242.9 2041.5L243.5 2036.1L244.3 2015.2L246.1 1834.4L246.5 1823.4L248.3 2004.3L249.1 2032.3L249.7 2039.3L250.7 2043.9L252.1 2046.6L254.1 2048.1L257.3 2049L265.5 2049.8L270.9 2051.5L283.5 2057.4L296.5 2064.7L308.9 2071L318.5 2075.5L325.3 2078.2L330.1 2079.3L333.3 2078.7L335.5 2076.5L337.1 2072.1L338.5 2063.1L339.5 2046.8L340.5 1980.7L342.5 1340L342.9 1379.4L344.3 1909.6L344.9 2005.9L345.5 2043.3L346.7 2067.1L347.7 2075.3L348.9 2080.9L350.5 2085.2L352.7 2088.7L355.9 2091.9L360.1 2094.7L365.1 2097.1L370.7 2099.2L386.7 2103.2L430.9 2111.1L444.3 2113L455.3 2114.1L463.3 2114L465.9 2113.4L468.1 2112.3L469.7 2110.8L471.1 2108.5L473.1 2101.5L474.5 2089.1L475.3 2071.4L476.3 1990.5L478.3 1402.1L478.7 1433.8L480.1 1911.8L481.1 2052.9L481.9 2083.1L483.5 2101.5L484.7 2107.3L486.1 2111.1L488.1 2114.1L490.9 2116.3L497.3 2118.7L509.1 2120.8L527.3 2123.1L542.9 2124L571.7 2124.5L586.5 2124.3L601.7 2123L625.1 2119.9L630.7 2118.6L631.9 2117.6L632.7 2116.2L633.9 2110.9L635.7 2095.2L636.3 2092.9L636.9 2095.1L639.3 2113.7L640.5 2116.6L642.3 2117.7L646.9 2117.9L656.1 2117.3L677.9 2114.6L686.7 2112.1L696.9 2107.7L700.3 2105.6L702.5 2103.1L703.7 2100L704.5 2094.5L705.5 2075.9L707.1 2011.8L707.7 2003.3L710.1 2084.2L711.1 2095.9L711.7 2098.4L712.7 2100.2L714.3 2101.3L716.7 2101.6L724.9 2100.1L749.1 2092L778.3 2083.1L780.9 2081.3L782.5 2079L783.5 2075.6L784.3 2069.1L785.5 2043.3L787.1 1981.6L787.7 1974.4L789.7 2042.4L790.7 2065L791.3 2071.3L792.1 2075.2L793.3 2077.1L794.9 2077.3L796.3 2075.6L797.1 2073L798.3 2060.8L799.3 2033.3L800.7 1971.8L801.3 1960.2L801.9 1971.8L803.7 2047L804.9 2069.2L805.7 2074.5L807.1 2077.8L809.3 2079.8L812.7 2080.8L821.9 2081.2L837.9 2080.3L844.3 2079.3L846.3 2078.5L847.5 2077.5L848.7 2075L849.7 2069.7L852.7 2036L853.1 2036.7L853.5 2040L856.1 2070.8L857.3 2075.7L858.1 2077L859.3 2077.9L862.9 2078.7L869.3 2078.9L913.7 2077.2L926.9 2076.3L930.3 2075.6L932.7 2074.6L934.1 2073.4L935.1 2071.6L936.5 2064.1L937.7 2047L939.3 2011.7L939.7 2006.3L940.1 2005.1L940.7 2011.7L942.7 2053.9L943.9 2066.9L944.7 2070.6L945.9 2073L947.9 2074.4L951.3 2075.2L958.5 2075.6L984.7 2075.4L1041.1 2075.8L1049.1 2075.5L1053.5 2074.6L1054.9 2073.7L1055.9 2072.2L1057.3 2067.1L1058.5 2057.3L1060.5 2033L1061.3 2029L1062.1 2033.1L1064.3 2059.6L1065.7 2069.4L1066.5 2072.1L1067.7 2074.1L1069.3 2075.3L1071.9 2076.1L1080.9 2077.3L1113.7 2079.3L1153.1 2082.6L1173.1 2083.3L1182.5 2082.7L1184.3 2082L1185.7 2080.9L1187.7 2076.5L1189.3 2068.6L1191.9 2050.4L1192.9 2047.7L1193.5 2048.7L1194.1 2051.6L1196.5 2068.7L1197.9 2075.9L1199.7 2080.5L1200.9 2081.8L1202.3 2082.5L1204.7 2082.9L1207.1 2082.6L1208.7 2081.7L1209.9 2080.1L1211.7 2074.6L1214.5 2059.1L1215.7 2055.6L1216.3 2056.1L1216.9 2058.3L1220.5 2077.4L1221.7 2080.8L1223.1 2082.8L1226.1 2084.3L1232.5 2085.1L1240.3 2085.1L1244.5 2084L1246.5 2081.7L1247.9 2077.8L1251.5 2056.3L1252.1 2053.7L1252.7 2052.8L1253.3 2053.8L1253.9 2056.5L1256.3 2072.3L1257.7 2079L1259.3 2083L1261.5 2085.1L1264.5 2086.1L1269.5 2086.8L1295.3 2088.8L1311.9 2089.6L1323.3 2089.4L1327.1 2088.7L1329.5 2087.6L1331.1 2085.5L1332.3 2082.3L1334.3 2071L1337.5 2040.6L1338.5 2036.9L1339.5 2040.7L1342.7 2071.3L1344.7 2082.8L1345.9 2086.1L1347.5 2088.3L1349.7 2089.6L1353.3 2090.6L1365.5 2091.8L1392.7 2093L1465.9 2094.8L1479.1 2094.7L1482.5 2093.8L1484.7 2091.8L1486.7 2087.7L1489.9 2078.4L1491.1 2076.9L1491.7 2077.1L1492.5 2078.5L1495.7 2088.1L1497.5 2092.1L1499.7 2094.5L1502.9 2095.8L1508.7 2096.5L1516.5 2096.9L1521.1 2096.8L1523.7 2096.2L1525.3 2095.1L1526.7 2093.2L1530.9 2083.3L1532.3 2081.8L1533.7 2083.5L1536.7 2091.3L1538.5 2094.8L1540.5 2096.9L1542.9 2098L1552.1 2099.2L1570.9 2100.1L1587.7 2100.4L1598.5 2099.9L1602.3 2099.2L1604.7 2098.3L1606.5 2096.7L1608.1 2094L1610.7 2085L1614.5 2064.4L1615.3 2061.7L1616.1 2060.9L1616.9 2062L1617.7 2064.9L1621.5 2083.6L1622.7 2087.1L1623.9 2088.7L1624.7 2088.8L1625.7 2088.1L1629.5 2080.9L1630.3 2079.9L1631.1 2079.7L1632.7 2081.5L1636.5 2089.7L1638.3 2091.4L1639.3 2091.4L1640.5 2090.5L1644.5 2084.9L1645.3 2084.6L1646.1 2084.9L1647.5 2086.8L1652.3 2096.5L1654.3 2098.9L1656.5 2100.3L1663.3 2101.7L1684.9 2103.7" stroke="#58b558" stroke-width="5.2" stroke-linejoin="miter"/>
<path d="M156.7 2064L170.7 2066.6L182.9 2069.6L187.1 2069.9L190.9 2069.5L196.5 2067.8L220.5 2058L235.1 2052.5L239.3 2049.8L241.7 2046.1L242.9 2041.5L243.5 2036.1L244.3 2015.2L246.1 1834.4L246.5 1823.4L248.3 2004.3L249.1 2032.3L249.7 2039.3L250.7 2043.9L252.1 2046.6L254.1 2048.1L257.3 2049L265.5 2049.8L270.9 2051.5L283.5 2057.4L296.5 2064.7L308.9 2071L318.5 2075.5L325.3 2078.2L330.1 2079.3L333.3 2078.7L335.5 2076.5L337.1 2072.1L338.5 2063.1L339.5 2046.8L340.5 1980.7L342.5 1340L342.9 1379.4L344.3 1909.6L344.9 2005.9L345.5 2043.3L346.7 2067.1L347.7 2075.3L348.9 2080.9L350.5 2085.2L352.7 2088.7L355.9 2091.9L360.1 2094.7L365.1 2097.1L370.7 2099.2L386.7 2103.2L430.9 2111.1L444.3 2113L455.3 2114.1L463.3 2114L465.9 2113.4L468.1 2112.3L469.7 2110.8L471.1 2108.5L473.1 2101.5L474.5 2089.1L475.3 2071.4L476.3 1990.5L478.3 1402.1L478.7 1433.8L480.1 1911.8L481.1 2052.9L481.9 2083.1L483.5 2101.5L484.7 2107.3L486.1 2111.1L488.1 2114.1L490.9 2116.3L497.3 2118.7L509.1 2120.8L527.3 2123.1L542.9 2124L571.7 2124.5L586.5 2124.3L601.7 2123L625.1 2119.9L630.7 2118.6L631.9 2117.6L632.7 2116.2L633.9 2110.9L635.7 2095.2L636.3 2092.9L636.9 2095.1L639.3 2113.7L640.5 2116.6L642.3 2117.7L646.9 2117.9L656.1 2117.3L677.9 2114.6L686.7 2112.1L696.9 2107.7L700.3 2105.6L702.5 2103.1L703.7 2100L704.5 2094.5L705.5 2075.9L707.1 2011.8L707.7 2003.3L710.1 2084.2L711.1 2095.9L711.7 2098.4L712.7 2100.2L714.3 2101.3L716.7 2101.6L724.9 2100.1L749.1 2092L778.3 2083.1L780.9 2081.3L782.5 2079L783.5 2075.6L784.3 2069.1L785.5 2043.3L787.1 1981.6L787.7 1974.4L789.7 2042.4L790.7 2065L791.3 2071.3L792.1 2075.2L793.3 2077.1L794.9 2077.3L796.3 2075.6L797.1 2073L798.3 2060.8L799.3 2033.3L800.7 1971.8L801.3 1960.2L801.9 1971.8L803.7 2047L804.9 2069.2L805.7 2074.5L807.1 2077.8L809.3 2079.8L812.7 2080.8L821.9 2081.2L837.9 2080.3L844.3 2079.3L846.3 2078.5L847.5 2077.5L848.7 2075L849.7 2069.7L852.7 2036L853.1 2036.7L853.5 2040L856.1 2070.8L857.3 2075.7L858.1 2077L859.3 2077.9L862.9 2078.7L869.3 2078.9L913.7 2077.2L926.9 2076.3L930.3 2075.6L932.7 2074.6L934.1 2073.4L935.1 2071.6L936.5 2064.1L937.7 2047L939.3 2011.7L939.7 2006.3L940.1 2005.1L940.7 2011.7L942.7 2053.9L943.9 2066.9L944.7 2070.6L945.9 2073L947.9 2074.4L951.3 2075.2L958.5 2075.6L984.7 2075.4L1041.1 2075.8L1049.1 2075.5L1053.5 2074.6L1054.9 2073.7L1055.9 2072.2L1057.3 2067.1L1058.5 2057.3L1060.5 2033L1061.3 2029L1062.1 2033.1L1064.3 2059.6L1065.7 2069.4L1066.5 2072.1L1067.7 2074.1L1069.3 2075.3L1071.9 2076.1L1080.9 2077.3L1113.7 2079.3L1153.1 2082.6L1173.1 2083.3L1182.5 2082.7L1184.3 2082L1185.7 2080.9L1187.7 2076.5L1189.3 2068.6L1191.9 2050.4L1192.9 2047.7L1193.5 2048.7L1194.1 2051.6L1196.5 2068.7L1197.9 2075.9L1199.7 2080.5L1200.9 2081.8L1202.3 2082.5L1204.7 2082.9L1207.1 2082.6L1208.7 2081.7L1209.9 2080.1L1211.7 2074.6L1214.5 2059.1L1215.7 2055.6L1216.3 2056.1L1216.9 2058.3L1220.5 2077.4L1221.7 2080.8L1223.1 2082.8L1226.1 2084.3L1232.5 2085.1L1240.3 2085.1L1244.5 2084L1246.5 2081.7L1247.9 2077.8L1251.5 2056.3L1252.1 2053.7L1252.7 2052.8L1253.3 2053.8L1253.9 2056.5L1256.3 2072.3L1257.7 2079L1259.3 2083L1261.5 2085.1L1264.5 2086.1L1269.5 2086.8L1295.3 2088.8L1311.9 2089.6L1323.3 2089.4L1327.1 2088.7L1329.5 2087.6L1331.1 2085.5L1332.3 2082.3L1334.3 2071L1337.5 2040.6L1338.5 2036.9L1339.5 2040.7L1342.7 2071.3L1344.7 2082.8L1345.9 2086.1L1347.5 2088.3L1349.7 2089.6L1353.3 2090.6L1365.5 2091.8L1392.7 2093L1465.9 2094.8L1479.1 2094.7L1482.5 2093.8L1484.7 2091.8L1486.7 2087.7L1489.9 2078.4L1491.1 2076.9L1491.7 2077.1L1492.5 2078.5L1495.7 2088.1L1497.5 2092.1L1499.7 2094.5L1502.9 2095.8L1508.7 2096.5L1516.5 2096.9L1521.1 2096.8L1523.7 2096.2L1525.3 2095.1L1526.7 2093.2L1530.9 2083.3L1532.3 2081.8L1533.7 2083.5L1536.7 2091.3L1538.5 2094.8L1540.5 2096.9L1542.9 2098L1552.1 2099.2L1570.9 2100.1L1587.7 2100.4L1598.5 2099.9L1602.3 2099.2L1604.7 2098.3L1606.5 2096.7L1608.1 2094L1610.7 2085L1614.5 2064.4L1615.3 2061.7L1616.1 2060.9L1616.9 2062L1617.7 2064.9L1621.5 2083.6L1622.7 2087.1L1623.9 2088.7L1624.7 2088.8L1625.7 2088.1L1629.5 2080.9L1630.3 2079.9L1631.1 2079.7L1632.7 2081.5L1636.5 2089.7L1638.3 2091.4L1639.3 2091.4L1640.5 2090.5L1644.5 2084.9L1645.3 2084.6L1646.1 2084.9L1647.5 2086.8L1652.3 2096.5L1654.3 2098.9L1656.5 2100.3L1663.3 2101.7L1684.9 2103.7" stroke="#0a7f0a" stroke-width="3.3" stroke-linejoin="miter"/>
<path d="M156.7 2065L170.9 2067.7L182.5 2070.7L188.9 2071.1L195.1 2069.7L221.3 2060.5L234.7 2057.1L244.7 2055.6L258.7 2054.6L265.5 2054.7L270.7 2056.1L283.1 2061.3L297.1 2068.2L355.1 2094.7L362.7 2097.6L367.3 2098.4L368.7 2098L369.5 2097.1L370.7 2092.5L371.7 2082.2L373.3 2055.1L373.9 2051L374.5 2055.4L376.3 2086.1L377.3 2095.5L378.7 2100.1L379.9 2101.4L381.9 2102.6L387.1 2104.2L396.3 2106.2L427.5 2111.8L448.9 2115.1L475.5 2118.6L518.1 2123.4L542.3 2125.2L578.9 2125.6L590.3 2125.2L627.3 2121.1L661.1 2118L677.7 2115.7L683.1 2114.4L689.7 2112.2L699.9 2108L703.1 2106.1L704.5 2104.3L705.7 2101.5L708.9 2088.3L709.5 2086.6L710.1 2086L711.1 2087.7L713.5 2096.8L714.9 2100.4L716.7 2102.2L719.3 2102.4L728.7 2100.2L747.5 2093.7L760.7 2089.7L774.1 2086.5L796.3 2084.3L857.7 2080.7L867.3 2079.7L869.3 2078.9L870.9 2077.3L874.5 2068.4L875.7 2067L876.7 2068.3L879.1 2074.6L880.7 2077.4L882.5 2078.6L885.5 2079.1L978.7 2076.5L1013.9 2076.7L1053.1 2077.5L1109.5 2080.1L1147.3 2083.4L1163.1 2084.4L1266.7 2088.4L1327.1 2091.8L1388.9 2094L1465.7 2096.1L1569.3 2101.5L1656.7 2103.4L1684.9 2105" stroke="#ff9a1f" stroke-width="4"/>
<path d="M156.7 2064L170.9 2066.7L182.3 2069.5L185.9 2070L189.1 2069.9L192.3 2069.2L195.9 2068.1L222.3 2057.6L236.9 2053.1L243.3 2051.7L252.7 2050.6L260.5 2050L265.3 2050.2L270.9 2051.8L282.3 2057.1L296.7 2065.1L312.1 2073.1L352.7 2092.8L363.5 2097.4L372.5 2100.3L381.5 2102.5L392.5 2104.6L428.3 2110.9L448.9 2114.1L475.5 2117.6L518.1 2122.4L531.3 2123.6L542.3 2124.2L578.5 2124.6L590.1 2124.2L601.1 2123.2L627.3 2120.1L661.3 2117L677.3 2114.9L685.1 2112.9L702.1 2107L727.1 2099.9L747.1 2092.8L760.1 2088.9L770.5 2086.2L779.5 2084.9L803.7 2082.9L864.3 2079.5L903.3 2077.8L973.7 2075.6L1020.7 2075.8L1064.5 2076.9L1110.5 2079.2L1146.7 2082.4L1161.9 2083.3L1266.9 2087.4L1326.7 2090.8L1388.9 2093L1465.7 2095.1L1569.3 2100.5L1593.1 2101.2L1656.7 2102.4L1684.9 2104" stroke="#860a86" stroke-width="4.8" opacity="0.95"/>
</g>
<g id="legend">
<rect x="980.5" y="1254" width="687.5" height="320.5" fill="#fff" stroke="#555" stroke-width="4.2"/>
<circle cx="1039.7" cy="1286.9" r="3.6" fill="#f22"/>
<line x1="988" y1="1344.7" x2="1092" y2="1344.7" stroke="#1a1a1a" stroke-width="4.6" stroke-linecap="butt"/>
<line x1="988" y1="1401.6" x2="1092" y2="1401.6" stroke="#62b862" stroke-width="4.6" stroke-linecap="butt"/>
<line x1="988" y1="1472" x2="1092" y2="1472" stroke="#ffb26b" stroke-width="4.6" stroke-linecap="butt"/>
<line x1="988" y1="1529" x2="1092" y2="1529" stroke="#8b0a8b" stroke-width="4.6" stroke-linecap="butt"/>
<text class="a" x="1107" y="1303.1000000000001" font-size="47.0" stroke="#111" stroke-width="1.1">Experimental</text>
<text class="a" x="1107" y="1361.3" font-size="47.0" stroke="#111" stroke-width="1.1">Best Fit</text>
<text class="a" x="1107" y="1418.2" font-size="47.0" stroke="#111" stroke-width="1.1">(Hf<tspan dy="16" font-size="32.2">0.2</tspan><tspan dy="-16" font-size="1"> </tspan>Mo<tspan dy="16" font-size="32.2">0.2</tspan><tspan dy="-16" font-size="1"> </tspan>Ti<tspan dy="16" font-size="32.2">0.2</tspan><tspan dy="-16" font-size="1"> </tspan>Ta<tspan dy="16" font-size="32.2">0.2</tspan><tspan dy="-16" font-size="1"> </tspan>Zr<tspan dy="16" font-size="32.2">0.2</tspan><tspan dy="-16" font-size="1"> </tspan>)B<tspan dy="16" font-size="32.2">2</tspan><tspan dy="-16" font-size="1"> </tspan></text>
<text class="a" x="1107" y="1486.5" font-size="47.0" stroke="#111" stroke-width="1.1">SiC</text>
<text class="a" x="1107" y="1543.4" font-size="47.0" stroke="#111" stroke-width="1.1">HfO<tspan dy="16" font-size="32.2">2</tspan><tspan dy="-16" font-size="1"> </tspan></text>
</g>
</g></svg></body></html>
